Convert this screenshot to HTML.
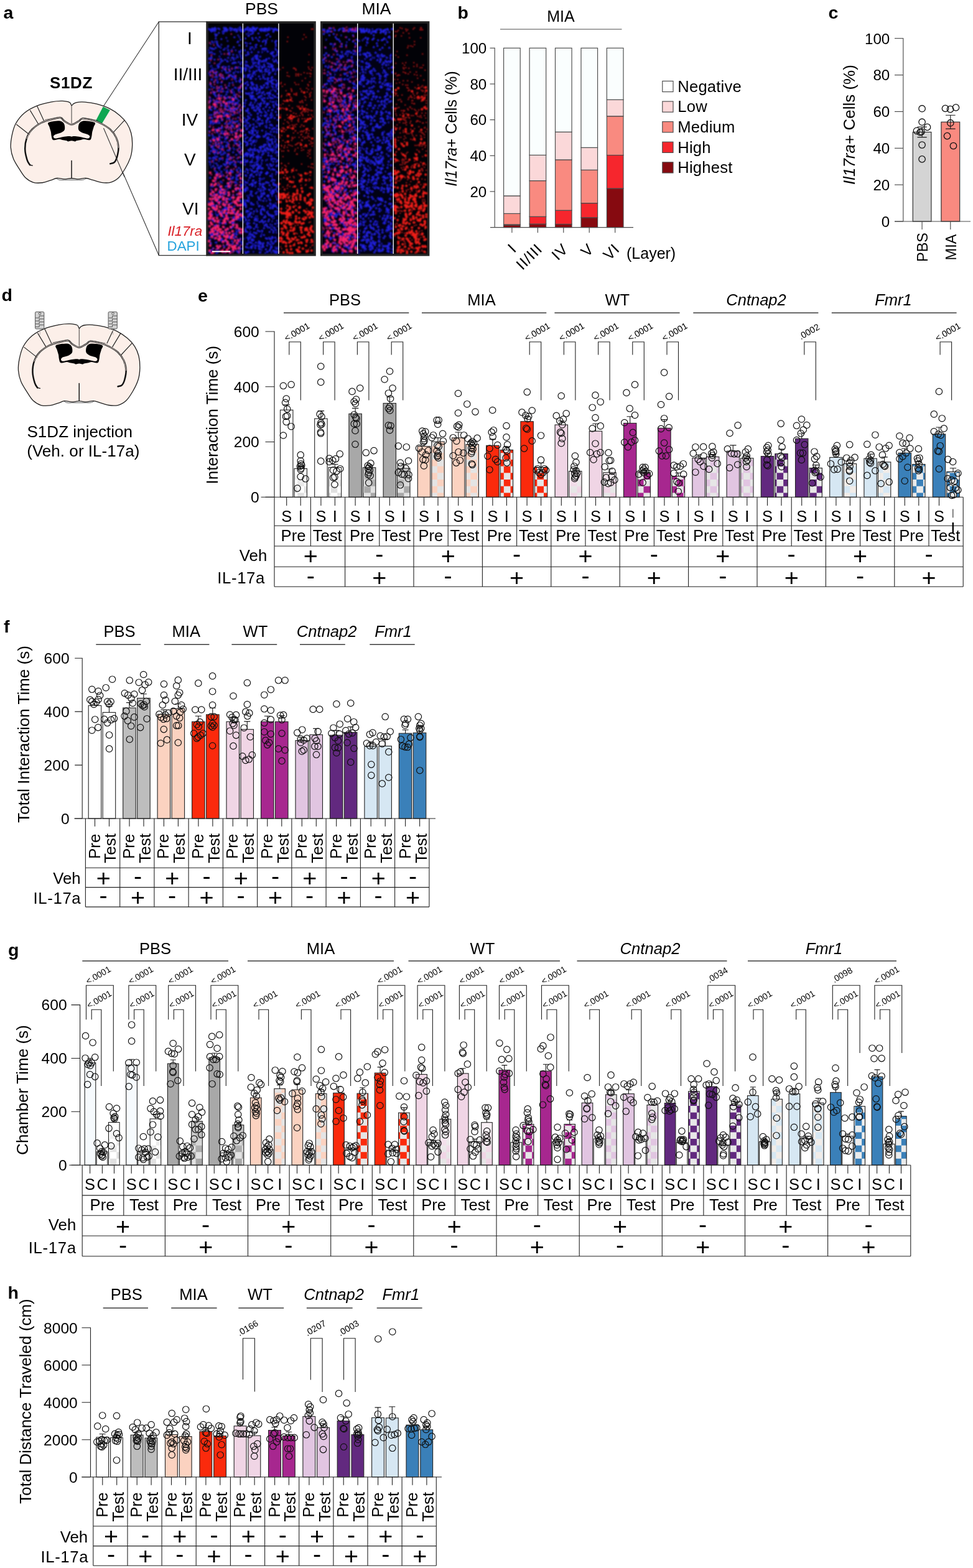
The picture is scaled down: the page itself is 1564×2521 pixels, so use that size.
<!DOCTYPE html>
<html lang="en"><head><meta charset="utf-8"><title>Figure</title>
<style>html,body{margin:0;padding:0;background:#fff}svg{display:block}text{font-family:'Liberation Sans', Arial, Helvetica, sans-serif}</style>
</head><body>
<svg width="1564" height="2521" viewBox="0 0 1564 2521" stroke-linecap="butt">
<defs><filter id="bl" x="-5%" y="-5%" width="110%" height="110%"><feGaussianBlur stdDeviation="0.8"/></filter><pattern id="ck0" width="21.4" height="21.4" patternUnits="userSpaceOnUse" patternTransform="translate(18 0.6)"><rect width="21.4" height="21.4" fill="#e0e0e0"/><path d="M0 0h10.7v10.7h-10.7zM10.7 10.7h10.7v10.7h-10.7z" fill="#ffffff"/></pattern><pattern id="ck1" width="21.4" height="21.4" patternUnits="userSpaceOnUse" patternTransform="translate(18 0.6)"><rect width="21.4" height="21.4" fill="#e2e2e2"/><path d="M0 0h10.7v10.7h-10.7zM10.7 10.7h10.7v10.7h-10.7z" fill="#a8a8a8"/></pattern><pattern id="ck2" width="21.4" height="21.4" patternUnits="userSpaceOnUse" patternTransform="translate(18 0.6)"><rect width="21.4" height="21.4" fill="#e4e4e4"/><path d="M0 0h10.7v10.7h-10.7zM10.7 10.7h10.7v10.7h-10.7z" fill="#fbd2c0"/></pattern><pattern id="ck3" width="21.4" height="21.4" patternUnits="userSpaceOnUse" patternTransform="translate(18 0.6)"><rect width="21.4" height="21.4" fill="#e6e6e6"/><path d="M0 0h10.7v10.7h-10.7zM10.7 10.7h10.7v10.7h-10.7z" fill="#fb2a0c"/></pattern><pattern id="ck4" width="21.4" height="21.4" patternUnits="userSpaceOnUse" patternTransform="translate(18 0.6)"><rect width="21.4" height="21.4" fill="#e6e6e6"/><path d="M0 0h10.7v10.7h-10.7zM10.7 10.7h10.7v10.7h-10.7z" fill="#f0d5e5"/></pattern><pattern id="ck5" width="21.4" height="21.4" patternUnits="userSpaceOnUse" patternTransform="translate(18 0.6)"><rect width="21.4" height="21.4" fill="#e6e6e6"/><path d="M0 0h10.7v10.7h-10.7zM10.7 10.7h10.7v10.7h-10.7z" fill="#a7278f"/></pattern><pattern id="ck6" width="21.4" height="21.4" patternUnits="userSpaceOnUse" patternTransform="translate(18 0.6)"><rect width="21.4" height="21.4" fill="#e6e6e6"/><path d="M0 0h10.7v10.7h-10.7zM10.7 10.7h10.7v10.7h-10.7z" fill="#e1c5e1"/></pattern><pattern id="ck7" width="21.4" height="21.4" patternUnits="userSpaceOnUse" patternTransform="translate(18 0.6)"><rect width="21.4" height="21.4" fill="#e8e8e8"/><path d="M0 0h10.7v10.7h-10.7zM10.7 10.7h10.7v10.7h-10.7z" fill="#62297f"/></pattern><pattern id="ck8" width="21.4" height="21.4" patternUnits="userSpaceOnUse" patternTransform="translate(18 0.6)"><rect width="21.4" height="21.4" fill="#f1ece8"/><path d="M0 0h10.7v10.7h-10.7zM10.7 10.7h10.7v10.7h-10.7z" fill="#d6e7f3"/></pattern><pattern id="ck9" width="21.4" height="21.4" patternUnits="userSpaceOnUse" patternTransform="translate(18 0.6)"><rect width="21.4" height="21.4" fill="#ebebeb"/><path d="M0 0h10.7v10.7h-10.7zM10.7 10.7h10.7v10.7h-10.7z" fill="#3a80b9"/></pattern><pattern id="gk0" width="21.2" height="21.2" patternUnits="userSpaceOnUse" patternTransform="translate(7.2 7.8)"><rect width="21.2" height="21.2" fill="#e0e0e0"/><path d="M0 0h10.6v10.6h-10.6zM10.6 10.6h10.6v10.6h-10.6z" fill="#ffffff"/></pattern><pattern id="gk1" width="21.2" height="21.2" patternUnits="userSpaceOnUse" patternTransform="translate(7.2 7.8)"><rect width="21.2" height="21.2" fill="#e2e2e2"/><path d="M0 0h10.6v10.6h-10.6zM10.6 10.6h10.6v10.6h-10.6z" fill="#a8a8a8"/></pattern><pattern id="gk2" width="21.2" height="21.2" patternUnits="userSpaceOnUse" patternTransform="translate(7.2 7.8)"><rect width="21.2" height="21.2" fill="#e4e4e4"/><path d="M0 0h10.6v10.6h-10.6zM10.6 10.6h10.6v10.6h-10.6z" fill="#fbd2c0"/></pattern><pattern id="gk3" width="21.2" height="21.2" patternUnits="userSpaceOnUse" patternTransform="translate(7.2 7.8)"><rect width="21.2" height="21.2" fill="#e6e6e6"/><path d="M0 0h10.6v10.6h-10.6zM10.6 10.6h10.6v10.6h-10.6z" fill="#fb2a0c"/></pattern><pattern id="gk4" width="21.2" height="21.2" patternUnits="userSpaceOnUse" patternTransform="translate(7.2 7.8)"><rect width="21.2" height="21.2" fill="#e6e6e6"/><path d="M0 0h10.6v10.6h-10.6zM10.6 10.6h10.6v10.6h-10.6z" fill="#f0d5e5"/></pattern><pattern id="gk5" width="21.2" height="21.2" patternUnits="userSpaceOnUse" patternTransform="translate(7.2 7.8)"><rect width="21.2" height="21.2" fill="#e6e6e6"/><path d="M0 0h10.6v10.6h-10.6zM10.6 10.6h10.6v10.6h-10.6z" fill="#a7278f"/></pattern><pattern id="gk6" width="21.2" height="21.2" patternUnits="userSpaceOnUse" patternTransform="translate(7.2 7.8)"><rect width="21.2" height="21.2" fill="#e6e6e6"/><path d="M0 0h10.6v10.6h-10.6zM10.6 10.6h10.6v10.6h-10.6z" fill="#e1c5e1"/></pattern><pattern id="gk7" width="21.2" height="21.2" patternUnits="userSpaceOnUse" patternTransform="translate(7.2 7.8)"><rect width="21.2" height="21.2" fill="#e8e8e8"/><path d="M0 0h10.6v10.6h-10.6zM10.6 10.6h10.6v10.6h-10.6z" fill="#62297f"/></pattern><pattern id="gk8" width="21.2" height="21.2" patternUnits="userSpaceOnUse" patternTransform="translate(7.2 7.8)"><rect width="21.2" height="21.2" fill="#f1ece8"/><path d="M0 0h10.6v10.6h-10.6zM10.6 10.6h10.6v10.6h-10.6z" fill="#d6e7f3"/></pattern><pattern id="gk9" width="21.2" height="21.2" patternUnits="userSpaceOnUse" patternTransform="translate(7.2 7.8)"><rect width="21.2" height="21.2" fill="#ebebeb"/><path d="M0 0h10.6v10.6h-10.6zM10.6 10.6h10.6v10.6h-10.6z" fill="#3a80b9"/></pattern><linearGradient id="fde0" gradientUnits="userSpaceOnUse" x1="0" y1="753.3" x2="0" y2="787.3"><stop offset="0" stop-color="#ffffff"/><stop offset="1" stop-color="#ffffff" stop-opacity="0"/></linearGradient><linearGradient id="fde1" gradientUnits="userSpaceOnUse" x1="0" y1="753.3" x2="0" y2="787.3"><stop offset="0" stop-color="#c4c4c4"/><stop offset="1" stop-color="#c4c4c4" stop-opacity="0"/></linearGradient><linearGradient id="fde4" gradientUnits="userSpaceOnUse" x1="0" y1="753.3" x2="0" y2="787.3"><stop offset="0" stop-color="#f9f0f5"/><stop offset="1" stop-color="#f9f0f5" stop-opacity="0"/></linearGradient><linearGradient id="fdg0" gradientUnits="userSpaceOnUse" x1="0" y1="1811.2" x2="0" y2="1855.2"><stop offset="0" stop-color="#ffffff"/><stop offset="1" stop-color="#ffffff" stop-opacity="0"/></linearGradient><linearGradient id="fdg1" gradientUnits="userSpaceOnUse" x1="0" y1="1811.2" x2="0" y2="1855.2"><stop offset="0" stop-color="#c4c4c4"/><stop offset="1" stop-color="#c4c4c4" stop-opacity="0"/></linearGradient><linearGradient id="fdg4" gradientUnits="userSpaceOnUse" x1="0" y1="1811.2" x2="0" y2="1855.2"><stop offset="0" stop-color="#f9f0f5"/><stop offset="1" stop-color="#f9f0f5" stop-opacity="0"/></linearGradient></defs>
<rect width="1564" height="2521" fill="#fff"/>
<g id="panel-a">
<text font-size="28.5" font-weight="bold" x="5.5" y="30">a</text>
<text font-size="26" text-anchor="middle" font-weight="bold" letter-spacing="0.6" x="114.5" y="142.3">S1DZ</text>
<g stroke="#333" stroke-width="1.1">
<line x1="165.5" y1="172" x2="255.3" y2="35"/>
<line x1="166.5" y1="206" x2="255.3" y2="410.5"/>
</g>
<g transform="translate(10 150) scale(0.14550)" stroke-linejoin="round" stroke-linecap="round">
<path d="M722 135C715 132 717 108 700 100C683 92 653 86 620 85C587 84 547 86 500 95C453 104 390 118 340 138C290 158 239 185 200 218C161 251 128 293 105 335C82 377 71 426 62 470C53 514 47 558 50 600C53 642 63 684 80 725C97 766 128 810 150 845C172 880 190 912 215 935C240 958 269 976 300 985C331 994 368 992 400 988C432 984 463 970 490 962C517 954 535 940 560 938C585 936 613 948 640 948C667 948 695 940 722 940C749 940 774 948 800 948C826 948 854 936 880 938C906 940 927 950 955 958C983 966 1018 980 1050 985C1082 990 1118 993 1150 985C1182 977 1212 961 1240 935C1268 909 1292 869 1315 830C1338 791 1362 743 1375 700C1388 657 1392 613 1393 570C1394 527 1390 479 1380 440C1370 401 1356 368 1335 335C1314 302 1288 273 1255 245C1222 217 1182 189 1140 168C1098 147 1045 130 1000 118C955 106 907 100 870 97C833 94 802 96 780 100C758 104 750 112 740 118C730 124 729 138 722 135Z" fill="#fcefe9" stroke="#222" stroke-width="9"/>
<path d="M555 940C575 960 600 962 640 958L800 958C850 960 865 955 885 940" fill="none" stroke="#222" stroke-width="5"/>
<path d="M340 140L415 300M265 190L355 340M115 345L255 455" fill="none" stroke="#222" stroke-width="8"/>
<path d="M1305 300L1185 430" fill="none" stroke="#222" stroke-width="8"/>
<path d="M1070 148L1147 186L1055 338L988 306Z" fill="#0fa651" stroke="none"/>
<path d="M722 135L722 330" fill="none" stroke="#222" stroke-width="6"/>
<path d="M262 792C257 783 241 769 232 740C223 711 209 660 208 620C207 580 212 537 225 500C238 463 259 428 285 400C311 372 348 348 380 330C412 312 444 305 480 295C516 285 571 268 598 270C625 272 619 292 640 305C661 318 694 345 722 345C750 345 784 316 805 305C826 294 818 279 845 278C872 277 929 290 965 300C1001 310 1029 323 1060 340C1091 357 1124 375 1150 400C1176 425 1200 457 1215 490C1230 523 1238 565 1240 600C1242 635 1232 673 1225 700C1218 727 1208 749 1195 762C1182 775 1158 775 1150 778" fill="none" stroke="#111" stroke-width="17"/>
<path d="M225 500C235 483 259 428 285 400C311 372 348 348 380 330C412 312 444 305 480 295C516 285 571 268 598 270C625 272 619 292 640 305C661 318 694 345 722 345C750 345 784 316 805 305C826 294 818 279 845 278C872 277 929 290 965 300C1001 310 1029 323 1060 340C1091 357 1124 375 1150 400C1176 425 1200 457 1215 490C1230 523 1236 582 1240 600" fill="none" stroke="#fcefe9" stroke-width="6"/>
<path d="M262 792L290 798M1150 778L1190 765" fill="none" stroke="#111" stroke-width="9"/>
<path d="M430 292L595 262L640 296M1010 300L845 270L805 298" fill="none" stroke="#222" stroke-width="4"/>
<path d="M722 480C713 480 709 475 695 475C681 475 658 477 640 480C622 483 603 488 586 491C569 494 551 500 540 499C529 498 524 490 522 485C520 480 521 473 525 468C529 463 533 459 548 453C563 447 597 440 613 431C629 422 642 414 646 398C650 382 647 353 640 338C633 323 620 312 602 307C584 302 554 304 531 307C508 310 472 316 463 327C454 338 472 355 477 371C482 387 489 409 493 425C497 441 496 455 499 469C502 483 504 499 509 507C514 515 518 518 531 518C544 518 570 507 586 507C602 507 616 515 630 518C644 521 659 522 668 524C677 526 675 532 684 532C693 532 709 524 722 524C735 524 751 532 760 532C769 532 767 526 776 524C785 522 800 521 814 518C828 515 842 507 858 507C874 507 900 518 913 518C926 518 930 515 935 507C940 499 942 483 945 469C948 455 947 441 951 425C955 409 962 387 967 371C972 355 990 338 981 327C972 316 936 310 913 307C890 304 860 302 842 307C824 312 811 323 804 338C797 353 794 382 798 398C802 414 815 422 831 431C847 440 881 447 896 453C911 459 915 463 919 468C923 473 924 480 922 485C920 490 915 498 904 499C893 500 875 494 858 491C841 488 822 483 804 480C786 477 763 475 749 475C735 475 731 480 722 480Z" fill="#000" stroke="none"/>
<path d="M722 745L722 935" fill="none" stroke="#111" stroke-width="10"/>
</g>
<line x1="166.5" y1="206" x2="200" y2="284.3" stroke-width="1.1" stroke="#333"/>
<rect x="255.3" y="35" width="77" height="375.6" fill="#fff" stroke="#333" stroke-width="1.3"/>
<text font-size="28" text-anchor="middle" x="305" y="71">I</text>
<text font-size="28" text-anchor="middle" x="302" y="128.5">II/III</text>
<text font-size="28" text-anchor="middle" x="305" y="202">IV</text>
<text font-size="28" text-anchor="middle" x="305.4" y="265.5">V</text>
<text font-size="28" text-anchor="middle" x="306.3" y="344.5">VI</text>
<text font-size="22.3" text-anchor="middle" font-style="italic" fill="#d92027" x="297.3" y="379">Il17ra</text>
<text font-size="22.3" text-anchor="middle" fill="#26a3dd" x="294.6" y="402.5">DAPI</text>
<text font-size="26.5" text-anchor="middle" x="420.5" y="22.6">PBS</text>
<text font-size="26.5" text-anchor="middle" x="605" y="22.6">MIA</text>
<rect x="331.4" y="34.2" width="176.4" height="377.4" fill="#242424"/>
<rect x="334.8" y="37.8" width="169.4" height="370.2" fill="#020207"/>
<g fill="none" stroke-linecap="round" filter="url(#bl)">
<g transform="translate(334.8 37.8)">
<rect x="0" y="40" width="55.6" height="330.2" fill="#08084a" opacity=".15"/>
<path d="M36 8h0M48 8h0M52 8h0M2 9h0M28 9h0M35 9h0M41 9h0M52 9h0M39 10h0M42 11h0M4 12h0M9 12h0M29 12h0M30 12h0M5 13h0M23 13h0M26 13h0M45 13h0M46 13h0M48 19h0M50 22h0M29 23h0M31 28h0M11 29h0M8 31h0M4 33h0M15 34h0M21 34h0M19 38h0M20 39h0M31 39h0M27 40h0M6 41h0M38 42h0M1 43h0M37 43h0M44 43h0M53 43h0M19 45h0M52 45h0M50 47h0M7 48h0M21 49h0M51 50h0M46 51h0M53 52h0M18 53h0M52 53h0M44 56h0M1 57h0M21 59h0M36 59h0M30 60h0M42 63h0M15 66h0M5 68h0M4 69h0M25 69h0M49 70h0M48 71h0M51 71h0M7 72h0M54 72h0M12 73h0M38 73h0M9 74h0M22 76h0M3 77h0M44 77h0M41 79h0M1 80h0M12 80h0M3 81h0M23 83h0M36 83h0M41 84h0M41 87h0M51 88h0M29 89h0M14 90h0M43 90h0M13 91h0M15 93h0M52 101h0M18 102h0M14 103h0M29 103h0M17 104h0M22 104h0M45 104h0M23 105h0M21 106h0M32 106h0M19 107h0M18 109h0M7 110h0M29 110h0M31 110h0M41 110h0M39 111h0M42 113h0M17 115h0M41 115h0M18 117h0M44 118h0M38 119h0M16 120h0M30 120h0M35 120h0M8 122h0M12 124h0M13 125h0M18 125h0M40 125h0M2 127h0M21 127h0M30 127h0M42 127h0M12 128h0M14 130h0M32 130h0M39 130h0M48 130h0M43 131h0M22 132h0M50 132h0M28 133h0M34 134h0M40 134h0M10 137h0M36 138h0M15 140h0M36 140h0M40 140h0M36 141h0M27 142h0M37 142h0M40 142h0M48 142h0M15 143h0M12 144h0M50 144h0M33 145h0M9 146h0M30 146h0M42 146h0M2 147h0M27 148h0M11 150h0M18 150h0M5 152h0M30 153h0M15 154h0M3 157h0M17 157h0M6 159h0M12 159h0M35 159h0M12 160h0M15 160h0M34 161h0M7 162h0M49 165h0M32 166h0M33 167h0M45 167h0M29 168h0M13 172h0M36 173h0M26 174h0M42 174h0M53 174h0M36 175h0M29 176h0M17 178h0M1 179h0M27 179h0M31 181h0M43 181h0M44 181h0M27 182h0M12 183h0M17 183h0M46 184h0M8 185h0M27 185h0M8 187h0M42 188h0M15 189h0M21 190h0M20 194h0M2 195h0M3 195h0M30 196h0M19 197h0M6 199h0M53 199h0M22 200h0M40 200h0M41 202h0M42 202h0M47 202h0M21 203h0M7 204h0M14 204h0M14 205h0M25 206h0M8 207h0M25 207h0M50 209h0M31 210h0M33 211h0M11 213h0M12 215h0M8 216h0M10 216h0M2 217h0M3 217h0M4 217h0M11 217h0M46 217h0M19 218h0M30 218h0M23 219h0M17 221h0M35 222h0M40 222h0M51 223h0M3 224h0M9 224h0M3 227h0M28 227h0M41 227h0M19 230h0M5 231h0M52 234h0M18 235h0M26 235h0M50 239h0M32 240h0M21 241h0M16 242h0M17 242h0M50 242h0M23 243h0M45 243h0M36 246h0M15 248h0M16 248h0M30 248h0M13 249h0M22 256h0M32 257h0M46 257h0M33 259h0M44 259h0M4 262h0M31 266h0M4 267h0M29 270h0M53 270h0M21 271h0M32 272h0M10 274h0M15 274h0M12 275h0M25 275h0M12 278h0M51 279h0M15 280h0M23 281h0M53 285h0M1 287h0M2 288h0M26 288h0M45 288h0M54 288h0M19 289h0M18 290h0M29 290h0M3 291h0M26 292h0M6 293h0M48 293h0M52 293h0M13 295h0M36 295h0M31 296h0M10 299h0M23 299h0M38 299h0M39 299h0M26 300h0M12 302h0M41 303h0M18 304h0M34 304h0M1 305h0M12 306h0M53 307h0M6 308h0M30 310h0M3 311h0M41 311h0M33 312h0M54 312h0M26 313h0M20 315h0M42 316h0M50 316h0M53 316h0M32 317h0M10 318h0M27 320h0M36 320h0M18 324h0M10 325h0M15 325h0M40 325h0M12 326h0M26 328h0M4 331h0M45 332h0M24 334h0M29 334h0M34 336h0M44 337h0M21 339h0M23 339h0M28 341h0M41 341h0M30 342h0M40 342h0M44 343h0M2 344h0M32 344h0M9 345h0M10 346h0M47 346h0M52 346h0M51 348h0M22 349h0M43 349h0M29 350h0M48 350h0M49 350h0M22 351h0M34 354h0M48 355h0M46 356h0M15 357h0M25 358h0M48 362h0M12 364h0M5 365h0M51 365h0M15 368h0M35 369h0" stroke="#111188" stroke-width="3.8"/>
<path d="M51 6h0M11 7h0M25 7h0M28 7h0M35 7h0M6 8h0M9 8h0M16 8h0M29 8h0M38 8h0M1 9h0M7 9h0M11 9h0M12 9h0M18 9h0M26 9h0M43 9h0M44 9h0M3 10h0M6 10h0M7 10h0M31 10h0M42 10h0M46 10h0M50 10h0M54 10h0M5 11h0M8 11h0M28 11h0M29 11h0M36 11h0M6 12h0M11 12h0M25 12h0M46 12h0M52 12h0M53 12h0M54 13h0M17 15h0M24 16h0M11 17h0M14 18h0M12 20h0M42 22h0M12 24h0M21 25h0M52 26h0M6 29h0M14 29h0M48 29h0M47 30h0M14 32h0M15 35h0M50 35h0M32 36h0M17 37h0M41 38h0M3 39h0M12 39h0M6 40h0M9 41h0M25 42h0M32 43h0M50 45h0M5 46h0M2 47h0M33 47h0M34 47h0M10 49h0M34 50h0M40 50h0M5 54h0M47 54h0M32 55h0M38 55h0M40 55h0M2 56h0M5 56h0M54 56h0M20 57h0M10 58h0M27 58h0M41 58h0M23 60h0M31 61h0M20 62h0M49 62h0M54 62h0M2 63h0M41 63h0M44 63h0M39 64h0M18 65h0M52 65h0M15 68h0M17 69h0M33 69h0M23 70h0M28 70h0M44 70h0M16 71h0M43 72h0M54 72h0M25 73h0M33 73h0M27 74h0M5 75h0M54 75h0M7 76h0M28 76h0M35 77h0M14 78h0M48 78h0M53 78h0M9 79h0M29 79h0M32 79h0M41 80h0M12 81h0M18 82h0M3 83h0M34 83h0M36 83h0M18 84h0M44 84h0M38 85h0M11 86h0M14 86h0M33 86h0M40 86h0M22 87h0M23 87h0M30 87h0M24 88h0M30 88h0M43 88h0M44 88h0M25 89h0M5 90h0M6 90h0M52 91h0M50 92h0M45 93h0M50 93h0M9 94h0M51 94h0M15 95h0M21 95h0M39 95h0M34 96h0M4 97h0M3 98h0M33 100h0M53 100h0M5 101h0M21 101h0M9 103h0M29 103h0M43 103h0M51 104h0M2 106h0M39 106h0M49 106h0M16 108h0M49 108h0M24 109h0M37 109h0M54 109h0M9 110h0M31 110h0M11 111h0M9 113h0M29 114h0M11 115h0M43 115h0M16 116h0M21 116h0M12 117h0M26 117h0M32 118h0M44 118h0M52 118h0M26 119h0M39 119h0M3 120h0M28 120h0M43 120h0M46 121h0M41 123h0M4 124h0M49 124h0M14 125h0M35 125h0M39 125h0M2 126h0M15 126h0M32 126h0M38 126h0M10 127h0M11 127h0M36 127h0M47 127h0M26 128h0M44 128h0M45 128h0M42 130h0M11 131h0M21 131h0M27 132h0M33 133h0M6 134h0M11 134h0M27 135h0M47 136h0M11 137h0M34 137h0M36 137h0M39 137h0M43 137h0M45 137h0M3 138h0M29 138h0M40 138h0M5 139h0M31 139h0M53 139h0M36 140h0M42 140h0M13 142h0M10 143h0M18 144h0M24 144h0M11 145h0M25 145h0M29 145h0M31 145h0M5 147h0M39 147h0M20 148h0M25 149h0M11 150h0M48 151h0M6 152h0M21 152h0M33 152h0M34 153h0M14 156h0M22 156h0M38 156h0M5 157h0M13 157h0M47 157h0M5 158h0M13 158h0M41 158h0M44 158h0M4 159h0M36 159h0M9 160h0M18 160h0M40 160h0M3 161h0M27 161h0M32 161h0M49 161h0M38 163h0M40 165h0M2 166h0M22 166h0M31 166h0M40 166h0M17 168h0M21 168h0M22 168h0M37 168h0M50 169h0M12 170h0M16 170h0M13 171h0M47 171h0M2 173h0M22 173h0M46 173h0M14 175h0M38 175h0M21 176h0M24 177h0M44 177h0M2 180h0M7 180h0M18 181h0M44 182h0M48 182h0M9 183h0M22 183h0M30 184h0M7 185h0M17 185h0M28 186h0M11 187h0M15 187h0M18 187h0M3 188h0M35 188h0M41 188h0M42 188h0M45 188h0M4 190h0M26 190h0M50 190h0M12 191h0M21 191h0M30 191h0M43 192h0M32 193h0M44 193h0M46 193h0M52 193h0M12 194h0M16 194h0M50 195h0M12 196h0M29 196h0M8 197h0M23 197h0M29 198h0M50 198h0M5 199h0M24 199h0M8 201h0M18 201h0M35 201h0M8 203h0M11 203h0M54 203h0M31 204h0M34 204h0M4 205h0M20 206h0M49 206h0M52 206h0M12 207h0M19 207h0M40 207h0M19 208h0M27 208h0M2 209h0M10 209h0M15 209h0M24 210h0M21 211h0M45 211h0M31 212h0M14 214h0M31 214h0M35 215h0M52 215h0M2 216h0M8 216h0M10 216h0M38 216h0M18 217h0M20 217h0M30 218h0M33 218h0M30 219h0M8 220h0M2 222h0M29 222h0M31 222h0M43 222h0M48 222h0M53 222h0M54 222h0M38 223h0M35 224h0M53 224h0M13 225h0M29 225h0M30 225h0M34 225h0M25 226h0M35 226h0M43 226h0M15 228h0M27 228h0M8 229h0M21 229h0M44 229h0M31 230h0M11 232h0M16 232h0M18 232h0M49 232h0M46 235h0M30 236h0M36 236h0M46 236h0M52 236h0M11 237h0M38 237h0M21 238h0M30 238h0M36 238h0M39 238h0M53 238h0M14 239h0M39 239h0M13 241h0M52 243h0M15 244h0M48 244h0M21 245h0M46 245h0M47 245h0M29 247h0M40 247h0M3 248h0M45 248h0M52 248h0M39 249h0M36 250h0M45 251h0M47 251h0M54 251h0M11 253h0M20 254h0M35 255h0M43 255h0M44 255h0M12 257h0M31 257h0M6 258h0M33 258h0M54 259h0M16 260h0M52 260h0M55 260h0M31 261h0M7 262h0M28 262h0M19 263h0M53 263h0M35 264h0M45 264h0M20 265h0M12 266h0M21 266h0M50 266h0M19 268h0M22 268h0M25 268h0M45 268h0M51 268h0M53 270h0M6 271h0M17 271h0M54 272h0M23 273h0M20 274h0M28 274h0M10 275h0M34 275h0M46 275h0M4 276h0M19 276h0M40 276h0M32 277h0M22 278h0M37 280h0M40 280h0M29 281h0M9 282h0M33 282h0M14 283h0M16 283h0M26 283h0M35 283h0M29 285h0M51 285h0M14 286h0M20 286h0M7 287h0M17 287h0M42 288h0M37 289h0M34 290h0M9 292h0M13 292h0M25 292h0M5 293h0M26 293h0M42 294h0M9 295h0M10 295h0M34 295h0M10 296h0M28 296h0M33 296h0M27 297h0M39 297h0M9 298h0M13 298h0M26 298h0M29 298h0M38 298h0M9 299h0M30 299h0M25 300h0M41 302h0M21 303h0M46 304h0M19 305h0M28 305h0M30 305h0M37 305h0M54 305h0M6 306h0M18 306h0M22 306h0M30 306h0M43 306h0M21 307h0M48 307h0M15 308h0M14 309h0M22 309h0M49 309h0M24 310h0M47 310h0M54 310h0M41 312h0M49 313h0M53 313h0M40 314h0M1 315h0M6 315h0M42 315h0M46 315h0M8 316h0M9 318h0M39 319h0M18 320h0M25 320h0M41 320h0M22 321h0M28 322h0M39 322h0M46 323h0M12 324h0M46 325h0M39 327h0M37 329h0M49 330h0M6 331h0M32 331h0M50 332h0M11 333h0M49 333h0M15 335h0M46 335h0M25 336h0M7 337h0M51 337h0M3 338h0M11 338h0M16 338h0M22 338h0M41 338h0M12 339h0M40 339h0M45 339h0M46 339h0M5 340h0M8 340h0M14 340h0M24 340h0M31 340h0M5 341h0M15 342h0M18 342h0M32 342h0M35 342h0M38 342h0M44 343h0M34 345h0M41 345h0M17 346h0M18 346h0M22 346h0M52 346h0M3 348h0M19 348h0M22 348h0M26 349h0M29 350h0M38 350h0M50 351h0M54 351h0M12 352h0M13 352h0M54 352h0M4 353h0M4 354h0M39 354h0M54 355h0M30 356h0M44 357h0M26 359h0M50 359h0M17 360h0M8 361h0M51 362h0M54 362h0M14 363h0M6 364h0M16 366h0M36 366h0M41 366h0M46 366h0M2 367h0M35 367h0M50 367h0M3 368h0M27 368h0M48 368h0M13 369h0" stroke="#2222dc" stroke-width="3.3"/>
<path d="M37 17h0M2 31h0M9 35h0M38 45h0M26 49h0M31 49h0M5 51h0M16 58h0M4 59h0M10 64h0M22 71h0M46 71h0M38 72h0M28 73h0M34 75h0M7 77h0M3 78h0M12 78h0M8 79h0M20 81h0M19 82h0M7 83h0M13 83h0M22 83h0M4 84h0M33 84h0M20 85h0M44 85h0M7 86h0M24 86h0M19 89h0M38 90h0M53 90h0M11 91h0M22 93h0M10 94h0M3 95h0M4 97h0M10 98h0M54 98h0M27 99h0M40 99h0M14 101h0M52 101h0M17 103h0M28 103h0M49 103h0M52 103h0M14 105h0M23 105h0M6 106h0M36 108h0M14 109h0M9 110h0M21 110h0M4 111h0M37 111h0M50 111h0M4 112h0M17 114h0M46 114h0M49 116h0M17 117h0M49 117h0M2 118h0M35 118h0M44 118h0M25 119h0M34 119h0M17 120h0M21 120h0M27 120h0M14 121h0M26 122h0M39 122h0M2 124h0M9 124h0M20 124h0M24 125h0M1 126h0M12 127h0M16 127h0M18 127h0M1 128h0M34 128h0M20 129h0M39 129h0M44 130h0M51 131h0M2 132h0M11 133h0M20 133h0M30 133h0M12 134h0M14 134h0M40 134h0M49 134h0M54 135h0M37 136h0M42 136h0M18 137h0M21 137h0M37 137h0M39 137h0M26 138h0M28 138h0M51 138h0M20 139h0M46 139h0M19 140h0M23 140h0M32 140h0M35 141h0M39 141h0M51 141h0M10 142h0M20 142h0M22 142h0M42 142h0M14 143h0M24 143h0M43 143h0M15 144h0M42 144h0M46 144h0M12 145h0M10 146h0M36 146h0M30 147h0M14 148h0M28 148h0M52 148h0M10 149h0M35 149h0M33 150h0M3 151h0M21 151h0M2 152h0M51 152h0M40 153h0M44 153h0M22 154h0M23 154h0M13 155h0M14 155h0M51 155h0M53 155h0M8 156h0M13 156h0M15 156h0M34 156h0M8 157h0M13 157h0M30 157h0M53 158h0M29 159h0M40 159h0M43 161h0M30 163h0M51 163h0M22 164h0M46 164h0M47 164h0M3 165h0M30 165h0M37 165h0M27 166h0M31 166h0M8 167h0M35 167h0M46 167h0M29 168h0M19 169h0M42 169h0M33 170h0M37 170h0M54 171h0M6 172h0M7 172h0M18 172h0M47 172h0M51 172h0M52 172h0M18 173h0M28 173h0M29 173h0M38 173h0M2 175h0M10 175h0M6 177h0M20 177h0M27 177h0M52 178h0M34 179h0M39 179h0M45 180h0M50 180h0M54 180h0M18 183h0M30 183h0M31 183h0M49 183h0M49 184h0M14 185h0M48 186h0M8 187h0M47 187h0M4 188h0M16 188h0M46 188h0M34 189h0M12 192h0M17 192h0M22 192h0M8 193h0M46 194h0M33 195h0M13 196h0M41 196h0M47 196h0M49 196h0M5 197h0M13 197h0M17 197h0M33 198h0M15 199h0M16 199h0M34 200h0M34 201h0M50 201h0M22 202h0M24 203h0M47 204h0M54 205h0M8 206h0M10 206h0M51 207h0M16 208h0M33 210h0M53 210h0M36 215h0M41 215h0M49 215h0M23 216h0M48 216h0M34 218h0M36 218h0M13 219h0M41 220h0M6 222h0M44 223h0M31 224h0M53 224h0M32 230h0M44 231h0M29 232h0M10 234h0M41 234h0M37 235h0M47 239h0M29 240h0M34 240h0M15 242h0M18 242h0M52 242h0M5 243h0M12 244h0M31 244h0M36 244h0M50 244h0M25 245h0M30 245h0M49 245h0M10 247h0M12 247h0M12 252h0M24 252h0M10 253h0M10 254h0M36 254h0M37 254h0M38 255h0M40 255h0M51 255h0M53 255h0M16 256h0M18 258h0M37 258h0M10 259h0M45 260h0M50 260h0M34 261h0M36 261h0M43 261h0M55 263h0M54 265h0M14 266h0M52 266h0M24 267h0M27 267h0M6 268h0M18 268h0M12 269h0M19 270h0M27 270h0M6 271h0M50 271h0M54 271h0M50 273h0M47 274h0M26 275h0M40 275h0M7 276h0M11 276h0M15 276h0M54 276h0M8 277h0M23 277h0M6 278h0M9 278h0M38 279h0M13 281h0M27 284h0M40 284h0M5 285h0M49 286h0M6 287h0M39 287h0M24 288h0M8 290h0M6 291h0M17 291h0M7 297h0M10 297h0M18 300h0M22 301h0M48 301h0M18 304h0M26 305h0M41 305h0M50 309h0M30 310h0M7 312h0M10 312h0M37 312h0M48 312h0M9 314h0M14 318h0M36 318h0M11 319h0M43 323h0M46 323h0M10 326h0M47 327h0M35 328h0M43 328h0M10 329h0M11 331h0M8 332h0M53 332h0M7 335h0M38 335h0M54 337h0M25 338h0M54 338h0M19 341h0M15 342h0M29 342h0M45 343h0M15 346h0M40 346h0M51 347h0M17 349h0M3 352h0M41 352h0M24 356h0M37 356h0M41 357h0M52 357h0M15 358h0M38 358h0M25 361h0M8 362h0M13 363h0M23 364h0M39 364h0M19 365h0M49 366h0M24 368h0M39 368h0M50 369h0" stroke="#b81c70" stroke-width="2.4"/>
<path d="M18 121h0M40 122h0M25 126h0M29 129h0M9 130h0M11 131h0M2 135h0M17 149h0M21 149h0M31 149h0M15 151h0M12 157h0M46 165h0M8 171h0M15 172h0M54 172h0M31 177h0M45 177h0M27 178h0M52 181h0M45 182h0M44 183h0M15 186h0M38 186h0M9 188h0M3 240h0M35 241h0M14 244h0M19 246h0M11 249h0M52 249h0M33 250h0M8 253h0M32 257h0M12 258h0M5 259h0M10 260h0M20 262h0M21 262h0M33 262h0M48 265h0M44 266h0M12 267h0M23 267h0M40 270h0M8 271h0M20 272h0M25 272h0M33 272h0M4 274h0M50 274h0M52 274h0M13 276h0M33 276h0M17 279h0M19 279h0M49 279h0M53 279h0M11 280h0M17 280h0M25 280h0M40 280h0M41 280h0M47 281h0M49 281h0M3 282h0M7 282h0M30 282h0M24 283h0M47 283h0M12 284h0M14 284h0M46 284h0M47 284h0M48 284h0M43 286h0M30 287h0M42 287h0M17 288h0M5 289h0M44 289h0M45 289h0M4 290h0M7 290h0M1 291h0M24 291h0M3 292h0M27 292h0M33 292h0M47 292h0M51 292h0M53 292h0M14 294h0M19 295h0M37 295h0M7 296h0M8 296h0M33 296h0M9 297h0M1 298h0M14 298h0M52 298h0M12 299h0M42 299h0M33 300h0M27 301h0M38 301h0M5 302h0M17 302h0M48 302h0M3 303h0M25 304h0M32 304h0M47 304h0M36 305h0M39 305h0M3 306h0M20 306h0M2 307h0M45 307h0M51 307h0M5 309h0M21 309h0M29 309h0M54 309h0M3 311h0M4 311h0M45 311h0M48 311h0M1 313h0M14 313h0M29 313h0M3 314h0M8 314h0M31 314h0M45 314h0M27 315h0M41 316h0M11 317h0M16 317h0M25 317h0M39 317h0M15 319h0M27 319h0M4 320h0M35 320h0M24 321h0M5 322h0M6 323h0M40 324h0M15 325h0M46 325h0M2 326h0M24 327h0M36 327h0M12 328h0M16 328h0M46 328h0M8 329h0M12 330h0M31 330h0M50 330h0M6 331h0M17 331h0M20 331h0M54 331h0M28 332h0M15 333h0M6 334h0M39 334h0M8 335h0M19 335h0M23 335h0M55 335h0M3 336h0M51 336h0M21 337h0M29 337h0M34 337h0M14 338h0M10 339h0M39 340h0M31 341h0M18 342h0M26 342h0M6 343h0M31 343h0M37 343h0M29 344h0M12 345h0M19 345h0M37 345h0M17 347h0M17 348h0M28 348h0M43 349h0M48 349h0M1 350h0M24 351h0M31 351h0M46 353h0M31 354h0M3 357h0M34 357h0M14 358h0M19 358h0M42 358h0M43 358h0M38 359h0M41 359h0M42 359h0M16 361h0M33 361h0M40 361h0M49 361h0M40 362h0M44 362h0M30 364h0M40 364h0M2 365h0M23 365h0M22 366h0M31 366h0M23 367h0M28 367h0M8 368h0M35 368h0M6 369h0" stroke="#f8206c" stroke-width="4"/>
</g>
<g transform="translate(390.4 37.8)">
<rect x="0" y="40" width="57.5" height="330.2" fill="#08084a" opacity=".2"/>
<path d="M14 8h0M20 8h0M52 8h0M13 9h0M16 9h0M34 9h0M39 9h0M7 10h0M28 10h0M42 10h0M11 11h0M12 11h0M13 11h0M31 11h0M39 11h0M30 12h0M38 12h0M49 12h0M1 13h0M49 13h0M9 15h0M6 17h0M10 19h0M39 25h0M24 26h0M34 27h0M37 28h0M47 28h0M7 32h0M36 34h0M20 35h0M12 38h0M52 40h0M18 41h0M31 41h0M38 42h0M35 43h0M56 44h0M31 46h0M47 46h0M56 46h0M8 50h0M47 50h0M22 52h0M53 52h0M20 53h0M22 53h0M50 54h0M17 55h0M19 55h0M38 58h0M48 58h0M53 58h0M17 59h0M35 59h0M15 60h0M16 60h0M5 61h0M34 61h0M37 61h0M16 62h0M24 63h0M4 66h0M17 67h0M27 67h0M15 68h0M30 69h0M23 70h0M43 71h0M26 73h0M5 74h0M10 74h0M30 75h0M4 76h0M53 76h0M17 77h0M31 78h0M16 81h0M20 82h0M35 82h0M2 83h0M32 83h0M10 85h0M16 85h0M11 86h0M12 88h0M33 88h0M21 89h0M51 90h0M13 95h0M2 97h0M8 99h0M40 99h0M14 100h0M34 100h0M46 100h0M41 102h0M53 103h0M18 105h0M25 106h0M49 106h0M17 107h0M27 108h0M45 108h0M53 109h0M28 110h0M16 111h0M10 114h0M15 117h0M12 119h0M13 119h0M29 120h0M33 120h0M17 121h0M4 124h0M44 125h0M54 125h0M47 126h0M53 126h0M19 127h0M4 128h0M24 129h0M38 129h0M56 131h0M3 133h0M14 133h0M16 134h0M8 139h0M48 139h0M28 141h0M35 141h0M11 144h0M24 145h0M39 146h0M44 148h0M48 148h0M36 149h0M47 149h0M9 150h0M9 151h0M41 152h0M44 152h0M21 157h0M6 160h0M24 160h0M6 164h0M38 164h0M4 165h0M36 165h0M18 166h0M6 168h0M8 168h0M49 168h0M50 169h0M54 170h0M24 173h0M23 174h0M37 174h0M54 174h0M14 176h0M18 179h0M46 179h0M2 180h0M37 180h0M47 180h0M16 181h0M33 181h0M51 182h0M39 184h0M41 186h0M52 186h0M41 187h0M54 187h0M22 188h0M19 190h0M21 190h0M39 190h0M41 192h0M6 193h0M46 194h0M14 195h0M35 195h0M44 195h0M19 196h0M50 197h0M55 197h0M51 198h0M39 200h0M48 201h0M52 202h0M23 203h0M50 203h0M18 204h0M36 204h0M54 205h0M31 206h0M37 206h0M11 207h0M48 207h0M52 208h0M4 210h0M6 211h0M25 212h0M55 212h0M56 212h0M45 213h0M2 214h0M29 216h0M46 217h0M26 218h0M3 219h0M15 219h0M39 219h0M25 220h0M37 220h0M46 220h0M15 223h0M19 224h0M21 224h0M30 224h0M30 226h0M49 227h0M12 228h0M45 228h0M48 228h0M41 230h0M27 231h0M30 232h0M12 234h0M45 235h0M49 235h0M19 238h0M25 240h0M29 241h0M14 242h0M28 242h0M47 242h0M53 242h0M6 245h0M13 245h0M47 245h0M47 247h0M34 249h0M28 250h0M31 250h0M9 252h0M2 253h0M37 256h0M20 257h0M2 258h0M4 260h0M16 260h0M31 260h0M27 261h0M20 262h0M55 262h0M32 263h0M5 264h0M7 264h0M46 264h0M29 266h0M53 266h0M8 267h0M4 268h0M50 268h0M27 269h0M12 270h0M13 271h0M14 271h0M23 271h0M35 274h0M11 276h0M29 276h0M7 277h0M47 277h0M53 277h0M24 278h0M54 280h0M42 282h0M43 282h0M10 283h0M29 284h0M38 285h0M23 287h0M13 288h0M44 289h0M53 289h0M13 290h0M24 290h0M14 291h0M49 291h0M47 292h0M53 293h0M44 294h0M47 295h0M54 295h0M34 296h0M11 298h0M22 299h0M6 301h0M35 301h0M40 302h0M56 302h0M52 304h0M17 306h0M8 307h0M9 308h0M36 309h0M10 310h0M21 310h0M23 310h0M48 311h0M19 313h0M48 313h0M50 313h0M24 314h0M5 316h0M7 318h0M47 318h0M2 319h0M33 321h0M7 323h0M22 323h0M44 323h0M47 324h0M47 326h0M56 326h0M5 328h0M24 328h0M40 328h0M50 328h0M11 330h0M12 335h0M31 335h0M54 336h0M30 339h0M10 340h0M11 341h0M13 342h0M17 342h0M18 342h0M8 343h0M7 344h0M42 344h0M8 345h0M2 346h0M47 346h0M54 347h0M45 350h0M40 352h0M41 353h0M50 353h0M15 354h0M17 355h0M18 355h0M28 357h0M19 358h0M52 360h0M56 360h0M10 361h0M56 362h0M30 364h0M50 365h0M3 367h0M8 367h0M17 367h0M40 367h0M56 367h0M46 368h0M36 369h0" stroke="#111188" stroke-width="3.8"/>
<path d="M8 6h0M16 6h0M7 7h0M18 7h0M23 7h0M42 7h0M11 8h0M17 8h0M30 8h0M34 8h0M37 8h0M46 8h0M3 9h0M5 9h0M6 9h0M12 9h0M18 9h0M21 9h0M27 9h0M29 9h0M36 9h0M39 9h0M42 9h0M49 9h0M52 9h0M53 9h0M3 10h0M8 10h0M12 10h0M15 10h0M28 10h0M31 10h0M36 10h0M43 10h0M51 10h0M53 10h0M55 10h0M56 10h0M10 11h0M15 11h0M20 11h0M28 11h0M32 11h0M34 11h0M40 11h0M50 11h0M56 11h0M2 12h0M13 12h0M15 12h0M35 12h0M17 13h0M49 13h0M16 16h0M25 16h0M13 17h0M41 17h0M38 19h0M9 20h0M44 21h0M27 22h0M15 23h0M21 23h0M4 24h0M16 26h0M26 28h0M37 28h0M53 28h0M54 28h0M32 29h0M52 30h0M4 31h0M37 31h0M12 32h0M53 33h0M22 34h0M6 36h0M29 36h0M53 36h0M15 38h0M21 38h0M34 40h0M37 40h0M12 41h0M32 41h0M53 42h0M3 43h0M40 45h0M8 46h0M14 46h0M25 46h0M49 46h0M56 46h0M45 48h0M47 48h0M9 49h0M55 50h0M5 51h0M23 51h0M20 52h0M49 52h0M23 53h0M28 53h0M22 55h0M42 56h0M15 57h0M22 57h0M24 57h0M38 57h0M27 59h0M37 59h0M26 60h0M33 60h0M54 60h0M30 61h0M50 61h0M51 61h0M6 62h0M20 63h0M26 63h0M56 63h0M17 64h0M40 64h0M25 65h0M43 65h0M34 66h0M46 66h0M7 67h0M5 68h0M21 68h0M48 68h0M9 69h0M35 69h0M41 69h0M45 69h0M15 70h0M26 70h0M32 70h0M47 70h0M12 71h0M31 71h0M2 72h0M5 72h0M38 73h0M48 73h0M49 73h0M50 73h0M56 73h0M26 74h0M36 74h0M56 74h0M4 75h0M26 75h0M42 75h0M49 75h0M22 76h0M29 76h0M48 76h0M11 77h0M28 77h0M36 77h0M39 77h0M19 78h0M42 79h0M44 79h0M17 80h0M52 81h0M11 82h0M42 82h0M8 83h0M9 83h0M2 84h0M15 84h0M26 85h0M2 86h0M8 86h0M33 86h0M47 86h0M13 87h0M40 88h0M41 88h0M46 88h0M13 89h0M28 89h0M36 89h0M40 91h0M48 91h0M46 92h0M54 92h0M43 93h0M7 94h0M14 95h0M15 95h0M40 95h0M46 95h0M4 96h0M37 96h0M47 96h0M56 96h0M15 97h0M40 97h0M48 97h0M49 97h0M8 98h0M16 98h0M17 98h0M53 98h0M8 99h0M22 99h0M34 99h0M55 99h0M29 101h0M54 101h0M23 102h0M48 102h0M5 103h0M12 103h0M18 103h0M32 103h0M38 103h0M14 104h0M30 104h0M5 105h0M20 105h0M22 105h0M56 105h0M14 106h0M27 106h0M22 108h0M52 108h0M33 110h0M15 111h0M26 111h0M43 111h0M5 112h0M10 112h0M14 112h0M31 112h0M39 112h0M41 112h0M7 113h0M23 113h0M44 113h0M56 113h0M35 114h0M48 115h0M12 116h0M15 116h0M30 116h0M42 116h0M17 117h0M27 117h0M51 117h0M14 118h0M15 118h0M26 118h0M52 118h0M25 119h0M44 119h0M56 119h0M35 120h0M40 120h0M45 120h0M48 120h0M14 121h0M19 121h0M21 122h0M31 122h0M5 123h0M21 124h0M32 124h0M35 125h0M49 126h0M13 127h0M1 128h0M29 128h0M34 128h0M29 129h0M39 129h0M41 129h0M53 129h0M12 130h0M27 130h0M11 131h0M16 131h0M39 131h0M49 131h0M55 131h0M28 132h0M1 133h0M2 133h0M22 133h0M28 133h0M37 134h0M50 134h0M18 135h0M25 135h0M43 135h0M15 136h0M8 137h0M23 137h0M33 137h0M56 137h0M27 138h0M18 139h0M26 139h0M47 139h0M5 140h0M8 140h0M20 140h0M21 140h0M41 140h0M7 141h0M27 142h0M53 142h0M30 143h0M37 143h0M9 144h0M46 144h0M24 145h0M13 147h0M45 147h0M55 147h0M29 148h0M35 148h0M37 148h0M8 149h0M36 149h0M24 150h0M46 151h0M2 152h0M11 152h0M40 152h0M51 152h0M25 153h0M27 153h0M8 154h0M17 154h0M25 154h0M27 154h0M40 154h0M5 155h0M24 155h0M56 155h0M31 156h0M38 156h0M6 157h0M1 158h0M2 158h0M43 158h0M38 159h0M9 160h0M32 160h0M27 161h0M30 161h0M17 162h0M12 163h0M44 163h0M46 163h0M3 164h0M27 164h0M47 164h0M55 164h0M11 165h0M55 165h0M22 166h0M38 167h0M16 168h0M43 168h0M51 168h0M17 169h0M6 170h0M47 170h0M56 170h0M14 172h0M16 172h0M20 172h0M31 172h0M1 173h0M10 174h0M16 174h0M45 174h0M50 174h0M16 175h0M55 175h0M11 176h0M23 176h0M15 177h0M40 177h0M37 178h0M43 178h0M4 179h0M19 179h0M24 180h0M25 181h0M35 181h0M22 182h0M27 182h0M34 182h0M7 183h0M14 183h0M24 183h0M41 183h0M4 185h0M12 185h0M39 185h0M47 186h0M42 187h0M45 187h0M10 188h0M13 188h0M18 188h0M2 189h0M17 189h0M4 190h0M47 190h0M52 190h0M7 191h0M16 191h0M13 193h0M48 193h0M8 194h0M42 194h0M54 194h0M34 195h0M37 195h0M6 196h0M42 196h0M56 196h0M29 198h0M32 198h0M34 198h0M44 198h0M27 199h0M54 199h0M28 200h0M38 200h0M12 201h0M19 201h0M29 201h0M40 201h0M35 202h0M44 202h0M46 202h0M9 203h0M13 203h0M16 203h0M41 203h0M10 204h0M20 204h0M24 204h0M28 204h0M37 204h0M45 204h0M48 204h0M32 205h0M33 205h0M25 206h0M16 207h0M26 207h0M54 207h0M56 207h0M6 208h0M41 208h0M6 209h0M7 209h0M33 209h0M3 210h0M9 210h0M17 210h0M6 211h0M12 211h0M15 211h0M31 211h0M16 212h0M41 212h0M2 213h0M7 213h0M13 213h0M46 213h0M12 214h0M22 214h0M17 215h0M22 215h0M25 215h0M29 215h0M49 217h0M23 218h0M46 218h0M52 218h0M2 219h0M7 220h0M31 220h0M56 220h0M7 221h0M5 222h0M7 222h0M14 222h0M23 222h0M49 222h0M54 222h0M2 223h0M12 223h0M24 226h0M44 226h0M3 227h0M22 227h0M39 227h0M18 228h0M56 228h0M15 229h0M19 229h0M25 229h0M28 229h0M46 229h0M54 229h0M25 231h0M17 232h0M23 233h0M26 233h0M30 233h0M32 233h0M42 233h0M6 234h0M23 234h0M48 234h0M51 235h0M8 236h0M14 236h0M15 237h0M23 237h0M3 238h0M20 238h0M54 238h0M18 239h0M29 239h0M30 239h0M39 239h0M55 239h0M8 240h0M40 240h0M37 241h0M38 241h0M38 242h0M14 243h0M22 243h0M4 244h0M12 244h0M27 244h0M44 245h0M17 246h0M11 248h0M27 249h0M48 251h0M17 252h0M51 252h0M16 253h0M27 253h0M46 253h0M4 255h0M21 255h0M38 255h0M7 256h0M19 256h0M41 256h0M49 256h0M15 257h0M27 257h0M14 258h0M28 258h0M32 258h0M34 258h0M11 259h0M16 259h0M49 259h0M50 259h0M52 259h0M43 260h0M51 260h0M54 260h0M15 261h0M32 262h0M33 263h0M55 263h0M7 264h0M34 264h0M4 266h0M25 266h0M36 266h0M2 267h0M42 267h0M53 267h0M5 268h0M33 268h0M43 268h0M49 268h0M29 269h0M47 269h0M3 270h0M14 270h0M48 270h0M55 270h0M50 271h0M34 272h0M45 272h0M49 272h0M21 273h0M30 273h0M13 274h0M33 274h0M47 274h0M41 276h0M15 277h0M31 277h0M39 277h0M41 278h0M29 279h0M9 280h0M25 280h0M26 281h0M35 281h0M26 283h0M55 283h0M2 284h0M7 284h0M44 284h0M6 285h0M33 285h0M9 286h0M2 287h0M4 289h0M14 289h0M2 290h0M44 290h0M17 291h0M2 292h0M5 292h0M50 292h0M27 293h0M40 293h0M26 294h0M31 294h0M49 294h0M52 294h0M5 295h0M44 297h0M48 297h0M56 297h0M14 298h0M31 298h0M33 299h0M34 299h0M29 300h0M7 301h0M9 302h0M18 302h0M23 302h0M52 302h0M55 302h0M6 303h0M29 303h0M13 304h0M29 304h0M39 304h0M11 306h0M12 306h0M29 306h0M41 306h0M55 306h0M31 307h0M53 307h0M11 308h0M42 308h0M45 308h0M46 309h0M49 309h0M46 310h0M2 311h0M8 311h0M14 311h0M36 311h0M3 312h0M34 312h0M21 314h0M5 315h0M42 315h0M10 316h0M19 316h0M20 316h0M31 316h0M23 317h0M55 317h0M30 318h0M36 318h0M41 318h0M27 319h0M33 319h0M7 321h0M10 321h0M18 321h0M56 321h0M52 322h0M7 323h0M37 323h0M38 323h0M22 324h0M35 325h0M8 326h0M11 326h0M39 326h0M21 327h0M8 328h0M13 328h0M43 328h0M34 329h0M51 329h0M18 330h0M4 331h0M46 331h0M53 332h0M24 333h0M31 333h0M49 333h0M4 334h0M5 334h0M27 334h0M7 335h0M43 335h0M18 336h0M49 336h0M21 337h0M22 337h0M11 338h0M14 339h0M16 340h0M34 340h0M29 342h0M18 343h0M19 343h0M47 343h0M12 344h0M48 344h0M52 344h0M8 345h0M11 345h0M37 345h0M39 346h0M43 346h0M45 346h0M15 347h0M9 348h0M14 348h0M17 348h0M16 349h0M26 350h0M52 350h0M53 350h0M46 351h0M10 352h0M13 352h0M21 352h0M28 352h0M25 353h0M29 353h0M33 353h0M40 353h0M7 354h0M28 354h0M48 354h0M7 355h0M32 355h0M44 355h0M21 357h0M25 357h0M32 357h0M39 357h0M15 358h0M46 358h0M5 359h0M13 359h0M26 359h0M33 359h0M7 360h0M30 360h0M45 360h0M46 360h0M14 361h0M20 361h0M26 362h0M54 362h0M27 363h0M37 363h0M44 363h0M43 365h0M49 365h0M53 366h0M9 367h0M39 367h0M54 367h0M6 368h0M27 368h0M28 368h0M51 368h0M5 369h0M54 369h0" stroke="#2020e4" stroke-width="3.3"/>
</g>
<g transform="translate(447.9 37.8)">
<path d="M53 9h0M55 9h0M41 18h0M15 22h0M44 22h0M39 25h0M14 29h0M49 50h0M48 62h0M48 70h0M7 71h0M54 71h0M24 72h0M25 72h0M27 73h0M49 73h0M2 74h0M28 75h0M52 75h0M14 79h0M41 79h0M46 80h0M50 80h0M28 81h0M32 81h0M52 81h0M31 82h0M36 82h0M14 84h0M28 84h0M32 84h0M17 85h0M51 85h0M43 88h0M38 92h0M50 94h0M4 95h0M26 95h0M3 97h0M10 98h0M28 98h0M32 98h0M47 98h0M48 100h0M6 101h0M45 104h0M20 105h0M35 105h0M54 105h0M48 106h0M21 107h0M12 108h0M37 108h0M21 109h0M37 110h0M46 110h0M52 111h0M29 112h0M14 113h0M25 113h0M28 113h0M50 113h0M16 114h0M25 114h0M50 114h0M28 115h0M29 115h0M5 116h0M13 116h0M51 116h0M42 117h0M4 118h0M19 118h0M50 118h0M44 119h0M21 120h0M13 123h0M43 123h0M53 123h0M8 124h0M38 124h0M10 125h0M11 125h0M15 125h0M22 125h0M37 125h0M34 126h0M35 127h0M39 127h0M7 129h0M3 131h0M45 131h0M17 132h0M30 133h0M33 133h0M38 133h0M38 134h0M2 135h0M32 135h0M6 136h0M12 136h0M22 136h0M39 136h0M43 136h0M9 137h0M45 138h0M47 138h0M42 139h0M49 139h0M18 140h0M52 140h0M54 140h0M20 141h0M39 141h0M44 141h0M42 142h0M47 142h0M37 143h0M24 144h0M36 144h0M28 145h0M38 146h0M3 147h0M14 147h0M48 147h0M53 147h0M34 148h0M39 148h0M30 149h0M27 150h0M55 150h0M2 152h0M15 152h0M32 153h0M38 153h0M42 153h0M18 154h0M10 155h0M32 155h0M31 156h0M21 157h0M14 158h0M32 158h0M41 158h0M16 160h0M8 161h0M29 162h0M22 163h0M26 163h0M37 163h0M18 164h0M24 165h0M40 165h0M41 165h0M27 166h0M35 166h0M23 167h0M6 168h0M8 168h0M19 168h0M9 169h0M21 169h0M47 169h0M55 169h0M2 170h0M8 170h0M12 171h0M27 172h0M41 172h0M49 172h0M27 173h0M37 173h0M9 174h0M35 174h0M39 174h0M45 174h0M24 176h0M31 176h0M44 176h0M48 177h0M37 178h0M1 179h0M36 179h0M5 180h0M47 181h0M48 181h0M1 182h0M39 182h0M22 183h0M26 183h0M33 183h0M43 183h0M50 183h0M2 184h0M46 184h0M22 185h0M23 185h0M42 185h0M37 187h0M7 188h0M21 188h0M38 188h0M49 188h0M1 190h0M52 190h0M11 191h0M32 192h0M35 192h0M55 192h0M30 193h0M53 193h0M29 194h0M50 194h0M16 195h0M27 195h0M4 196h0M10 196h0M19 196h0M5 197h0M22 197h0M54 197h0M41 198h0M45 198h0M9 199h0M14 199h0M9 200h0M31 200h0M37 200h0M2 202h0M27 202h0M40 203h0M51 203h0M15 204h0M37 204h0M48 204h0M5 205h0M8 205h0M16 205h0M26 205h0M50 206h0M47 208h0M29 210h0M30 210h0M50 210h0M47 213h0M7 214h0M51 216h0M4 225h0M5 225h0M16 225h0M37 226h0M53 226h0M55 226h0M10 228h0M12 230h0M48 230h0M52 231h0M6 232h0M55 232h0M24 233h0M4 235h0M10 236h0M22 236h0M28 236h0M29 236h0M24 237h0M15 238h0M21 239h0M47 241h0M32 242h0M45 242h0M11 244h0M34 244h0M51 244h0M24 246h0M37 246h0M18 247h0M8 248h0M9 248h0M13 248h0M14 248h0M25 248h0M3 250h0M13 250h0M49 250h0M43 251h0M51 251h0M35 252h0M49 253h0M24 254h0M37 254h0M34 255h0M24 256h0M15 259h0M44 259h0M36 260h0M43 260h0M14 261h0M18 262h0M7 263h0M23 263h0M50 264h0M52 264h0M14 265h0M55 265h0M2 266h0M10 266h0M30 266h0M9 267h0M10 268h0M39 271h0M16 272h0M38 272h0M9 273h0M4 274h0M30 275h0M34 275h0M18 277h0M29 278h0M48 278h0M41 280h0M43 280h0M53 282h0M12 283h0M24 283h0M50 283h0M43 287h0M25 289h0M33 289h0M26 293h0M28 293h0M12 297h0M45 298h0M53 300h0M47 301h0M29 302h0M22 303h0M43 305h0M54 305h0M47 309h0M15 310h0M41 311h0M12 312h0M16 312h0M20 312h0M15 313h0M14 314h0M44 314h0M9 316h0M41 316h0M13 317h0M27 319h0M51 319h0M26 320h0M49 320h0M21 321h0M23 321h0M21 322h0M24 322h0M17 323h0M31 324h0M27 325h0M12 326h0M3 330h0M26 332h0M14 333h0M42 333h0M15 334h0M47 334h0M28 337h0M2 338h0M13 338h0M30 338h0M7 340h0M41 340h0M11 341h0M33 342h0M4 343h0M21 345h0M33 348h0M43 348h0M52 348h0M6 349h0M28 349h0M2 350h0M12 352h0M51 352h0M26 353h0M55 356h0M23 357h0M54 357h0M3 359h0M51 360h0M5 362h0M48 363h0M44 364h0M53 366h0M2 367h0M35 367h0" stroke="#a81414" stroke-width="2.4"/>
<path d="M41 111h0M17 114h0M19 123h0M14 124h0M2 137h0M35 137h0M13 138h0M41 138h0M20 148h0M24 150h0M2 151h0M18 151h0M21 153h0M51 153h0M47 154h0M44 157h0M15 167h0M23 169h0M45 170h0M5 173h0M15 181h0M54 185h0M15 190h0M36 195h0M44 196h0M11 235h0M22 236h0M6 239h0M13 239h0M51 239h0M2 240h0M7 240h0M43 241h0M36 244h0M14 250h0M37 250h0M44 252h0M34 253h0M18 254h0M21 255h0M1 258h0M26 262h0M53 264h0M37 265h0M30 269h0M38 270h0M30 273h0M1 274h0M7 274h0M24 274h0M50 274h0M2 275h0M5 275h0M14 275h0M26 275h0M10 276h0M35 276h0M47 276h0M1 277h0M8 278h0M23 278h0M3 279h0M11 279h0M35 279h0M16 280h0M28 280h0M2 281h0M7 281h0M42 281h0M23 282h0M29 283h0M35 283h0M52 283h0M24 284h0M42 284h0M53 284h0M54 284h0M18 285h0M53 285h0M13 286h0M1 287h0M2 287h0M3 287h0M22 287h0M49 287h0M48 288h0M50 288h0M46 289h0M52 290h0M50 292h0M14 293h0M18 295h0M24 295h0M34 295h0M33 296h0M34 296h0M55 296h0M4 298h0M18 298h0M15 300h0M28 300h0M41 301h0M3 303h0M13 303h0M23 303h0M44 303h0M49 303h0M13 304h0M14 304h0M23 304h0M33 304h0M51 304h0M54 304h0M5 305h0M7 305h0M9 305h0M15 305h0M18 305h0M12 306h0M49 306h0M13 307h0M47 307h0M53 307h0M16 308h0M18 308h0M19 308h0M53 309h0M28 310h0M13 311h0M55 311h0M44 312h0M50 312h0M33 313h0M28 314h0M39 314h0M41 315h0M13 317h0M8 318h0M27 318h0M34 319h0M11 320h0M16 320h0M18 320h0M29 320h0M33 320h0M4 321h0M5 321h0M12 321h0M40 321h0M37 322h0M18 323h0M20 323h0M9 325h0M53 326h0M10 327h0M20 328h0M35 328h0M37 328h0M12 329h0M25 329h0M45 329h0M51 329h0M52 329h0M6 330h0M43 330h0M24 331h0M51 331h0M36 332h0M43 332h0M46 332h0M19 333h0M23 333h0M53 333h0M5 335h0M55 335h0M37 336h0M49 336h0M8 337h0M15 337h0M25 338h0M7 339h0M47 339h0M13 340h0M14 341h0M50 341h0M41 343h0M42 343h0M27 344h0M37 344h0M38 344h0M2 345h0M14 345h0M15 345h0M5 346h0M22 346h0M17 347h0M24 347h0M30 348h0M46 348h0M53 348h0M2 350h0M3 350h0M20 350h0M9 351h0M45 351h0M54 351h0M7 352h0M17 352h0M36 352h0M12 353h0M32 353h0M37 353h0M25 356h0M44 357h0M12 358h0M19 358h0M33 360h0M39 362h0M20 363h0M13 364h0M29 364h0M31 364h0M53 365h0M47 366h0M31 367h0M34 367h0M45 367h0M8 368h0M14 368h0M18 369h0M22 369h0" stroke="#f01c16" stroke-width="4"/>
</g>
</g>
<line x1="390.4" y1="37.8" x2="390.4" y2="408" stroke-width="1.3" stroke="#fff"/>
<line x1="447.9" y1="37.8" x2="447.9" y2="408" stroke-width="1.3" stroke="#fff"/>
<rect x="515" y="34.2" width="175.4" height="377.4" fill="#242424"/>
<rect x="518.4" y="37.8" width="168.4" height="370.2" fill="#020207"/>
<g fill="none" stroke-linecap="round" filter="url(#bl)">
<g transform="translate(518.4 37.8)">
<rect x="0" y="40" width="56.3" height="330.2" fill="#08084a" opacity=".15"/>
<path d="M32 8h0M55 8h0M45 9h0M53 9h0M19 10h0M50 11h0M36 12h0M41 12h0M5 13h0M47 13h0M5 14h0M30 19h0M39 22h0M6 26h0M39 30h0M15 33h0M19 34h0M54 34h0M17 37h0M52 38h0M38 46h0M53 46h0M54 48h0M41 49h0M32 50h0M54 50h0M40 52h0M29 56h0M47 57h0M26 58h0M48 59h0M41 61h0M55 62h0M19 64h0M28 65h0M27 66h0M55 66h0M10 68h0M15 70h0M28 71h0M34 71h0M24 73h0M16 75h0M28 75h0M55 76h0M19 77h0M46 78h0M36 81h0M46 81h0M20 82h0M53 85h0M46 86h0M44 87h0M26 89h0M37 89h0M13 92h0M43 93h0M45 94h0M13 97h0M51 97h0M55 101h0M6 103h0M55 104h0M32 106h0M18 111h0M47 113h0M35 119h0M19 124h0M43 124h0M51 124h0M26 126h0M36 127h0M43 127h0M35 129h0M15 130h0M44 130h0M2 136h0M9 137h0M47 140h0M18 141h0M38 142h0M25 144h0M32 150h0M12 153h0M41 153h0M22 154h0M30 154h0M43 157h0M49 157h0M10 158h0M13 158h0M45 159h0M11 161h0M53 166h0M19 169h0M54 170h0M39 174h0M8 175h0M10 176h0M11 178h0M21 178h0M32 180h0M28 181h0M7 182h0M25 182h0M32 185h0M20 186h0M18 187h0M36 187h0M46 187h0M54 187h0M31 190h0M23 194h0M8 195h0M9 196h0M18 197h0M45 202h0M24 203h0M43 203h0M3 204h0M33 205h0M43 205h0M8 206h0M43 208h0M26 211h0M20 213h0M29 213h0M33 214h0M13 216h0M16 217h0M2 218h0M39 219h0M28 221h0M10 222h0M45 222h0M15 225h0M12 226h0M18 226h0M51 226h0M6 227h0M11 227h0M44 228h0M33 234h0M10 236h0M24 239h0M1 240h0M47 240h0M8 242h0M38 242h0M17 244h0M51 247h0M21 251h0M22 252h0M27 254h0M35 255h0M25 257h0M25 259h0M11 260h0M33 260h0M49 260h0M8 262h0M2 263h0M12 263h0M7 265h0M28 265h0M38 267h0M9 268h0M51 269h0M35 270h0M12 271h0M52 272h0M30 273h0M18 275h0M42 278h0M4 279h0M50 279h0M29 280h0M28 282h0M33 282h0M54 284h0M20 286h0M42 286h0M47 286h0M22 287h0M45 287h0M40 289h0M11 290h0M36 290h0M17 291h0M10 293h0M31 293h0M43 295h0M13 296h0M7 297h0M21 298h0M40 298h0M17 301h0M4 303h0M11 304h0M24 304h0M52 304h0M26 306h0M51 316h0M11 317h0M30 318h0M4 320h0M37 320h0M33 322h0M50 325h0M43 326h0M24 332h0M34 332h0M1 335h0M28 335h0M31 335h0M39 337h0M33 339h0M6 343h0M40 343h0M52 343h0M32 346h0M44 346h0M13 347h0M34 350h0M47 354h0M39 356h0M43 356h0M25 357h0M40 357h0M50 357h0M7 358h0M16 363h0M46 363h0M54 363h0M24 364h0M34 364h0M40 368h0" stroke="#111188" stroke-width="3.8"/>
<path d="M11 8h0M14 8h0M33 8h0M28 9h0M43 9h0M44 9h0M46 9h0M48 9h0M1 10h0M3 10h0M53 10h0M8 11h0M20 11h0M26 11h0M35 11h0M45 11h0M10 12h0M33 12h0M49 12h0M55 12h0M9 13h0M13 13h0M42 13h0M51 13h0M54 13h0M8 14h0M2 17h0M18 17h0M11 19h0M49 19h0M21 22h0M23 25h0M26 26h0M43 26h0M55 26h0M28 29h0M49 29h0M53 32h0M13 33h0M20 33h0M31 33h0M38 35h0M31 37h0M5 39h0M20 43h0M50 44h0M23 45h0M40 45h0M43 45h0M31 46h0M46 47h0M6 48h0M37 49h0M50 49h0M24 50h0M3 51h0M10 51h0M28 52h0M30 53h0M33 53h0M15 54h0M47 54h0M5 55h0M30 55h0M2 58h0M1 59h0M41 59h0M43 59h0M24 62h0M2 63h0M49 63h0M22 66h0M30 67h0M5 69h0M43 69h0M47 69h0M9 71h0M36 71h0M40 71h0M15 74h0M23 74h0M38 74h0M50 75h0M22 76h0M55 77h0M9 78h0M44 78h0M35 81h0M37 81h0M13 82h0M8 83h0M40 84h0M13 87h0M15 87h0M18 87h0M13 89h0M30 89h0M35 90h0M41 90h0M27 91h0M9 92h0M16 92h0M24 92h0M11 93h0M49 96h0M7 97h0M4 98h0M31 98h0M51 98h0M27 100h0M30 100h0M55 100h0M1 102h0M50 103h0M42 104h0M52 104h0M18 105h0M10 106h0M12 106h0M11 108h0M13 108h0M19 109h0M30 109h0M17 113h0M40 114h0M21 115h0M22 115h0M18 117h0M51 117h0M22 118h0M35 118h0M36 118h0M42 118h0M47 118h0M11 120h0M13 121h0M44 121h0M36 123h0M3 124h0M12 124h0M33 125h0M35 125h0M16 126h0M35 126h0M45 126h0M32 129h0M14 130h0M44 130h0M38 131h0M50 131h0M21 132h0M21 133h0M51 133h0M24 134h0M35 134h0M51 134h0M6 135h0M54 135h0M13 136h0M39 136h0M49 136h0M3 138h0M15 139h0M38 139h0M26 140h0M23 141h0M31 141h0M42 141h0M12 142h0M19 142h0M25 143h0M37 143h0M26 145h0M8 146h0M12 146h0M39 146h0M41 147h0M46 147h0M49 147h0M30 148h0M21 149h0M29 149h0M36 149h0M27 151h0M54 151h0M18 152h0M38 152h0M3 153h0M28 153h0M39 153h0M40 153h0M46 153h0M49 153h0M33 154h0M22 155h0M27 155h0M35 155h0M6 156h0M13 156h0M21 157h0M42 158h0M51 158h0M4 160h0M2 161h0M7 161h0M20 161h0M38 162h0M50 162h0M11 163h0M1 164h0M18 165h0M41 165h0M5 166h0M6 166h0M9 166h0M22 166h0M51 166h0M18 167h0M35 167h0M36 168h0M38 168h0M53 170h0M6 171h0M55 171h0M18 172h0M19 172h0M44 174h0M48 174h0M1 175h0M10 175h0M21 175h0M8 177h0M10 177h0M21 177h0M44 177h0M7 178h0M16 179h0M52 179h0M54 180h0M4 182h0M31 182h0M32 182h0M45 182h0M49 182h0M20 185h0M53 185h0M24 186h0M55 186h0M16 187h0M43 187h0M17 188h0M27 188h0M47 189h0M29 190h0M54 190h0M10 191h0M10 192h0M34 192h0M45 192h0M40 193h0M5 194h0M11 194h0M32 195h0M10 196h0M28 197h0M39 197h0M40 197h0M42 200h0M44 201h0M14 202h0M39 202h0M4 203h0M29 203h0M36 205h0M53 205h0M17 206h0M36 207h0M42 207h0M38 208h0M30 210h0M28 211h0M41 211h0M46 211h0M52 212h0M52 213h0M35 214h0M6 216h0M39 216h0M3 217h0M47 217h0M15 218h0M22 218h0M6 219h0M12 220h0M40 220h0M48 220h0M3 221h0M2 222h0M3 222h0M20 222h0M25 222h0M54 222h0M7 225h0M34 225h0M5 226h0M12 226h0M26 226h0M39 226h0M50 226h0M53 226h0M48 227h0M41 229h0M51 229h0M41 230h0M54 230h0M10 231h0M35 231h0M40 231h0M7 232h0M20 232h0M20 233h0M52 233h0M2 234h0M11 234h0M1 235h0M9 236h0M10 236h0M20 237h0M28 237h0M29 238h0M32 238h0M55 238h0M30 240h0M41 242h0M34 244h0M2 246h0M6 246h0M24 246h0M37 246h0M11 247h0M33 247h0M31 248h0M10 250h0M40 250h0M12 251h0M14 251h0M34 251h0M48 252h0M45 253h0M3 254h0M20 256h0M22 256h0M25 257h0M17 259h0M22 260h0M36 260h0M52 260h0M4 262h0M30 262h0M36 262h0M42 262h0M2 264h0M19 264h0M24 264h0M23 265h0M19 266h0M27 266h0M22 267h0M27 267h0M38 267h0M23 268h0M36 268h0M37 268h0M54 268h0M46 269h0M7 270h0M24 270h0M29 270h0M2 271h0M14 271h0M15 273h0M20 273h0M40 273h0M9 275h0M24 276h0M39 276h0M13 277h0M51 277h0M23 278h0M24 278h0M26 279h0M33 279h0M15 280h0M30 280h0M12 281h0M18 281h0M14 282h0M52 282h0M18 283h0M11 284h0M6 285h0M28 285h0M28 286h0M45 288h0M22 289h0M41 290h0M43 293h0M34 294h0M47 294h0M25 296h0M30 296h0M43 296h0M48 296h0M34 297h0M44 297h0M35 298h0M42 298h0M23 299h0M45 299h0M4 300h0M26 300h0M13 302h0M27 302h0M38 302h0M49 302h0M53 303h0M49 304h0M15 305h0M16 305h0M39 305h0M54 305h0M20 306h0M27 306h0M13 307h0M21 307h0M23 308h0M29 308h0M43 308h0M4 309h0M15 309h0M19 309h0M31 309h0M10 310h0M22 311h0M33 311h0M49 311h0M8 312h0M3 313h0M41 314h0M4 315h0M5 315h0M12 316h0M32 316h0M35 316h0M3 317h0M44 317h0M50 317h0M5 318h0M21 318h0M30 320h0M33 320h0M39 321h0M45 323h0M11 324h0M15 324h0M35 324h0M39 324h0M47 324h0M10 325h0M35 325h0M52 326h0M37 328h0M18 329h0M15 330h0M21 330h0M25 332h0M44 332h0M8 334h0M51 335h0M19 337h0M47 337h0M26 338h0M33 338h0M5 340h0M28 341h0M43 341h0M27 342h0M30 342h0M37 342h0M45 342h0M5 343h0M40 343h0M49 343h0M11 344h0M18 344h0M14 345h0M53 345h0M13 346h0M43 347h0M35 348h0M52 351h0M17 353h0M20 353h0M36 354h0M4 355h0M6 356h0M7 356h0M24 356h0M38 356h0M11 358h0M23 358h0M25 358h0M35 358h0M54 358h0M38 359h0M46 359h0M8 360h0M41 360h0M44 361h0M22 362h0M42 362h0M34 364h0M16 366h0M18 367h0M37 367h0M32 369h0" stroke="#2222dc" stroke-width="3.5"/>
<path d="M39 6h0M11 7h0M18 7h0M53 7h0M36 8h0M49 8h0M53 8h0M39 10h0M47 10h0M49 10h0M53 10h0M52 11h0M38 12h0M2 13h0M15 13h0M34 13h0M23 18h0M50 21h0M37 22h0M51 27h0M20 33h0M30 33h0M28 37h0M53 37h0M4 38h0M38 38h0M21 40h0M17 41h0M23 44h0M53 44h0M18 50h0M9 52h0M3 56h0M23 57h0M6 60h0M43 60h0M45 60h0M11 61h0M27 61h0M47 61h0M34 62h0M39 62h0M15 63h0M16 64h0M20 65h0M30 66h0M37 66h0M48 67h0M27 68h0M36 68h0M15 69h0M47 69h0M13 70h0M25 71h0M19 74h0M31 74h0M35 74h0M36 74h0M3 75h0M51 78h0M40 79h0M2 80h0M4 80h0M12 80h0M47 80h0M29 83h0M49 86h0M10 88h0M20 89h0M27 89h0M22 90h0M55 90h0M30 92h0M23 93h0M44 93h0M51 93h0M20 95h0M34 98h0M3 99h0M35 99h0M15 101h0M17 103h0M32 103h0M35 103h0M44 104h0M13 105h0M42 105h0M18 106h0M23 106h0M27 106h0M41 106h0M10 107h0M29 107h0M10 108h0M16 110h0M22 110h0M28 110h0M2 111h0M8 111h0M6 112h0M24 112h0M43 112h0M14 113h0M30 113h0M43 113h0M18 114h0M46 114h0M21 115h0M55 115h0M2 116h0M6 116h0M20 116h0M33 116h0M46 116h0M4 117h0M21 117h0M27 117h0M46 117h0M14 118h0M24 118h0M43 118h0M18 119h0M29 119h0M2 121h0M24 121h0M12 122h0M16 122h0M19 122h0M29 122h0M30 122h0M26 123h0M54 123h0M24 124h0M31 124h0M44 124h0M4 125h0M5 125h0M27 125h0M13 126h0M16 126h0M29 126h0M37 127h0M54 127h0M50 128h0M54 129h0M12 130h0M29 130h0M43 130h0M28 131h0M18 132h0M32 132h0M33 132h0M43 132h0M52 132h0M8 133h0M16 133h0M22 133h0M30 133h0M43 133h0M17 134h0M29 134h0M37 134h0M22 135h0M20 136h0M19 137h0M23 138h0M54 138h0M38 139h0M50 139h0M21 140h0M8 141h0M2 143h0M34 143h0M45 143h0M36 145h0M25 147h0M35 147h0M13 149h0M13 150h0M24 150h0M31 150h0M32 151h0M41 151h0M6 152h0M42 152h0M53 152h0M19 153h0M26 154h0M42 154h0M47 154h0M18 155h0M39 155h0M19 156h0M22 156h0M8 157h0M34 158h0M50 158h0M22 159h0M50 159h0M15 162h0M33 162h0M44 162h0M9 163h0M17 163h0M23 165h0M27 165h0M5 166h0M11 167h0M49 167h0M4 168h0M20 168h0M47 168h0M6 170h0M44 170h0M31 171h0M38 171h0M47 171h0M12 172h0M42 172h0M51 172h0M7 173h0M27 173h0M35 174h0M45 174h0M49 177h0M9 178h0M14 178h0M20 178h0M33 178h0M6 179h0M13 181h0M51 182h0M33 183h0M17 184h0M32 184h0M48 184h0M17 186h0M24 186h0M5 187h0M26 188h0M35 188h0M44 188h0M50 188h0M19 189h0M27 189h0M16 190h0M22 190h0M21 191h0M27 192h0M2 193h0M11 193h0M18 193h0M51 193h0M17 194h0M45 194h0M30 195h0M33 195h0M4 196h0M28 196h0M31 196h0M50 197h0M25 198h0M20 199h0M53 199h0M28 200h0M38 200h0M54 200h0M1 201h0M31 201h0M42 201h0M50 202h0M52 202h0M14 203h0M24 203h0M39 203h0M50 203h0M5 204h0M23 204h0M29 204h0M35 204h0M42 204h0M28 205h0M15 206h0M16 207h0M24 207h0M30 207h0M24 208h0M36 209h0M8 210h0M38 210h0M53 211h0M11 212h0M14 212h0M18 212h0M20 212h0M25 212h0M27 212h0M50 212h0M52 212h0M25 213h0M38 213h0M3 214h0M21 214h0M39 214h0M54 214h0M31 215h0M55 215h0M5 216h0M18 216h0M24 217h0M32 218h0M21 219h0M11 220h0M18 220h0M18 221h0M29 221h0M41 221h0M47 221h0M15 222h0M22 222h0M23 222h0M28 222h0M30 223h0M44 225h0M2 226h0M9 227h0M23 228h0M39 228h0M30 229h0M53 229h0M4 230h0M28 231h0M38 231h0M10 232h0M2 233h0M3 233h0M15 234h0M19 235h0M19 236h0M29 236h0M41 236h0M21 237h0M30 238h0M4 239h0M17 240h0M28 240h0M45 240h0M55 240h0M17 241h0M17 242h0M44 243h0M49 244h0M51 244h0M44 246h0M50 247h0M18 248h0M54 249h0M39 250h0M46 253h0M21 255h0M33 255h0M52 255h0M20 257h0M30 258h0M45 258h0M16 259h0M28 259h0M35 259h0M36 259h0M4 260h0M36 260h0M40 260h0M44 260h0M48 260h0M50 261h0M47 263h0M19 265h0M33 265h0M4 266h0M28 267h0M31 268h0M51 269h0M29 270h0M37 270h0M44 270h0M27 272h0M35 272h0M49 272h0M55 273h0M6 274h0M22 274h0M55 274h0M22 276h0M25 277h0M16 278h0M42 278h0M24 280h0M2 282h0M27 282h0M34 282h0M10 283h0M5 284h0M48 285h0M25 286h0M21 287h0M33 287h0M41 288h0M8 289h0M45 289h0M13 290h0M11 291h0M14 292h0M26 292h0M16 294h0M12 295h0M19 296h0M46 296h0M53 297h0M14 298h0M22 298h0M39 298h0M25 299h0M2 300h0M38 300h0M49 300h0M25 302h0M49 302h0M28 303h0M38 303h0M54 304h0M10 305h0M35 307h0M48 307h0M8 308h0M29 308h0M50 308h0M1 309h0M32 309h0M35 309h0M45 309h0M50 309h0M45 310h0M3 312h0M5 312h0M7 313h0M10 314h0M34 315h0M27 316h0M3 321h0M3 322h0M12 322h0M28 322h0M5 323h0M6 323h0M21 323h0M35 323h0M19 324h0M40 324h0M17 325h0M21 326h0M43 327h0M1 328h0M6 329h0M8 329h0M2 330h0M45 330h0M2 331h0M38 331h0M26 332h0M8 333h0M25 333h0M46 333h0M52 333h0M14 334h0M15 335h0M24 335h0M47 336h0M28 337h0M49 337h0M9 338h0M51 338h0M50 339h0M53 339h0M4 340h0M6 340h0M40 340h0M44 340h0M2 341h0M37 341h0M33 342h0M10 343h0M48 345h0M27 346h0M18 347h0M31 347h0M35 348h0M37 349h0M48 349h0M8 350h0M47 351h0M17 352h0M28 352h0M8 354h0M21 354h0M31 354h0M37 355h0M29 356h0M35 357h0M6 358h0M11 358h0M21 358h0M24 358h0M46 358h0M28 360h0M47 360h0M44 361h0M16 364h0M32 366h0M18 367h0M23 367h0M47 368h0M55 368h0" stroke="#b81c70" stroke-width="2.4"/>
<path d="M20 105h0M2 108h0M18 108h0M49 108h0M7 109h0M15 110h0M30 112h0M36 116h0M45 118h0M46 121h0M3 125h0M17 127h0M11 129h0M19 133h0M42 133h0M54 133h0M33 138h0M40 138h0M11 140h0M33 140h0M13 141h0M43 149h0M44 153h0M37 156h0M32 159h0M44 164h0M27 165h0M29 166h0M32 174h0M51 185h0M40 190h0M11 194h0M53 194h0M13 195h0M30 198h0M26 200h0M36 202h0M46 202h0M42 207h0M54 209h0M17 210h0M4 211h0M15 211h0M38 211h0M27 212h0M50 212h0M32 217h0M14 218h0M19 218h0M43 218h0M7 222h0M2 230h0M31 231h0M39 231h0M20 235h0M45 235h0M31 236h0M33 237h0M45 237h0M52 238h0M10 239h0M30 239h0M38 239h0M17 243h0M24 243h0M26 244h0M28 244h0M51 246h0M6 247h0M47 248h0M48 248h0M15 249h0M34 249h0M18 251h0M16 252h0M20 252h0M10 254h0M32 254h0M39 255h0M48 256h0M31 257h0M38 257h0M27 258h0M2 260h0M54 260h0M51 261h0M12 262h0M22 262h0M43 262h0M9 263h0M26 263h0M6 264h0M21 265h0M32 265h0M3 266h0M24 266h0M9 267h0M15 267h0M6 268h0M9 268h0M17 269h0M10 271h0M17 271h0M54 272h0M52 274h0M53 274h0M11 275h0M14 275h0M36 275h0M51 275h0M22 276h0M25 276h0M47 276h0M13 277h0M23 277h0M24 277h0M34 277h0M5 278h0M17 278h0M41 278h0M8 279h0M12 279h0M39 280h0M43 280h0M4 281h0M16 281h0M30 281h0M37 281h0M44 281h0M9 283h0M37 283h0M51 283h0M19 284h0M50 284h0M54 284h0M16 285h0M29 285h0M25 286h0M46 286h0M11 287h0M30 287h0M20 288h0M30 288h0M46 288h0M48 288h0M25 290h0M34 290h0M13 291h0M24 291h0M49 291h0M39 292h0M45 292h0M29 293h0M51 293h0M16 294h0M36 295h0M44 295h0M5 297h0M21 297h0M24 297h0M33 297h0M2 298h0M41 298h0M43 298h0M27 299h0M48 300h0M14 301h0M3 302h0M8 302h0M12 302h0M3 303h0M34 303h0M47 303h0M1 304h0M6 305h0M18 305h0M34 305h0M35 305h0M54 305h0M7 306h0M34 306h0M48 306h0M41 308h0M42 308h0M49 308h0M5 309h0M16 311h0M8 312h0M33 312h0M17 313h0M29 314h0M35 314h0M46 314h0M54 314h0M10 315h0M28 315h0M9 316h0M44 316h0M19 317h0M32 317h0M46 317h0M49 317h0M20 318h0M31 318h0M46 318h0M15 319h0M42 319h0M46 319h0M18 320h0M36 320h0M37 320h0M41 320h0M6 321h0M52 321h0M53 321h0M9 322h0M44 322h0M21 323h0M49 323h0M6 324h0M18 324h0M23 324h0M39 324h0M54 324h0M44 328h0M46 328h0M12 329h0M21 329h0M27 329h0M43 329h0M23 330h0M41 330h0M50 330h0M54 330h0M33 331h0M36 331h0M40 331h0M45 331h0M47 331h0M41 332h0M43 333h0M48 333h0M51 333h0M9 334h0M27 334h0M45 334h0M29 335h0M7 337h0M11 337h0M43 337h0M44 337h0M37 338h0M41 338h0M51 338h0M23 339h0M36 340h0M53 340h0M10 341h0M18 341h0M29 343h0M53 343h0M34 344h0M41 344h0M33 345h0M29 346h0M35 346h0M38 346h0M35 347h0M20 348h0M33 348h0M51 348h0M7 349h0M28 349h0M32 349h0M33 349h0M38 349h0M54 349h0M40 350h0M45 351h0M50 351h0M9 352h0M27 352h0M35 352h0M43 353h0M6 354h0M30 354h0M50 354h0M6 355h0M13 355h0M48 355h0M39 356h0M1 358h0M2 358h0M13 358h0M48 358h0M19 359h0M1 360h0M6 360h0M28 360h0M47 360h0M18 361h0M53 361h0M54 362h0M3 363h0M32 363h0M3 364h0M21 364h0M18 365h0M35 366h0M37 366h0M44 366h0M47 366h0" stroke="#f8206c" stroke-width="4"/>
</g>
<g transform="translate(574.7 37.8)">
<rect x="0" y="40" width="57.5" height="330.2" fill="#08084a" opacity=".2"/>
<path d="M3 9h0M7 9h0M8 9h0M24 9h0M34 9h0M38 10h0M8 11h0M29 12h0M8 13h0M23 13h0M6 14h0M8 14h0M18 14h0M52 23h0M10 25h0M46 26h0M8 27h0M15 30h0M44 34h0M14 35h0M3 38h0M9 49h0M33 50h0M54 50h0M36 52h0M34 54h0M24 55h0M27 55h0M12 57h0M2 59h0M9 62h0M15 63h0M43 64h0M15 65h0M50 66h0M2 68h0M40 71h0M50 72h0M7 74h0M42 75h0M13 79h0M20 79h0M41 79h0M4 80h0M22 80h0M31 81h0M24 83h0M38 85h0M36 86h0M46 86h0M12 87h0M7 88h0M15 91h0M16 91h0M43 94h0M29 95h0M35 95h0M22 96h0M6 97h0M54 97h0M6 98h0M49 99h0M38 102h0M47 106h0M50 107h0M13 109h0M25 109h0M4 110h0M23 112h0M53 117h0M17 120h0M29 121h0M44 123h0M44 127h0M10 128h0M22 128h0M44 129h0M47 129h0M7 135h0M56 135h0M33 136h0M16 137h0M23 141h0M38 141h0M31 142h0M1 143h0M41 144h0M8 146h0M3 148h0M50 150h0M53 151h0M15 152h0M52 152h0M17 153h0M3 154h0M56 154h0M28 156h0M50 159h0M5 160h0M44 160h0M21 162h0M16 165h0M7 166h0M25 167h0M2 169h0M15 172h0M23 172h0M43 174h0M41 175h0M50 178h0M24 179h0M17 181h0M9 184h0M18 186h0M28 187h0M47 187h0M4 189h0M11 189h0M31 190h0M50 191h0M7 200h0M10 202h0M47 202h0M53 202h0M32 204h0M50 205h0M38 208h0M19 209h0M18 210h0M47 210h0M41 214h0M8 215h0M30 215h0M11 217h0M39 218h0M19 223h0M24 224h0M40 224h0M21 225h0M27 226h0M2 227h0M49 227h0M17 229h0M32 230h0M20 232h0M2 235h0M16 235h0M21 235h0M38 235h0M45 238h0M37 239h0M37 240h0M36 241h0M18 244h0M43 245h0M26 246h0M53 247h0M26 249h0M55 250h0M26 251h0M53 251h0M31 254h0M44 254h0M22 255h0M7 256h0M29 257h0M40 258h0M15 259h0M29 262h0M25 263h0M9 264h0M19 264h0M40 265h0M49 266h0M17 267h0M12 268h0M23 271h0M18 285h0M29 285h0M5 291h0M35 291h0M11 294h0M54 296h0M50 299h0M38 300h0M3 301h0M19 301h0M46 303h0M17 305h0M12 306h0M4 309h0M51 309h0M36 310h0M5 312h0M18 313h0M48 313h0M25 314h0M40 315h0M5 318h0M11 318h0M13 318h0M21 318h0M9 319h0M32 319h0M43 319h0M27 320h0M5 322h0M1 323h0M6 323h0M5 324h0M29 324h0M15 326h0M33 327h0M55 327h0M54 330h0M4 333h0M46 334h0M48 334h0M54 337h0M55 340h0M12 341h0M36 343h0M55 345h0M35 347h0M50 353h0M39 354h0M8 356h0M20 356h0M13 358h0M56 358h0M22 360h0M31 361h0M40 362h0M51 362h0M14 363h0M49 363h0M1 364h0M50 364h0M6 365h0M11 365h0M2 366h0M2 369h0" stroke="#111188" stroke-width="3.8"/>
<path d="M5 9h0M10 9h0M15 9h0M48 9h0M55 9h0M56 9h0M19 10h0M31 10h0M37 10h0M45 10h0M49 10h0M6 11h0M42 11h0M43 11h0M9 12h0M12 12h0M14 12h0M15 12h0M28 12h0M6 13h0M19 13h0M25 13h0M27 13h0M38 13h0M41 13h0M11 14h0M18 14h0M29 14h0M30 14h0M42 14h0M46 14h0M51 14h0M37 15h0M22 16h0M45 17h0M26 19h0M51 21h0M50 22h0M13 23h0M17 24h0M26 24h0M43 24h0M16 26h0M24 26h0M41 26h0M33 27h0M39 27h0M2 28h0M48 30h0M16 31h0M31 32h0M32 36h0M5 38h0M26 38h0M40 39h0M51 39h0M4 40h0M4 42h0M36 42h0M4 43h0M3 45h0M16 47h0M29 47h0M19 48h0M11 49h0M13 49h0M4 50h0M12 50h0M39 50h0M21 51h0M14 52h0M19 52h0M32 52h0M43 52h0M53 52h0M40 53h0M15 54h0M47 55h0M53 56h0M37 57h0M21 58h0M32 59h0M37 59h0M45 60h0M54 60h0M7 61h0M50 61h0M36 62h0M47 62h0M53 62h0M42 63h0M14 64h0M18 65h0M40 66h0M46 67h0M20 68h0M18 69h0M7 70h0M14 70h0M56 70h0M17 71h0M55 71h0M26 73h0M8 74h0M13 74h0M23 76h0M28 76h0M43 76h0M20 77h0M9 78h0M56 78h0M45 79h0M56 79h0M22 80h0M34 81h0M48 82h0M9 83h0M45 83h0M9 84h0M36 84h0M7 85h0M44 85h0M10 87h0M10 88h0M27 88h0M6 89h0M23 89h0M36 89h0M8 91h0M10 91h0M45 91h0M5 93h0M18 93h0M22 93h0M26 93h0M3 94h0M36 94h0M3 95h0M17 95h0M3 97h0M15 97h0M40 97h0M47 97h0M50 97h0M44 99h0M48 100h0M10 101h0M26 101h0M37 101h0M52 101h0M55 101h0M37 102h0M39 102h0M23 103h0M38 103h0M19 104h0M49 105h0M52 106h0M15 108h0M9 109h0M12 109h0M20 109h0M22 109h0M33 109h0M56 110h0M15 112h0M26 112h0M47 112h0M19 113h0M26 113h0M6 114h0M7 115h0M17 115h0M48 115h0M26 117h0M45 117h0M12 118h0M25 118h0M30 118h0M31 118h0M44 118h0M53 118h0M14 119h0M36 119h0M7 121h0M10 121h0M8 122h0M23 122h0M46 122h0M49 122h0M3 124h0M33 125h0M39 125h0M43 125h0M54 125h0M12 126h0M38 126h0M51 126h0M3 128h0M20 128h0M39 130h0M2 131h0M18 132h0M21 132h0M28 132h0M35 132h0M43 132h0M8 133h0M44 134h0M25 136h0M26 136h0M41 137h0M7 140h0M2 141h0M8 141h0M11 142h0M31 142h0M46 142h0M38 143h0M51 143h0M15 144h0M39 144h0M50 144h0M7 145h0M30 145h0M52 145h0M38 147h0M14 149h0M17 149h0M21 149h0M27 149h0M48 149h0M10 151h0M17 151h0M22 151h0M24 152h0M39 152h0M1 153h0M2 153h0M37 153h0M48 153h0M56 153h0M2 154h0M41 154h0M5 156h0M22 156h0M27 156h0M41 156h0M6 158h0M10 158h0M37 158h0M41 158h0M8 160h0M44 160h0M22 161h0M5 162h0M9 162h0M31 162h0M12 163h0M41 163h0M32 164h0M31 165h0M29 166h0M37 166h0M5 167h0M12 167h0M33 167h0M34 167h0M36 167h0M11 168h0M4 169h0M25 169h0M56 171h0M26 172h0M2 173h0M9 173h0M54 174h0M13 175h0M16 176h0M40 176h0M51 177h0M55 177h0M23 178h0M48 178h0M56 178h0M15 179h0M19 179h0M40 179h0M8 180h0M18 180h0M51 181h0M55 181h0M18 182h0M17 183h0M25 183h0M42 183h0M32 184h0M33 184h0M47 184h0M2 185h0M20 185h0M54 185h0M17 186h0M4 187h0M42 187h0M36 188h0M47 189h0M50 189h0M33 190h0M10 191h0M11 191h0M22 191h0M45 191h0M8 192h0M40 192h0M51 193h0M50 194h0M7 195h0M25 196h0M52 196h0M33 197h0M55 198h0M36 199h0M37 199h0M50 199h0M3 200h0M33 200h0M48 200h0M15 201h0M24 202h0M33 202h0M36 202h0M34 203h0M53 203h0M4 204h0M29 204h0M14 205h0M22 205h0M53 205h0M2 206h0M24 206h0M39 207h0M15 208h0M23 208h0M39 208h0M4 209h0M21 210h0M32 210h0M8 211h0M37 213h0M50 213h0M4 214h0M6 215h0M15 215h0M26 215h0M10 216h0M34 216h0M14 217h0M40 217h0M41 217h0M4 218h0M29 218h0M54 218h0M2 219h0M4 219h0M18 219h0M38 219h0M4 220h0M7 220h0M14 220h0M39 220h0M22 221h0M30 221h0M35 221h0M4 222h0M16 222h0M33 222h0M38 222h0M50 222h0M25 223h0M32 223h0M33 223h0M34 224h0M35 224h0M28 225h0M33 225h0M36 225h0M6 226h0M28 227h0M10 228h0M41 228h0M54 228h0M4 229h0M11 232h0M33 232h0M48 232h0M37 233h0M39 233h0M40 233h0M13 234h0M38 234h0M30 236h0M11 237h0M17 237h0M9 239h0M33 239h0M35 239h0M32 240h0M38 240h0M53 241h0M12 242h0M50 242h0M52 242h0M29 243h0M30 243h0M11 244h0M32 244h0M9 245h0M18 245h0M53 246h0M24 247h0M41 247h0M42 247h0M33 248h0M44 248h0M48 248h0M55 248h0M7 249h0M33 249h0M45 249h0M25 250h0M18 251h0M30 251h0M10 252h0M23 252h0M42 252h0M54 252h0M1 253h0M6 253h0M11 253h0M12 253h0M53 253h0M9 255h0M10 255h0M17 255h0M28 256h0M30 257h0M44 257h0M55 257h0M5 258h0M26 258h0M1 259h0M7 259h0M48 260h0M53 260h0M56 261h0M9 262h0M10 262h0M6 263h0M32 264h0M39 264h0M48 264h0M15 265h0M28 265h0M34 265h0M52 265h0M43 266h0M48 266h0M8 267h0M56 267h0M38 268h0M50 268h0M20 269h0M50 269h0M56 269h0M15 270h0M24 270h0M49 270h0M1 271h0M42 271h0M49 271h0M15 272h0M2 273h0M17 273h0M54 275h0M11 277h0M17 279h0M23 279h0M33 281h0M37 281h0M25 282h0M34 282h0M39 282h0M52 282h0M35 283h0M37 284h0M3 285h0M4 285h0M40 285h0M2 287h0M16 287h0M45 287h0M8 288h0M14 288h0M37 290h0M51 290h0M54 290h0M4 291h0M15 291h0M17 291h0M4 292h0M13 292h0M27 292h0M33 292h0M15 293h0M18 293h0M44 293h0M6 294h0M14 294h0M25 294h0M56 294h0M5 295h0M20 295h0M6 297h0M21 297h0M22 297h0M30 297h0M47 297h0M1 298h0M35 298h0M47 299h0M20 300h0M50 300h0M48 301h0M35 302h0M25 303h0M26 303h0M50 304h0M9 307h0M24 307h0M27 307h0M15 308h0M21 308h0M43 309h0M48 309h0M5 310h0M13 310h0M55 311h0M48 312h0M41 313h0M53 313h0M9 314h0M45 314h0M56 316h0M45 317h0M21 318h0M29 318h0M50 319h0M10 320h0M42 321h0M44 321h0M54 321h0M4 322h0M26 323h0M31 323h0M54 323h0M10 324h0M20 324h0M50 325h0M1 326h0M21 327h0M33 327h0M51 327h0M48 328h0M14 329h0M22 329h0M25 329h0M50 329h0M12 330h0M55 330h0M26 331h0M51 331h0M34 332h0M40 332h0M47 332h0M50 332h0M11 334h0M30 334h0M17 335h0M10 336h0M18 336h0M20 336h0M33 336h0M40 336h0M15 337h0M53 337h0M2 338h0M28 338h0M15 339h0M23 339h0M27 339h0M35 339h0M15 341h0M52 341h0M16 342h0M44 342h0M2 343h0M10 343h0M22 343h0M34 343h0M1 344h0M12 344h0M53 344h0M23 345h0M42 345h0M17 347h0M22 347h0M9 348h0M10 348h0M14 348h0M7 349h0M18 349h0M25 350h0M34 350h0M15 351h0M35 351h0M15 352h0M21 352h0M25 352h0M29 352h0M22 354h0M26 354h0M27 354h0M52 354h0M5 356h0M28 356h0M35 356h0M50 356h0M10 357h0M20 357h0M22 357h0M8 358h0M35 358h0M41 358h0M44 358h0M47 358h0M10 359h0M19 359h0M24 359h0M49 359h0M8 360h0M11 361h0M50 361h0M12 362h0M24 362h0M48 362h0M20 363h0M35 363h0M41 363h0M56 363h0M21 364h0M34 364h0M29 365h0M40 365h0M34 366h0M37 366h0M48 366h0M50 367h0M27 368h0M55 368h0" stroke="#2020e4" stroke-width="3.5"/>
</g>
<g transform="translate(632.2 37.8)">
<path d="M11 7h0M34 7h0M44 7h0M45 7h0M14 8h0M20 9h0M32 9h0M23 10h0M43 10h0M45 10h0M47 10h0M8 11h0M21 12h0M3 13h0M6 13h0M16 15h0M25 16h0M4 19h0M13 20h0M3 21h0M26 23h0M44 23h0M34 29h0M34 34h0M24 36h0M28 36h0M31 37h0M23 39h0M6 45h0M47 49h0M4 51h0M22 51h0M8 54h0M20 63h0M33 63h0M4 64h0M15 64h0M38 66h0M18 67h0M48 67h0M33 69h0M38 69h0M1 71h0M16 71h0M20 71h0M43 71h0M46 71h0M25 72h0M17 73h0M51 75h0M16 78h0M27 78h0M37 78h0M19 79h0M4 80h0M20 80h0M3 81h0M24 81h0M34 82h0M8 83h0M10 83h0M38 83h0M6 84h0M44 84h0M39 88h0M2 90h0M7 90h0M49 91h0M16 92h0M23 92h0M30 94h0M10 95h0M5 96h0M15 98h0M20 99h0M23 99h0M40 99h0M47 100h0M45 102h0M52 102h0M53 102h0M22 103h0M35 103h0M49 103h0M24 104h0M38 105h0M3 107h0M26 107h0M45 107h0M24 108h0M48 108h0M31 109h0M47 109h0M31 110h0M1 111h0M39 111h0M51 111h0M3 112h0M5 112h0M32 113h0M38 113h0M4 114h0M14 115h0M50 115h0M53 115h0M2 116h0M7 116h0M28 116h0M34 116h0M28 118h0M51 118h0M25 119h0M30 119h0M38 119h0M42 119h0M34 120h0M43 120h0M39 121h0M41 121h0M47 121h0M11 122h0M24 122h0M8 123h0M49 123h0M30 124h0M31 124h0M53 124h0M13 125h0M45 125h0M13 126h0M30 128h0M53 128h0M33 129h0M34 129h0M5 130h0M19 131h0M52 133h0M27 134h0M9 135h0M27 135h0M51 135h0M6 136h0M23 137h0M30 137h0M46 137h0M34 138h0M24 139h0M41 139h0M13 140h0M16 140h0M18 140h0M36 140h0M3 141h0M17 141h0M39 142h0M15 144h0M46 144h0M52 144h0M4 145h0M21 145h0M17 146h0M11 147h0M5 148h0M29 148h0M32 148h0M44 148h0M50 148h0M39 149h0M42 150h0M21 151h0M25 151h0M45 151h0M19 152h0M26 152h0M52 152h0M16 153h0M16 154h0M10 155h0M18 155h0M3 156h0M20 156h0M39 156h0M28 157h0M38 157h0M40 157h0M37 158h0M43 158h0M10 159h0M21 159h0M53 159h0M16 160h0M19 160h0M27 160h0M47 160h0M48 160h0M6 163h0M21 163h0M2 166h0M41 166h0M11 167h0M51 167h0M3 168h0M6 168h0M11 168h0M50 168h0M20 169h0M34 169h0M10 170h0M20 170h0M28 170h0M54 170h0M16 172h0M32 173h0M1 174h0M42 174h0M52 174h0M16 175h0M29 175h0M45 175h0M2 176h0M11 176h0M29 176h0M47 176h0M22 177h0M25 177h0M30 177h0M48 177h0M50 179h0M31 180h0M37 180h0M44 180h0M18 181h0M45 182h0M8 183h0M12 183h0M33 183h0M50 183h0M3 184h0M20 184h0M17 186h0M28 186h0M2 187h0M31 187h0M8 188h0M35 188h0M18 190h0M12 192h0M49 192h0M44 193h0M47 194h0M41 195h0M43 195h0M49 195h0M35 196h0M38 196h0M52 196h0M15 197h0M42 197h0M46 197h0M3 199h0M51 199h0M3 200h0M47 202h0M38 203h0M41 205h0M53 205h0M5 206h0M4 207h0M23 207h0M42 207h0M13 208h0M21 209h0M35 209h0M14 210h0M4 212h0M53 213h0M47 214h0M20 216h0M33 216h0M15 218h0M20 218h0M3 219h0M17 219h0M14 220h0M17 220h0M9 221h0M34 221h0M3 222h0M4 222h0M24 222h0M2 223h0M15 223h0M19 223h0M21 223h0M22 223h0M44 223h0M15 224h0M19 225h0M38 225h0M47 225h0M48 225h0M18 226h0M41 226h0M11 227h0M14 227h0M52 227h0M31 228h0M47 228h0M21 230h0M29 230h0M33 230h0M17 231h0M50 231h0M2 232h0M13 232h0M20 232h0M24 232h0M29 232h0M33 232h0M35 232h0M21 233h0M46 233h0M45 234h0M15 235h0M47 235h0M4 236h0M42 236h0M53 236h0M7 237h0M47 237h0M7 238h0M10 239h0M23 239h0M26 239h0M23 241h0M41 241h0M12 244h0M14 244h0M7 245h0M23 245h0M7 246h0M10 246h0M18 246h0M24 246h0M5 247h0M19 248h0M1 249h0M26 249h0M31 250h0M46 250h0M4 251h0M12 251h0M23 251h0M51 251h0M3 252h0M7 253h0M10 253h0M28 254h0M21 256h0M38 258h0M49 258h0M52 258h0M26 259h0M44 259h0M37 260h0M49 261h0M29 263h0M41 264h0M33 265h0M46 265h0M15 267h0M24 267h0M21 268h0M42 268h0M43 268h0M30 269h0M37 269h0M48 269h0M21 270h0M10 271h0M27 271h0M38 272h0M50 272h0M48 274h0M12 277h0M35 277h0M20 278h0M9 280h0M20 280h0M19 281h0M10 282h0M47 283h0M50 283h0M19 284h0M7 285h0M47 286h0M51 286h0M7 287h0M3 288h0M26 288h0M20 291h0M51 291h0M44 295h0M9 296h0M9 297h0M28 299h0M35 299h0M44 300h0M9 301h0M12 301h0M17 301h0M30 301h0M7 302h0M14 302h0M25 302h0M49 302h0M11 305h0M26 305h0M21 307h0M22 308h0M45 309h0M9 310h0M20 310h0M23 311h0M48 312h0M16 313h0M27 313h0M21 314h0M28 315h0M40 315h0M42 315h0M7 317h0M15 318h0M40 318h0M18 320h0M32 320h0M35 320h0M6 321h0M6 322h0M3 323h0M46 323h0M37 324h0M43 324h0M34 325h0M18 326h0M22 327h0M11 328h0M42 329h0M51 330h0M1 331h0M25 331h0M11 333h0M46 333h0M25 334h0M42 334h0M7 336h0M9 336h0M14 336h0M4 337h0M18 337h0M41 337h0M46 337h0M3 338h0M22 338h0M23 338h0M46 338h0M6 339h0M29 340h0M42 340h0M19 341h0M2 342h0M8 342h0M39 342h0M7 343h0M49 343h0M8 344h0M44 344h0M10 345h0M12 345h0M21 345h0M27 345h0M20 346h0M30 348h0M12 349h0M36 349h0M17 350h0M18 350h0M7 351h0M40 352h0M19 353h0M19 355h0M46 359h0M40 360h0M16 362h0M33 362h0M9 363h0M11 364h0M20 364h0M46 364h0M10 365h0M23 366h0M46 366h0M42 367h0M23 368h0M35 368h0M52 368h0M22 369h0M35 369h0M36 369h0" stroke="#a81414" stroke-width="2.4"/>
<path d="M52 103h0M8 104h0M41 104h0M4 107h0M53 108h0M30 109h0M40 118h0M46 118h0M50 120h0M47 123h0M50 135h0M3 137h0M53 137h0M46 138h0M37 145h0M24 147h0M16 149h0M1 154h0M8 154h0M12 154h0M30 164h0M4 170h0M20 170h0M45 171h0M31 173h0M20 174h0M34 186h0M45 186h0M3 187h0M3 191h0M22 192h0M44 192h0M50 192h0M14 194h0M3 195h0M22 195h0M17 197h0M4 198h0M9 202h0M2 211h0M16 211h0M37 211h0M52 212h0M19 213h0M38 216h0M35 217h0M3 218h0M26 219h0M38 219h0M6 220h0M49 225h0M35 227h0M41 229h0M22 230h0M34 231h0M19 235h0M2 237h0M27 237h0M42 237h0M8 238h0M28 239h0M32 239h0M4 240h0M6 240h0M27 240h0M40 241h0M1 242h0M4 242h0M26 242h0M44 242h0M52 243h0M37 244h0M12 245h0M41 245h0M15 246h0M6 247h0M24 247h0M32 247h0M13 248h0M5 249h0M33 250h0M39 250h0M41 255h0M4 256h0M52 259h0M15 261h0M21 261h0M34 262h0M39 262h0M2 263h0M49 263h0M7 264h0M37 264h0M14 265h0M29 265h0M29 266h0M15 270h0M41 270h0M49 272h0M50 272h0M53 273h0M6 274h0M19 274h0M48 274h0M4 275h0M12 275h0M36 275h0M2 276h0M8 276h0M27 276h0M14 277h0M28 277h0M35 277h0M37 277h0M4 278h0M5 278h0M31 278h0M48 278h0M43 279h0M15 280h0M27 280h0M25 281h0M34 281h0M33 282h0M35 282h0M6 283h0M9 283h0M19 283h0M32 283h0M35 283h0M25 284h0M34 284h0M12 286h0M11 287h0M19 287h0M35 287h0M36 287h0M22 288h0M24 288h0M13 289h0M24 289h0M30 289h0M49 289h0M37 291h0M19 292h0M30 292h0M3 293h0M19 293h0M22 293h0M28 293h0M35 293h0M45 293h0M50 293h0M53 293h0M2 294h0M37 294h0M50 294h0M4 295h0M6 295h0M13 295h0M25 295h0M30 295h0M42 295h0M3 296h0M4 296h0M21 296h0M3 297h0M45 297h0M2 298h0M33 298h0M41 298h0M50 298h0M2 300h0M4 300h0M26 300h0M49 300h0M4 301h0M19 301h0M48 301h0M41 303h0M40 304h0M4 305h0M28 305h0M20 306h0M20 307h0M26 307h0M38 307h0M53 307h0M20 308h0M42 308h0M48 309h0M32 310h0M21 311h0M53 311h0M32 312h0M37 312h0M48 312h0M2 313h0M32 314h0M33 314h0M44 314h0M17 315h0M20 315h0M7 316h0M28 316h0M39 316h0M17 317h0M42 317h0M43 317h0M50 318h0M51 318h0M22 320h0M33 320h0M16 321h0M51 321h0M20 322h0M26 322h0M44 323h0M50 323h0M11 324h0M9 325h0M47 325h0M15 326h0M4 327h0M52 327h0M30 328h0M52 328h0M21 329h0M41 329h0M13 330h0M20 330h0M14 331h0M8 332h0M30 333h0M37 334h0M29 335h0M10 336h0M26 336h0M6 337h0M9 337h0M22 337h0M27 337h0M32 337h0M38 338h0M47 338h0M2 339h0M34 339h0M46 339h0M31 340h0M36 340h0M20 341h0M33 341h0M36 343h0M49 343h0M34 344h0M35 344h0M9 345h0M16 346h0M22 346h0M37 346h0M15 347h0M23 347h0M41 347h0M52 347h0M36 348h0M50 348h0M24 349h0M8 351h0M26 351h0M36 351h0M40 351h0M27 353h0M37 353h0M8 354h0M30 354h0M42 354h0M15 355h0M27 357h0M47 358h0M51 358h0M10 359h0M19 359h0M48 359h0M52 359h0M8 360h0M30 360h0M42 360h0M37 361h0M25 362h0M39 362h0M7 364h0M13 364h0M40 364h0M16 366h0M7 367h0M22 367h0M29 367h0M38 367h0M50 367h0M12 368h0M22 369h0" stroke="#f01c16" stroke-width="4"/>
</g>
</g>
<line x1="574.7" y1="37.8" x2="574.7" y2="408" stroke-width="1.3" stroke="#fff"/>
<line x1="632.2" y1="37.8" x2="632.2" y2="408" stroke-width="1.3" stroke="#fff"/>
<line x1="341" y1="404.4" x2="370" y2="404.4" stroke-width="2" stroke="#fff"/>
</g>
<g id="panel-b">
<text font-size="28.5" font-weight="bold" x="735.5" y="29.5">b</text>
<text font-size="25" text-anchor="middle" x="901.5" y="35.2">MIA</text>
<g stroke="#4a4a4a" stroke-width="1.15" fill="none">
<line x1="804" y1="47" x2="999.5" y2="47"/>
<rect x="809.6" y="361.9" width="26.6" height="3.7" fill="#860a10"/>
<rect x="809.6" y="361" width="26.6" height="0.9" fill="#f6262d"/>
<rect x="809.6" y="343.4" width="26.6" height="17.6" fill="#f98a80"/>
<rect x="809.6" y="314.9" width="26.6" height="28.5" fill="#fbd8d9"/>
<rect x="809.6" y="77.3" width="26.6" height="237.6" fill="#fafefe"/>
<rect x="851.1" y="360.1" width="26.6" height="5.5" fill="#860a10"/>
<rect x="851.1" y="348.3" width="26.6" height="11.8" fill="#f6262d"/>
<rect x="851.1" y="290.6" width="26.6" height="57.7" fill="#f98a80"/>
<rect x="851.1" y="249.4" width="26.6" height="41.2" fill="#fbd8d9"/>
<rect x="851.1" y="77.3" width="26.6" height="172.1" fill="#fafefe"/>
<rect x="892.5" y="360.4" width="26.6" height="5.2" fill="#860a10"/>
<rect x="892.5" y="338.2" width="26.6" height="22.2" fill="#f6262d"/>
<rect x="892.5" y="256.9" width="26.6" height="81.3" fill="#f98a80"/>
<rect x="892.5" y="212.2" width="26.6" height="44.7" fill="#fbd8d9"/>
<rect x="892.5" y="77.3" width="26.6" height="134.9" fill="#fafefe"/>
<rect x="934" y="349.7" width="26.6" height="15.9" fill="#860a10"/>
<rect x="934" y="326.7" width="26.6" height="23.1" fill="#f6262d"/>
<rect x="934" y="273.3" width="26.6" height="53.3" fill="#f98a80"/>
<rect x="934" y="237.3" width="26.6" height="36" fill="#fbd8d9"/>
<rect x="934" y="77.3" width="26.6" height="160" fill="#fafefe"/>
<rect x="975.4" y="303" width="26.6" height="62.6" fill="#860a10"/>
<rect x="975.4" y="249.4" width="26.6" height="53.6" fill="#f6262d"/>
<rect x="975.4" y="186.9" width="26.6" height="62.6" fill="#f98a80"/>
<rect x="975.4" y="160.3" width="26.6" height="26.5" fill="#fbd8d9"/>
<rect x="975.4" y="77.3" width="26.6" height="83" fill="#fafefe"/>
<path d="M795.2 76.8V365.6" fill="none"/>
<line x1="788" y1="365.6" x2="1018" y2="365.6"/>
<line x1="787.5" y1="307.9" x2="795.2" y2="307.9"/>
<line x1="787.5" y1="250.3" x2="795.2" y2="250.3"/>
<line x1="787.5" y1="192.6" x2="795.2" y2="192.6"/>
<line x1="787.5" y1="135" x2="795.2" y2="135"/>
<line x1="787.5" y1="77.3" x2="795.2" y2="77.3"/>
<line x1="822.9" y1="365.6" x2="822.9" y2="374.3"/>
<line x1="864.4" y1="365.6" x2="864.4" y2="374.3"/>
<line x1="905.8" y1="365.6" x2="905.8" y2="374.3"/>
<line x1="947.2" y1="365.6" x2="947.2" y2="374.3"/>
<line x1="988.7" y1="365.6" x2="988.7" y2="374.3"/>
</g>
<text font-size="24.2" text-anchor="end" x="782.3" y="316.7">20</text>
<text font-size="24.2" text-anchor="end" x="782.3" y="259.1">40</text>
<text font-size="24.2" text-anchor="end" x="782.3" y="201.4">60</text>
<text font-size="24.2" text-anchor="end" x="782.3" y="143.8">80</text>
<text font-size="24.2" text-anchor="end" x="782.3" y="86.1">100</text>
<text font-size="24.5" text-anchor="end" letter-spacing="1.1" transform="translate(831.9 401.8) rotate(-45)">I</text>
<text font-size="24.5" text-anchor="end" letter-spacing="1.1" transform="translate(873.4 401.8) rotate(-45)">II/III</text>
<text font-size="24.5" text-anchor="end" letter-spacing="1.1" transform="translate(914.8 401.8) rotate(-45)">IV</text>
<text font-size="24.5" text-anchor="end" letter-spacing="1.1" transform="translate(956.2 401.8) rotate(-45)">V</text>
<text font-size="24.5" text-anchor="end" letter-spacing="1.1" transform="translate(997.7 401.8) rotate(-45)">VI</text>
<text font-size="25" x="1007" y="416">(Layer)</text>
<text font-size="25" text-anchor="middle" transform="translate(734.3 207) rotate(-90)"><tspan font-style="italic">Il17ra</tspan>+ Cells (%)</text>
<g stroke="#4a4a4a" stroke-width="1.15">
<rect x="1064.8" y="130.4" width="17.2" height="17.2" fill="#ffffff"/>
<rect x="1064.8" y="163" width="17.2" height="17.2" fill="#fbd8d9"/>
<rect x="1064.8" y="195.6" width="17.2" height="17.2" fill="#f98a80"/>
<rect x="1064.8" y="228.2" width="17.2" height="17.2" fill="#f6262d"/>
<rect x="1064.8" y="260.8" width="17.2" height="17.2" fill="#860a10"/>
</g>
<text font-size="25.6" letter-spacing="0.2" x="1089.3" y="147.7">Negative</text>
<text font-size="25.6" letter-spacing="0.2" x="1089.3" y="180.3">Low</text>
<text font-size="25.6" letter-spacing="0.2" x="1089.3" y="212.9">Medium</text>
<text font-size="25.6" letter-spacing="0.2" x="1089.3" y="245.5">High</text>
<text font-size="25.6" letter-spacing="0.2" x="1089.3" y="278.1">Highest</text>
</g>
<g id="panel-c">
<text font-size="28.5" font-weight="bold" x="1331.5" y="29.5">c</text>
<g stroke="#4a4a4a" stroke-width="1.15" fill="none">
<rect x="1467.3" y="212.4" width="29.6" height="143.6" fill="#d4d4d4" stroke="#2a2a2a"/>
<rect x="1512.9" y="196.2" width="29.8" height="159.8" fill="#f98a80" stroke="#2a2a2a"/>
<path d="M1451.8 61.2V356" fill="none"/>
<line x1="1438" y1="356" x2="1560" y2="356"/>
<line x1="1438" y1="356" x2="1451.8" y2="356"/>
<line x1="1438" y1="297.1" x2="1451.8" y2="297.1"/>
<line x1="1438" y1="238.3" x2="1451.8" y2="238.3"/>
<line x1="1438" y1="179.4" x2="1451.8" y2="179.4"/>
<line x1="1438" y1="120.6" x2="1451.8" y2="120.6"/>
<line x1="1438" y1="61.7" x2="1451.8" y2="61.7"/>
<line x1="1482.1" y1="356" x2="1482.1" y2="369"/>
<line x1="1527.8" y1="356" x2="1527.8" y2="369"/>
</g>
<text font-size="24.2" text-anchor="end" x="1430.3" y="364.8">0</text>
<text font-size="24.2" text-anchor="end" x="1430.3" y="305.9">20</text>
<text font-size="24.2" text-anchor="end" x="1430.3" y="247.1">40</text>
<text font-size="24.2" text-anchor="end" x="1430.3" y="188.2">60</text>
<text font-size="24.2" text-anchor="end" x="1430.3" y="129.4">80</text>
<text font-size="24.2" text-anchor="end" x="1430.3" y="70.5">100</text>
<text font-size="23.5" text-anchor="middle" transform="translate(1491 397.5) rotate(-90)">PBS</text>
<text font-size="23.5" text-anchor="middle" transform="translate(1536.8 397.5) rotate(-90)">MIA</text>
<text font-size="26" text-anchor="middle" transform="translate(1373.5 200.6) rotate(-90)"><tspan font-style="italic">Il17ra</tspan>+ Cells (%)</text>
<path d="M1482.1 204.1V220.6M1474.5 204.1H1489.7M1474.5 220.6H1489.7" fill="none" stroke="#1a1a1a" stroke-width="1.1"/>
<path d="M1527.8 185.3V207.1M1520 185.3H1535.6M1520 207.1H1535.6" fill="none" stroke="#1a1a1a" stroke-width="1.1"/>
<g fill="none" stroke="#111" stroke-width="1.3"><circle cx="1482.1" cy="174.7" r="5.2"/><circle cx="1482.1" cy="196.2" r="5.2"/><circle cx="1490.5" cy="204.4" r="5.2"/><circle cx="1473.5" cy="210.3" r="5.2"/><circle cx="1481" cy="211.8" r="5.2"/><circle cx="1479" cy="212.7" r="5.2"/><circle cx="1482.1" cy="233" r="5.2"/><circle cx="1482.1" cy="255.9" r="5.2"/><circle cx="1519.5" cy="174.4" r="5.2"/><circle cx="1527.5" cy="175.6" r="5.2"/><circle cx="1536.5" cy="172.9" r="5.2"/><circle cx="1527.8" cy="197.7" r="5.2"/><circle cx="1522.5" cy="218.6" r="5.2"/><circle cx="1532.5" cy="234.5" r="5.2"/></g>
</g>
<g id="panel-d">
<text font-size="28.5" font-weight="bold" x="2.5" y="484">d</text>
<g transform="translate(22.2 508.2) scale(0.14550)" stroke-linejoin="round" stroke-linecap="round">
<path d="M722 135C715 132 717 108 700 100C683 92 653 86 620 85C587 84 547 86 500 95C453 104 390 118 340 138C290 158 239 185 200 218C161 251 128 293 105 335C82 377 71 426 62 470C53 514 47 558 50 600C53 642 63 684 80 725C97 766 128 810 150 845C172 880 190 912 215 935C240 958 269 976 300 985C331 994 368 992 400 988C432 984 463 970 490 962C517 954 535 940 560 938C585 936 613 948 640 948C667 948 695 940 722 940C749 940 774 948 800 948C826 948 854 936 880 938C906 940 927 950 955 958C983 966 1018 980 1050 985C1082 990 1118 993 1150 985C1182 977 1212 961 1240 935C1268 909 1292 869 1315 830C1338 791 1362 743 1375 700C1388 657 1392 613 1393 570C1394 527 1390 479 1380 440C1370 401 1356 368 1335 335C1314 302 1288 273 1255 245C1222 217 1182 189 1140 168C1098 147 1045 130 1000 118C955 106 907 100 870 97C833 94 802 96 780 100C758 104 750 112 740 118C730 124 729 138 722 135Z" fill="#fcefe9" stroke="#222" stroke-width="9"/>
<path d="M555 940C575 960 600 962 640 958L800 958C850 960 865 955 885 940" fill="none" stroke="#222" stroke-width="5"/>
<path d="M340 140L415 300M265 190L355 340M115 345L255 455" fill="none" stroke="#222" stroke-width="8"/>
<path d="M1305 300L1185 430M1105 140L1030 300M1180 190L1090 340" fill="none" stroke="#222" stroke-width="8"/>
<path d="M722 135L722 330" fill="none" stroke="#222" stroke-width="6"/>
<path d="M262 792C257 783 241 769 232 740C223 711 209 660 208 620C207 580 212 537 225 500C238 463 259 428 285 400C311 372 348 348 380 330C412 312 444 305 480 295C516 285 571 268 598 270C625 272 619 292 640 305C661 318 694 345 722 345C750 345 784 316 805 305C826 294 818 279 845 278C872 277 929 290 965 300C1001 310 1029 323 1060 340C1091 357 1124 375 1150 400C1176 425 1200 457 1215 490C1230 523 1238 565 1240 600C1242 635 1232 673 1225 700C1218 727 1208 749 1195 762C1182 775 1158 775 1150 778" fill="none" stroke="#111" stroke-width="17"/>
<path d="M225 500C235 483 259 428 285 400C311 372 348 348 380 330C412 312 444 305 480 295C516 285 571 268 598 270C625 272 619 292 640 305C661 318 694 345 722 345C750 345 784 316 805 305C826 294 818 279 845 278C872 277 929 290 965 300C1001 310 1029 323 1060 340C1091 357 1124 375 1150 400C1176 425 1200 457 1215 490C1230 523 1236 582 1240 600" fill="none" stroke="#fcefe9" stroke-width="6"/>
<path d="M262 792L290 798M1150 778L1190 765" fill="none" stroke="#111" stroke-width="9"/>
<path d="M430 292L595 262L640 296M1010 300L845 270L805 298" fill="none" stroke="#222" stroke-width="4"/>
<path d="M722 480C713 480 709 475 695 475C681 475 658 477 640 480C622 483 603 488 586 491C569 494 551 500 540 499C529 498 524 490 522 485C520 480 521 473 525 468C529 463 533 459 548 453C563 447 597 440 613 431C629 422 642 414 646 398C650 382 647 353 640 338C633 323 620 312 602 307C584 302 554 304 531 307C508 310 472 316 463 327C454 338 472 355 477 371C482 387 489 409 493 425C497 441 496 455 499 469C502 483 504 499 509 507C514 515 518 518 531 518C544 518 570 507 586 507C602 507 616 515 630 518C644 521 659 522 668 524C677 526 675 532 684 532C693 532 709 524 722 524C735 524 751 532 760 532C769 532 767 526 776 524C785 522 800 521 814 518C828 515 842 507 858 507C874 507 900 518 913 518C926 518 930 515 935 507C940 499 942 483 945 469C948 455 947 441 951 425C955 409 962 387 967 371C972 355 990 338 981 327C972 316 936 310 913 307C890 304 860 302 842 307C824 312 811 323 804 338C797 353 794 382 798 398C802 414 815 422 831 431C847 440 881 447 896 453C911 459 915 463 919 468C923 473 924 480 922 485C920 490 915 498 904 499C893 500 875 494 858 491C841 488 822 483 804 480C786 477 763 475 749 475C735 475 731 480 722 480Z" fill="#000" stroke="none"/>
<path d="M722 745L722 935" fill="none" stroke="#111" stroke-width="10"/>
</g>
<g stroke="#444" stroke-width="0.9">
<rect x="56.6" y="501.4" width="14.2" height="27.4" fill="#d2d2d2" rx="1.6"/>
<path d="M57.1 511.1h6v-3.2h7.8M57.1 516h6v-3.2h7.8M57.1 520.8h6v-3.2h7.8M57.1 525.6h6v-3.2h7.8" fill="none" stroke="#555" stroke-width="1"/>
<circle cx="64" cy="504.2" r="1.7" fill="#eee"/>
</g>
<line x1="64.2" y1="528.8" x2="64.2" y2="538.3" stroke-width="0.9" stroke="#aaa"/>
<g stroke="#444" stroke-width="0.9">
<rect x="174.1" y="501.4" width="14.2" height="27.4" fill="#d2d2d2" rx="1.6"/>
<path d="M174.6 511.1h6v-3.2h7.8M174.6 516h6v-3.2h7.8M174.6 520.8h6v-3.2h7.8M174.6 525.6h6v-3.2h7.8" fill="none" stroke="#555" stroke-width="1"/>
<circle cx="181.5" cy="504.2" r="1.7" fill="#eee"/>
</g>
<line x1="181.7" y1="528.8" x2="181.7" y2="538.3" stroke-width="0.9" stroke="#aaa"/>
<text font-size="26.1" x="43.4" y="702.6">S1DZ injection</text>
<text font-size="26.1" x="43.2" y="734.3">(Veh. or IL-17a)</text>
</g>
<g id="panel-e">
<text font-size="28.5" font-weight="bold" x="318" y="484.8">e</text>
<text font-size="25.5" text-anchor="middle" x="554.6" y="491.4">PBS</text>
<text font-size="25.5" text-anchor="middle" x="774" y="491.4">MIA</text>
<text font-size="25.5" text-anchor="middle" x="992.3" y="491.4">WT</text>
<text font-size="25.5" text-anchor="middle" font-style="italic" x="1215.5" y="491.4">Cntnap2</text>
<text font-size="25.5" text-anchor="middle" font-style="italic" x="1436" y="491.4">Fmr1</text>
<path d="M456 503H657.3M678 503H878.3M891.4 503H1092.6M1114.3 503H1315.4M1336.8 503H1537.6" fill="none" stroke="#3a3a3a" stroke-width="1.5"/>
<rect x="450.5" y="659.2" width="20.4" height="140.1" fill="#ffffff" stroke="#222" stroke-width="1.1"/>
<rect x="473" y="753.4" width="20.4" height="45.9" fill="url(#ck0)"/>
<rect x="473" y="753.4" width="20.4" height="45.9" fill="url(#fde0)" stroke="#222" stroke-width="1.1"/>
<path d="M460.7 650.8V659.2M455.5 650.8H465.9" fill="none" stroke="#1a1a1a" stroke-width="1.1"/>
<path d="M483.2 749.4V753.4M478 749.4H488.4" fill="none" stroke="#1a1a1a" stroke-width="1.1"/>
<rect x="505.7" y="673.1" width="20.4" height="126.2" fill="#ffffff" stroke="#222" stroke-width="1.1"/>
<rect x="528.2" y="751.4" width="20.4" height="47.9" fill="url(#ck0)"/>
<rect x="528.2" y="751.4" width="20.4" height="47.9" fill="url(#fde0)" stroke="#222" stroke-width="1.1"/>
<path d="M515.9 660.6V673.1M510.7 660.6H521.1" fill="none" stroke="#1a1a1a" stroke-width="1.1"/>
<path d="M538.4 746.5V751.4M533.2 746.5H543.6" fill="none" stroke="#1a1a1a" stroke-width="1.1"/>
<rect x="560.9" y="665.3" width="20.4" height="134" fill="#a8a8a8" stroke="#222" stroke-width="1.1"/>
<rect x="583.4" y="751.8" width="20.4" height="47.5" fill="url(#ck1)"/>
<rect x="583.4" y="751.8" width="20.4" height="47.5" fill="url(#fde1)" stroke="#222" stroke-width="1.1"/>
<path d="M571.1 656.4V665.3M565.9 656.4H576.3" fill="none" stroke="#1a1a1a" stroke-width="1.1"/>
<path d="M593.6 747.8V751.8M588.4 747.8H598.8" fill="none" stroke="#1a1a1a" stroke-width="1.1"/>
<rect x="616.1" y="648.4" width="20.4" height="150.9" fill="#a8a8a8" stroke="#222" stroke-width="1.1"/>
<rect x="638.6" y="752.9" width="20.4" height="46.4" fill="url(#ck1)"/>
<rect x="638.6" y="752.9" width="20.4" height="46.4" fill="url(#fde1)" stroke="#222" stroke-width="1.1"/>
<path d="M626.3 638.2V648.4M621.1 638.2H631.5" fill="none" stroke="#1a1a1a" stroke-width="1.1"/>
<path d="M648.8 746.3V752.9M643.6 746.3H654" fill="none" stroke="#1a1a1a" stroke-width="1.1"/>
<rect x="671.3" y="717.6" width="20.4" height="81.7" fill="#fbd2c0" stroke="#222" stroke-width="1.1"/>
<rect x="693.8" y="710.1" width="20.4" height="89.2" fill="url(#ck2)" stroke="#222" stroke-width="1.1"/>
<path d="M681.5 713.2V717.6M676.3 713.2H686.7" fill="none" stroke="#1a1a1a" stroke-width="1.1"/>
<path d="M704 703.9V710.1M698.8 703.9H709.2" fill="none" stroke="#1a1a1a" stroke-width="1.1"/>
<rect x="726.5" y="703.9" width="20.4" height="95.4" fill="#fbd2c0" stroke="#222" stroke-width="1.1"/>
<rect x="749" y="714.5" width="20.4" height="84.8" fill="url(#ck2)" stroke="#222" stroke-width="1.1"/>
<path d="M736.7 695V703.9M731.5 695H741.9" fill="none" stroke="#1a1a1a" stroke-width="1.1"/>
<path d="M759.2 710.1V714.5M754 710.1H764.4" fill="none" stroke="#1a1a1a" stroke-width="1.1"/>
<rect x="781.7" y="716.3" width="20.4" height="83" fill="#fb2a0c" stroke="#222" stroke-width="1.1"/>
<rect x="804.2" y="723.4" width="20.4" height="75.9" fill="url(#ck3)" stroke="#222" stroke-width="1.1"/>
<path d="M791.9 706.1V716.3M786.7 706.1H797.1" fill="none" stroke="#1a1a1a" stroke-width="1.1"/>
<path d="M814.4 718.1V723.4M809.2 718.1H819.6" fill="none" stroke="#1a1a1a" stroke-width="1.1"/>
<rect x="836.9" y="677.7" width="20.4" height="121.6" fill="#fb2a0c" stroke="#222" stroke-width="1.1"/>
<rect x="859.4" y="751.4" width="20.4" height="47.9" fill="url(#ck3)" stroke="#222" stroke-width="1.1"/>
<path d="M847.1 669.7V677.7M841.9 669.7H852.3" fill="none" stroke="#1a1a1a" stroke-width="1.1"/>
<path d="M869.6 744.3V751.4M864.4 744.3H874.8" fill="none" stroke="#1a1a1a" stroke-width="1.1"/>
<rect x="892.1" y="683" width="20.4" height="116.3" fill="#f0d5e5" stroke="#222" stroke-width="1.1"/>
<rect x="914.6" y="757.6" width="20.4" height="41.7" fill="url(#ck4)"/>
<rect x="914.6" y="757.6" width="20.4" height="41.7" fill="url(#fde4)" stroke="#222" stroke-width="1.1"/>
<path d="M902.3 676.8V683M897.1 676.8H907.5" fill="none" stroke="#1a1a1a" stroke-width="1.1"/>
<path d="M924.8 753.1V757.6M919.6 753.1H930" fill="none" stroke="#1a1a1a" stroke-width="1.1"/>
<rect x="947.3" y="693.2" width="20.4" height="106.1" fill="#f0d5e5" stroke="#222" stroke-width="1.1"/>
<rect x="969.8" y="759.8" width="20.4" height="39.5" fill="url(#ck4)"/>
<rect x="969.8" y="759.8" width="20.4" height="39.5" fill="url(#fde4)" stroke="#222" stroke-width="1.1"/>
<path d="M957.5 681.2V693.2M952.3 681.2H962.7" fill="none" stroke="#1a1a1a" stroke-width="1.1"/>
<path d="M980 754V759.8M974.8 754H985.2" fill="none" stroke="#1a1a1a" stroke-width="1.1"/>
<rect x="1002.5" y="680.4" width="20.4" height="118.9" fill="#a7278f" stroke="#222" stroke-width="1.1"/>
<rect x="1025" y="759.4" width="20.4" height="39.9" fill="url(#ck5)" stroke="#222" stroke-width="1.1"/>
<path d="M1012.7 669.7V680.4M1007.5 669.7H1017.9" fill="none" stroke="#1a1a1a" stroke-width="1.1"/>
<path d="M1035.2 756.2V759.4M1030 756.2H1040.4" fill="none" stroke="#1a1a1a" stroke-width="1.1"/>
<rect x="1057.7" y="688.3" width="20.4" height="111" fill="#a7278f" stroke="#222" stroke-width="1.1"/>
<rect x="1080.2" y="765.6" width="20.4" height="33.7" fill="url(#ck5)" stroke="#222" stroke-width="1.1"/>
<path d="M1067.9 674.6V688.3M1062.7 674.6H1073.1" fill="none" stroke="#1a1a1a" stroke-width="1.1"/>
<path d="M1090.4 760.2V765.6M1085.2 760.2H1095.6" fill="none" stroke="#1a1a1a" stroke-width="1.1"/>
<rect x="1112.9" y="736.3" width="20.4" height="63" fill="#e1c5e1" stroke="#222" stroke-width="1.1"/>
<rect x="1135.4" y="734.5" width="20.4" height="64.8" fill="url(#ck6)" stroke="#222" stroke-width="1.1"/>
<path d="M1123.1 731.4V736.3M1117.9 731.4H1128.3" fill="none" stroke="#1a1a1a" stroke-width="1.1"/>
<path d="M1145.6 730.5V734.5M1140.4 730.5H1150.8" fill="none" stroke="#1a1a1a" stroke-width="1.1"/>
<rect x="1168.1" y="725.2" width="20.4" height="74.1" fill="#e1c5e1" stroke="#222" stroke-width="1.1"/>
<rect x="1190.6" y="736.7" width="20.4" height="62.6" fill="url(#ck6)" stroke="#222" stroke-width="1.1"/>
<path d="M1178.3 715.9V725.2M1173.1 715.9H1183.5" fill="none" stroke="#1a1a1a" stroke-width="1.1"/>
<path d="M1200.8 733.2V736.7M1195.6 733.2H1206" fill="none" stroke="#1a1a1a" stroke-width="1.1"/>
<rect x="1223.3" y="733.6" width="20.4" height="65.7" fill="#62297f" stroke="#222" stroke-width="1.1"/>
<rect x="1245.8" y="729.6" width="20.4" height="69.7" fill="url(#ck7)" stroke="#222" stroke-width="1.1"/>
<path d="M1233.5 729.2V733.6M1228.3 729.2H1238.7" fill="none" stroke="#1a1a1a" stroke-width="1.1"/>
<path d="M1256 722.1V729.6M1250.8 722.1H1261.2" fill="none" stroke="#1a1a1a" stroke-width="1.1"/>
<rect x="1278.5" y="705.2" width="20.4" height="94.1" fill="#62297f" stroke="#222" stroke-width="1.1"/>
<rect x="1301" y="752.5" width="20.4" height="46.8" fill="url(#ck7)" stroke="#222" stroke-width="1.1"/>
<path d="M1288.7 697.2V705.2M1283.5 697.2H1293.9" fill="none" stroke="#1a1a1a" stroke-width="1.1"/>
<path d="M1311.2 747.6V752.5M1306 747.6H1316.4" fill="none" stroke="#1a1a1a" stroke-width="1.1"/>
<rect x="1333.7" y="735.4" width="20.4" height="63.9" fill="#d6e7f3" stroke="#222" stroke-width="1.1"/>
<rect x="1356.2" y="745.6" width="20.4" height="53.7" fill="url(#ck8)" stroke="#222" stroke-width="1.1"/>
<path d="M1343.9 730.5V735.4M1338.7 730.5H1349.1" fill="none" stroke="#1a1a1a" stroke-width="1.1"/>
<path d="M1366.4 739.8V745.6M1361.2 739.8H1371.6" fill="none" stroke="#1a1a1a" stroke-width="1.1"/>
<rect x="1388.9" y="737.2" width="20.4" height="62.1" fill="#d6e7f3" stroke="#222" stroke-width="1.1"/>
<rect x="1411.4" y="742.9" width="20.4" height="56.4" fill="url(#ck8)" stroke="#222" stroke-width="1.1"/>
<path d="M1399.1 730.1V737.2M1393.9 730.1H1404.3" fill="none" stroke="#1a1a1a" stroke-width="1.1"/>
<path d="M1421.6 734.9V742.9M1416.4 734.9H1426.8" fill="none" stroke="#1a1a1a" stroke-width="1.1"/>
<rect x="1444.1" y="728.3" width="20.4" height="71" fill="#3a80b9" stroke="#222" stroke-width="1.1"/>
<rect x="1466.6" y="746.5" width="20.4" height="52.8" fill="url(#ck9)" stroke="#222" stroke-width="1.1"/>
<path d="M1454.3 721.2V728.3M1449.1 721.2H1459.5" fill="none" stroke="#1a1a1a" stroke-width="1.1"/>
<path d="M1476.8 742.5V746.5M1471.6 742.5H1482" fill="none" stroke="#1a1a1a" stroke-width="1.1"/>
<rect x="1499.3" y="698.1" width="20.4" height="101.2" fill="#3a80b9" stroke="#222" stroke-width="1.1"/>
<rect x="1521.8" y="758.5" width="20.4" height="40.8" fill="url(#ck9)" stroke="#222" stroke-width="1.1"/>
<path d="M1509.5 687V698.1M1504.3 687H1514.7" fill="none" stroke="#1a1a1a" stroke-width="1.1"/>
<path d="M1532 752.7V758.5M1526.8 752.7H1537.2" fill="none" stroke="#1a1a1a" stroke-width="1.1"/>
<path d="M441 532.5V799.3M426.5 799.3H441M426.5 710.5H441M426.5 621.8H441M426.5 533H441" fill="none" stroke="#222" stroke-width="1.1"/>
<text font-size="24.6" text-anchor="end" x="416.8" y="808.1">0</text>
<text font-size="24.6" text-anchor="end" x="416.8" y="719.3">200</text>
<text font-size="24.6" text-anchor="end" x="416.8" y="630.6">400</text>
<text font-size="24.6" text-anchor="end" x="416.8" y="541.8">600</text>
<path d="M419.6 799.3H1548.2" fill="none" stroke="#222" stroke-width="1.1"/>
<path d="M460.7 799.3V813M483.2 799.3V813M515.9 799.3V813M538.4 799.3V813M571.1 799.3V813M593.6 799.3V813M626.3 799.3V813M648.8 799.3V813M681.5 799.3V813M704 799.3V813M736.7 799.3V813M759.2 799.3V813M791.9 799.3V813M814.4 799.3V813M847.1 799.3V813M869.6 799.3V813M902.3 799.3V813M924.8 799.3V813M957.5 799.3V813M980 799.3V813M1012.7 799.3V813M1035.2 799.3V813M1067.9 799.3V813M1090.4 799.3V813M1123.1 799.3V813M1145.6 799.3V813M1178.3 799.3V813M1200.8 799.3V813M1233.5 799.3V813M1256 799.3V813M1288.7 799.3V813M1311.2 799.3V813M1343.9 799.3V813M1366.4 799.3V813M1399.1 799.3V813M1421.6 799.3V813M1454.3 799.3V813M1476.8 799.3V813M1509.5 799.3V813M1531.8 818.5V832.2" fill="none" stroke="#222" stroke-width="1.1"/>
<path d="M441 845.2H1548.2M441 878H1548.2M441 911.3H1548.2M441 943.3H1548.2M441 799.3V943.3M499.4 799.3V878M554.6 799.3V943.3M609.8 799.3V878M665 799.3V943.3M720.2 799.3V878M775.4 799.3V943.3M830.6 799.3V878M885.8 799.3V943.3M941 799.3V878M996.2 799.3V943.3M1051.4 799.3V878M1106.6 799.3V943.3M1161.8 799.3V878M1217 799.3V943.3M1272.2 799.3V878M1327.4 799.3V943.3M1382.6 799.3V878M1437.8 799.3V943.3M1493 799.3V878M1548.2 799.3V943.3" fill="none" stroke="#222" stroke-width="1.1"/>
<text font-size="25.5" text-anchor="middle" x="460.7" y="838.6">S</text>
<text font-size="25.5" text-anchor="middle" x="483.2" y="838.6">I</text>
<text font-size="25.6" text-anchor="middle" x="471.5" y="870.2">Pre</text>
<text font-size="25.5" text-anchor="middle" x="515.9" y="838.6">S</text>
<text font-size="25.5" text-anchor="middle" x="538.4" y="838.6">I</text>
<text font-size="25.6" text-anchor="middle" x="526.2" y="870.2">Test</text>
<text font-size="25.5" text-anchor="middle" x="571.1" y="838.6">S</text>
<text font-size="25.5" text-anchor="middle" x="593.6" y="838.6">I</text>
<text font-size="25.6" text-anchor="middle" x="581.9" y="870.2">Pre</text>
<text font-size="25.5" text-anchor="middle" x="626.3" y="838.6">S</text>
<text font-size="25.5" text-anchor="middle" x="648.8" y="838.6">I</text>
<text font-size="25.6" text-anchor="middle" x="636.6" y="870.2">Test</text>
<text font-size="25.5" text-anchor="middle" x="681.5" y="838.6">S</text>
<text font-size="25.5" text-anchor="middle" x="704" y="838.6">I</text>
<text font-size="25.6" text-anchor="middle" x="692.3" y="870.2">Pre</text>
<text font-size="25.5" text-anchor="middle" x="736.7" y="838.6">S</text>
<text font-size="25.5" text-anchor="middle" x="759.2" y="838.6">I</text>
<text font-size="25.6" text-anchor="middle" x="747" y="870.2">Test</text>
<text font-size="25.5" text-anchor="middle" x="791.9" y="838.6">S</text>
<text font-size="25.5" text-anchor="middle" x="814.4" y="838.6">I</text>
<text font-size="25.6" text-anchor="middle" x="802.7" y="870.2">Pre</text>
<text font-size="25.5" text-anchor="middle" x="847.1" y="838.6">S</text>
<text font-size="25.5" text-anchor="middle" x="869.6" y="838.6">I</text>
<text font-size="25.6" text-anchor="middle" x="857.4" y="870.2">Test</text>
<text font-size="25.5" text-anchor="middle" x="902.3" y="838.6">S</text>
<text font-size="25.5" text-anchor="middle" x="924.8" y="838.6">I</text>
<text font-size="25.6" text-anchor="middle" x="913.1" y="870.2">Pre</text>
<text font-size="25.5" text-anchor="middle" x="957.5" y="838.6">S</text>
<text font-size="25.5" text-anchor="middle" x="980" y="838.6">I</text>
<text font-size="25.6" text-anchor="middle" x="967.8" y="870.2">Test</text>
<text font-size="25.5" text-anchor="middle" x="1012.7" y="838.6">S</text>
<text font-size="25.5" text-anchor="middle" x="1035.2" y="838.6">I</text>
<text font-size="25.6" text-anchor="middle" x="1023.5" y="870.2">Pre</text>
<text font-size="25.5" text-anchor="middle" x="1067.9" y="838.6">S</text>
<text font-size="25.5" text-anchor="middle" x="1090.4" y="838.6">I</text>
<text font-size="25.6" text-anchor="middle" x="1078.2" y="870.2">Test</text>
<text font-size="25.5" text-anchor="middle" x="1123.1" y="838.6">S</text>
<text font-size="25.5" text-anchor="middle" x="1145.6" y="838.6">I</text>
<text font-size="25.6" text-anchor="middle" x="1133.9" y="870.2">Pre</text>
<text font-size="25.5" text-anchor="middle" x="1178.3" y="838.6">S</text>
<text font-size="25.5" text-anchor="middle" x="1200.8" y="838.6">I</text>
<text font-size="25.6" text-anchor="middle" x="1188.6" y="870.2">Test</text>
<text font-size="25.5" text-anchor="middle" x="1233.5" y="838.6">S</text>
<text font-size="25.5" text-anchor="middle" x="1256" y="838.6">I</text>
<text font-size="25.6" text-anchor="middle" x="1244.3" y="870.2">Pre</text>
<text font-size="25.5" text-anchor="middle" x="1288.7" y="838.6">S</text>
<text font-size="25.5" text-anchor="middle" x="1311.2" y="838.6">I</text>
<text font-size="25.6" text-anchor="middle" x="1299" y="870.2">Test</text>
<text font-size="25.5" text-anchor="middle" x="1343.9" y="838.6">S</text>
<text font-size="25.5" text-anchor="middle" x="1366.4" y="838.6">I</text>
<text font-size="25.6" text-anchor="middle" x="1354.7" y="870.2">Pre</text>
<text font-size="25.5" text-anchor="middle" x="1399.1" y="838.6">S</text>
<text font-size="25.5" text-anchor="middle" x="1421.6" y="838.6">I</text>
<text font-size="25.6" text-anchor="middle" x="1409.4" y="870.2">Test</text>
<text font-size="25.5" text-anchor="middle" x="1454.3" y="838.6">S</text>
<text font-size="25.5" text-anchor="middle" x="1476.8" y="838.6">I</text>
<text font-size="25.6" text-anchor="middle" x="1465.1" y="870.2">Pre</text>
<text font-size="25.5" text-anchor="middle" x="1509.5" y="838.6">S</text>
<text font-size="25.5" text-anchor="middle" x="1531.8" y="857.7">I</text>
<text font-size="25.6" text-anchor="middle" x="1519.8" y="870.2">Test</text>
<text font-size="39.5" text-anchor="middle" x="499.4" y="906.5">+</text>
<text font-size="39.5" text-anchor="middle" x="499.4" y="938.8">-</text>
<text font-size="39.5" text-anchor="middle" x="609.8" y="903.8">-</text>
<text font-size="39.5" text-anchor="middle" x="609.8" y="941.5">+</text>
<text font-size="39.5" text-anchor="middle" x="720.2" y="906.5">+</text>
<text font-size="39.5" text-anchor="middle" x="720.2" y="938.8">-</text>
<text font-size="39.5" text-anchor="middle" x="830.6" y="903.8">-</text>
<text font-size="39.5" text-anchor="middle" x="830.6" y="941.5">+</text>
<text font-size="39.5" text-anchor="middle" x="941" y="906.5">+</text>
<text font-size="39.5" text-anchor="middle" x="941" y="938.8">-</text>
<text font-size="39.5" text-anchor="middle" x="1051.4" y="903.8">-</text>
<text font-size="39.5" text-anchor="middle" x="1051.4" y="941.5">+</text>
<text font-size="39.5" text-anchor="middle" x="1161.8" y="906.5">+</text>
<text font-size="39.5" text-anchor="middle" x="1161.8" y="938.8">-</text>
<text font-size="39.5" text-anchor="middle" x="1272.2" y="903.8">-</text>
<text font-size="39.5" text-anchor="middle" x="1272.2" y="941.5">+</text>
<text font-size="39.5" text-anchor="middle" x="1382.6" y="906.5">+</text>
<text font-size="39.5" text-anchor="middle" x="1382.6" y="938.8">-</text>
<text font-size="39.5" text-anchor="middle" x="1493" y="903.8">-</text>
<text font-size="39.5" text-anchor="middle" x="1493" y="941.5">+</text>
<text font-size="25.8" text-anchor="end" x="429.3" y="902">Veh</text>
<text font-size="25.8" text-anchor="end" letter-spacing="0.6" x="426" y="938.2">IL-17a</text>
<text font-size="26" text-anchor="middle" transform="translate(350 667.2) rotate(-90)">Interaction Time (s)</text>
<path d="M464.8 570.4V549.8H483.3V643.5" fill="none" stroke="#222" stroke-width="1.1"/>
<text font-size="14.4" transform="translate(460.4 549) rotate(-30)">&lt;.0001</text>
<path d="M519.6 570.4V549.8H538.1V643.5" fill="none" stroke="#222" stroke-width="1.1"/>
<text font-size="14.4" transform="translate(515.2 549) rotate(-30)">&lt;.0001</text>
<path d="M574.4 570.4V549.8H592.9V643.5" fill="none" stroke="#222" stroke-width="1.1"/>
<text font-size="14.4" transform="translate(570 549) rotate(-30)">&lt;.0001</text>
<path d="M629.2 570.4V549.8H647.7V643.5" fill="none" stroke="#222" stroke-width="1.1"/>
<text font-size="14.4" transform="translate(624.8 549) rotate(-30)">&lt;.0001</text>
<path d="M851.2 570.4V549.8H869.7V643.5" fill="none" stroke="#222" stroke-width="1.1"/>
<text font-size="14.4" transform="translate(846.8 549) rotate(-30)">&lt;.0001</text>
<path d="M906.4 570.4V549.8H924.9V643.5" fill="none" stroke="#222" stroke-width="1.1"/>
<text font-size="14.4" transform="translate(902 549) rotate(-30)">&lt;.0001</text>
<path d="M961.6 570.4V549.8H980.1V643.5" fill="none" stroke="#222" stroke-width="1.1"/>
<text font-size="14.4" transform="translate(957.2 549) rotate(-30)">&lt;.0001</text>
<path d="M1016.8 570.4V549.8H1035.3V643.5" fill="none" stroke="#222" stroke-width="1.1"/>
<text font-size="14.4" transform="translate(1012.4 549) rotate(-30)">&lt;.0001</text>
<path d="M1072 570.4V549.8H1090.5V643.5" fill="none" stroke="#222" stroke-width="1.1"/>
<text font-size="14.4" transform="translate(1067.6 549) rotate(-30)">&lt;.0001</text>
<path d="M1292.8 570.4V549.8H1311.3V643.5" fill="none" stroke="#222" stroke-width="1.1"/>
<text font-size="14.4" transform="translate(1287.4 546.5) rotate(-30)">.0002</text>
<path d="M1511.1 570.4V549.8H1529.6V643.5" fill="none" stroke="#222" stroke-width="1.1"/>
<text font-size="14.4" transform="translate(1506.7 549) rotate(-30)">&lt;.0001</text>
<g fill="none" stroke="#111" stroke-width="1.2"><circle cx="455.4" cy="620.3" r="5.2"/><circle cx="468.1" cy="618.3" r="5.2"/><circle cx="460.2" cy="641" r="5.2"/><circle cx="458.6" cy="647.3" r="5.2"/><circle cx="461.7" cy="657.6" r="5.2"/><circle cx="459.4" cy="669.5" r="5.2"/><circle cx="461.7" cy="668.7" r="5.2"/><circle cx="460.2" cy="678.3" r="5.2"/><circle cx="468.1" cy="685.7" r="5.2"/><circle cx="455.4" cy="700" r="5.2"/><circle cx="483.2" cy="731.4" r="5.2"/><circle cx="483.2" cy="741" r="5.2"/><circle cx="484" cy="745.7" r="5.2"/><circle cx="482.4" cy="749.7" r="5.2"/><circle cx="484.8" cy="748.1" r="5.2"/><circle cx="484" cy="752.9" r="5.2"/><circle cx="483.2" cy="755.2" r="5.2"/><circle cx="483.2" cy="766.3" r="5.2"/><circle cx="491.1" cy="769.8" r="5.2"/><circle cx="477.9" cy="785.1" r="5.2"/><circle cx="515.7" cy="589" r="5.2"/><circle cx="515.7" cy="614.4" r="5.2"/><circle cx="514.1" cy="665.9" r="5.2"/><circle cx="517" cy="669.8" r="5.2"/><circle cx="515.7" cy="679.8" r="5.2"/><circle cx="514.9" cy="683" r="5.2"/><circle cx="517" cy="682.2" r="5.2"/><circle cx="515.4" cy="694.9" r="5.2"/><circle cx="515.7" cy="696.8" r="5.2"/><circle cx="515.7" cy="741.4" r="5.2"/><circle cx="546.2" cy="729.8" r="5.2"/><circle cx="529.2" cy="737" r="5.2"/><circle cx="539.5" cy="737.8" r="5.2"/><circle cx="534.8" cy="740.2" r="5.2"/><circle cx="529.2" cy="742.5" r="5.2"/><circle cx="546.7" cy="753.7" r="5.2"/><circle cx="535.6" cy="756" r="5.2"/><circle cx="541.1" cy="757.6" r="5.2"/><circle cx="537.9" cy="767.1" r="5.2"/><circle cx="535.6" cy="767.9" r="5.2"/><circle cx="537.9" cy="779" r="5.2"/><circle cx="578.7" cy="624" r="5.2"/><circle cx="566" cy="629.4" r="5.2"/><circle cx="572.5" cy="642.1" r="5.2"/><circle cx="569.2" cy="645.7" r="5.2"/><circle cx="571.3" cy="648.9" r="5.2"/><circle cx="569.2" cy="666.7" r="5.2"/><circle cx="571.7" cy="671.1" r="5.2"/><circle cx="572.9" cy="673" r="5.2"/><circle cx="569.2" cy="681.4" r="5.2"/><circle cx="573.3" cy="681.4" r="5.2"/><circle cx="571" cy="692.5" r="5.2"/><circle cx="571" cy="714.3" r="5.2"/><circle cx="601" cy="724.6" r="5.2"/><circle cx="588.3" cy="727.8" r="5.2"/><circle cx="595.9" cy="744.9" r="5.2"/><circle cx="591.1" cy="748.9" r="5.2"/><circle cx="593.5" cy="750.5" r="5.2"/><circle cx="591.9" cy="753.7" r="5.2"/><circle cx="594.3" cy="756" r="5.2"/><circle cx="592.7" cy="760" r="5.2"/><circle cx="591.9" cy="763.2" r="5.2"/><circle cx="595.1" cy="764.8" r="5.2"/><circle cx="592.7" cy="776.2" r="5.2"/><circle cx="626.5" cy="597" r="5.2"/><circle cx="618.1" cy="610" r="5.2"/><circle cx="631.1" cy="624" r="5.2"/><circle cx="624.4" cy="632.2" r="5.2"/><circle cx="627.6" cy="641" r="5.2"/><circle cx="626.5" cy="653.7" r="5.2"/><circle cx="624.4" cy="656.8" r="5.2"/><circle cx="626.8" cy="660" r="5.2"/><circle cx="624.4" cy="683.8" r="5.2"/><circle cx="628.1" cy="684.6" r="5.2"/><circle cx="626.5" cy="691.7" r="5.2"/><circle cx="640.3" cy="717.1" r="5.2"/><circle cx="653.3" cy="718.7" r="5.2"/><circle cx="656.5" cy="741" r="5.2"/><circle cx="643.5" cy="744.1" r="5.2"/><circle cx="644.3" cy="749.7" r="5.2"/><circle cx="652.2" cy="752.9" r="5.2"/><circle cx="640.3" cy="759.7" r="5.2"/><circle cx="645.9" cy="762.4" r="5.2"/><circle cx="649.8" cy="763.2" r="5.2"/><circle cx="657" cy="763.2" r="5.2"/><circle cx="656.5" cy="769.5" r="5.2"/><circle cx="643.5" cy="779.8" r="5.2"/><circle cx="678.7" cy="693" r="5.2"/><circle cx="683.8" cy="694.1" r="5.2"/><circle cx="680.3" cy="697.3" r="5.2"/><circle cx="682.2" cy="701.3" r="5.2"/><circle cx="681.4" cy="705.2" r="5.2"/><circle cx="682.2" cy="708.4" r="5.2"/><circle cx="680.6" cy="710.8" r="5.2"/><circle cx="673.5" cy="720.6" r="5.2"/><circle cx="688.6" cy="724.3" r="5.2"/><circle cx="678.3" cy="726.7" r="5.2"/><circle cx="684.6" cy="731.1" r="5.2"/><circle cx="679.8" cy="738.6" r="5.2"/><circle cx="683.8" cy="739.4" r="5.2"/><circle cx="681.4" cy="748.9" r="5.2"/><circle cx="702.1" cy="675.6" r="5.2"/><circle cx="705.2" cy="675.6" r="5.2"/><circle cx="703.7" cy="682.2" r="5.2"/><circle cx="711.6" cy="697.3" r="5.2"/><circle cx="696.5" cy="699.7" r="5.2"/><circle cx="694.1" cy="703.7" r="5.2"/><circle cx="712.4" cy="709.2" r="5.2"/><circle cx="702.9" cy="716.3" r="5.2"/><circle cx="705.2" cy="717.9" r="5.2"/><circle cx="702.1" cy="725.1" r="5.2"/><circle cx="704.4" cy="729" r="5.2"/><circle cx="703.7" cy="732.2" r="5.2"/><circle cx="702.9" cy="733.8" r="5.2"/><circle cx="704.4" cy="736.2" r="5.2"/><circle cx="736.5" cy="632.5" r="5.2"/><circle cx="750.8" cy="649.7" r="5.2"/><circle cx="764" cy="662.1" r="5.2"/><circle cx="736.5" cy="664" r="5.2"/><circle cx="737.8" cy="683" r="5.2"/><circle cx="734.6" cy="685.4" r="5.2"/><circle cx="737" cy="687" r="5.2"/><circle cx="745.7" cy="699.7" r="5.2"/><circle cx="728.3" cy="703.7" r="5.2"/><circle cx="733.8" cy="709.2" r="5.2"/><circle cx="737" cy="726.7" r="5.2"/><circle cx="744.9" cy="728.3" r="5.2"/><circle cx="728.3" cy="732.7" r="5.2"/><circle cx="739.4" cy="740.2" r="5.2"/><circle cx="733.3" cy="744.1" r="5.2"/><circle cx="767.1" cy="704.4" r="5.2"/><circle cx="752.1" cy="705.2" r="5.2"/><circle cx="759.2" cy="710" r="5.2"/><circle cx="756.8" cy="712.4" r="5.2"/><circle cx="761.6" cy="712.4" r="5.2"/><circle cx="759.2" cy="716.3" r="5.2"/><circle cx="757.6" cy="720.3" r="5.2"/><circle cx="760" cy="721.9" r="5.2"/><circle cx="758.4" cy="725.9" r="5.2"/><circle cx="757.6" cy="729" r="5.2"/><circle cx="758.4" cy="745.7" r="5.2"/><circle cx="759.2" cy="747.3" r="5.2"/><circle cx="791.7" cy="659.5" r="5.2"/><circle cx="793.3" cy="691.7" r="5.2"/><circle cx="790.2" cy="694.9" r="5.2"/><circle cx="792.2" cy="702.1" r="5.2"/><circle cx="799.7" cy="715.6" r="5.2"/><circle cx="787" cy="721.1" r="5.2"/><circle cx="783.8" cy="733.3" r="5.2"/><circle cx="796.5" cy="738.6" r="5.2"/><circle cx="799.7" cy="742.5" r="5.2"/><circle cx="787" cy="755.2" r="5.2"/><circle cx="814" cy="684.6" r="5.2"/><circle cx="814" cy="702.9" r="5.2"/><circle cx="815.6" cy="714.8" r="5.2"/><circle cx="813.2" cy="722.7" r="5.2"/><circle cx="814.8" cy="725.1" r="5.2"/><circle cx="813.2" cy="736.2" r="5.2"/><circle cx="814.8" cy="744.1" r="5.2"/><circle cx="847.3" cy="630.3" r="5.2"/><circle cx="839" cy="662.9" r="5.2"/><circle cx="855.2" cy="660" r="5.2"/><circle cx="844.9" cy="667.9" r="5.2"/><circle cx="849.7" cy="669.5" r="5.2"/><circle cx="848.1" cy="673.5" r="5.2"/><circle cx="845.7" cy="688.6" r="5.2"/><circle cx="847.3" cy="690.2" r="5.2"/><circle cx="855.2" cy="708.9" r="5.2"/><circle cx="842.5" cy="721.1" r="5.2"/><circle cx="869.5" cy="700.2" r="5.2"/><circle cx="869.5" cy="739.4" r="5.2"/><circle cx="864" cy="753.7" r="5.2"/><circle cx="875.1" cy="753.7" r="5.2"/><circle cx="862.4" cy="756" r="5.2"/><circle cx="877.5" cy="756" r="5.2"/><circle cx="866.3" cy="760" r="5.2"/><circle cx="872.7" cy="760" r="5.2"/><circle cx="869.5" cy="763.2" r="5.2"/><circle cx="902.2" cy="636.5" r="5.2"/><circle cx="910.2" cy="664.8" r="5.2"/><circle cx="894.3" cy="668.4" r="5.2"/><circle cx="905.4" cy="674" r="5.2"/><circle cx="899.8" cy="676.7" r="5.2"/><circle cx="903.8" cy="683" r="5.2"/><circle cx="900.6" cy="694.9" r="5.2"/><circle cx="902.2" cy="696.5" r="5.2"/><circle cx="903.8" cy="705.2" r="5.2"/><circle cx="902.2" cy="712.7" r="5.2"/><circle cx="924.4" cy="733" r="5.2"/><circle cx="926" cy="743.3" r="5.2"/><circle cx="922.9" cy="749.7" r="5.2"/><circle cx="922.1" cy="755.2" r="5.2"/><circle cx="926" cy="756.8" r="5.2"/><circle cx="927.6" cy="760.8" r="5.2"/><circle cx="923.7" cy="761.6" r="5.2"/><circle cx="926" cy="764.8" r="5.2"/><circle cx="924.4" cy="767.1" r="5.2"/><circle cx="923.7" cy="769.5" r="5.2"/><circle cx="957" cy="635.4" r="5.2"/><circle cx="965.2" cy="646.2" r="5.2"/><circle cx="952.2" cy="655.2" r="5.2"/><circle cx="957" cy="671.6" r="5.2"/><circle cx="965.2" cy="684.9" r="5.2"/><circle cx="952.2" cy="688.9" r="5.2"/><circle cx="957" cy="713.2" r="5.2"/><circle cx="948.6" cy="727.5" r="5.2"/><circle cx="965.2" cy="727.5" r="5.2"/><circle cx="959.4" cy="729.8" r="5.2"/><circle cx="954.1" cy="739" r="5.2"/><circle cx="978.1" cy="727.9" r="5.2"/><circle cx="981.6" cy="740.2" r="5.2"/><circle cx="979.2" cy="740.6" r="5.2"/><circle cx="972.1" cy="750.5" r="5.2"/><circle cx="984" cy="757.6" r="5.2"/><circle cx="983.2" cy="766.3" r="5.2"/><circle cx="974.4" cy="767.9" r="5.2"/><circle cx="987.9" cy="771.6" r="5.2"/><circle cx="971.3" cy="775.1" r="5.2"/><circle cx="977.6" cy="777.5" r="5.2"/><circle cx="981.6" cy="775.9" r="5.2"/><circle cx="1020.5" cy="618.4" r="5.2"/><circle cx="1007" cy="631.4" r="5.2"/><circle cx="1012.2" cy="656.8" r="5.2"/><circle cx="1020.5" cy="667.5" r="5.2"/><circle cx="1003.8" cy="679.5" r="5.2"/><circle cx="1017.3" cy="695.4" r="5.2"/><circle cx="1020.5" cy="707.9" r="5.2"/><circle cx="1003.8" cy="711.1" r="5.2"/><circle cx="1014.9" cy="710.8" r="5.2"/><circle cx="1009.4" cy="718.7" r="5.2"/><circle cx="1033.2" cy="751.3" r="5.2"/><circle cx="1037.1" cy="751.3" r="5.2"/><circle cx="1034.8" cy="754.4" r="5.2"/><circle cx="1032.4" cy="756.8" r="5.2"/><circle cx="1037.9" cy="757.6" r="5.2"/><circle cx="1026.8" cy="762.4" r="5.2"/><circle cx="1043.5" cy="761.6" r="5.2"/><circle cx="1034.8" cy="760" r="5.2"/><circle cx="1040.3" cy="764.8" r="5.2"/><circle cx="1033.2" cy="775.9" r="5.2"/><circle cx="1067.6" cy="598.9" r="5.2"/><circle cx="1075.6" cy="637.3" r="5.2"/><circle cx="1062.5" cy="650.5" r="5.2"/><circle cx="1067.6" cy="672.7" r="5.2"/><circle cx="1062.5" cy="689.4" r="5.2"/><circle cx="1075.2" cy="687.5" r="5.2"/><circle cx="1067.6" cy="712.1" r="5.2"/><circle cx="1075.6" cy="722.7" r="5.2"/><circle cx="1059.4" cy="725.1" r="5.2"/><circle cx="1064.1" cy="733" r="5.2"/><circle cx="1070.5" cy="733" r="5.2"/><circle cx="1098.3" cy="745.7" r="5.2"/><circle cx="1083.2" cy="748.1" r="5.2"/><circle cx="1087.9" cy="750.5" r="5.2"/><circle cx="1093.5" cy="749.7" r="5.2"/><circle cx="1083.2" cy="760.8" r="5.2"/><circle cx="1098.7" cy="762.4" r="5.2"/><circle cx="1087.9" cy="774.3" r="5.2"/><circle cx="1091.1" cy="776.7" r="5.2"/><circle cx="1090.3" cy="790.2" r="5.2"/><circle cx="1117.9" cy="718.7" r="5.2"/><circle cx="1130.6" cy="718.4" r="5.2"/><circle cx="1114.3" cy="729" r="5.2"/><circle cx="1131" cy="733" r="5.2"/><circle cx="1122.2" cy="738.6" r="5.2"/><circle cx="1125.4" cy="742.5" r="5.2"/><circle cx="1131" cy="749.7" r="5.2"/><circle cx="1117.9" cy="759.2" r="5.2"/><circle cx="1144.9" cy="717.9" r="5.2"/><circle cx="1146.8" cy="726.7" r="5.2"/><circle cx="1143.7" cy="729" r="5.2"/><circle cx="1145.2" cy="732.2" r="5.2"/><circle cx="1144.4" cy="736.2" r="5.2"/><circle cx="1153.2" cy="745.4" r="5.2"/><circle cx="1139.7" cy="754.4" r="5.2"/><circle cx="1186" cy="683.8" r="5.2"/><circle cx="1173" cy="696.5" r="5.2"/><circle cx="1169.4" cy="721.9" r="5.2"/><circle cx="1175.4" cy="729" r="5.2"/><circle cx="1180.2" cy="729.8" r="5.2"/><circle cx="1185.7" cy="729.8" r="5.2"/><circle cx="1185.7" cy="747" r="5.2"/><circle cx="1172.7" cy="752.1" r="5.2"/><circle cx="1202.4" cy="721.9" r="5.2"/><circle cx="1198.4" cy="726.7" r="5.2"/><circle cx="1200.3" cy="733" r="5.2"/><circle cx="1198.7" cy="736.2" r="5.2"/><circle cx="1201.6" cy="739.4" r="5.2"/><circle cx="1199.7" cy="742.5" r="5.2"/><circle cx="1200" cy="750.5" r="5.2"/><circle cx="1234.9" cy="716.3" r="5.2"/><circle cx="1232.5" cy="719.5" r="5.2"/><circle cx="1234.1" cy="723.5" r="5.2"/><circle cx="1232.5" cy="726.7" r="5.2"/><circle cx="1234.9" cy="729.8" r="5.2"/><circle cx="1233" cy="739.4" r="5.2"/><circle cx="1232.5" cy="747.3" r="5.2"/><circle cx="1234.1" cy="748.9" r="5.2"/><circle cx="1255.2" cy="681.1" r="5.2"/><circle cx="1255.2" cy="707.6" r="5.2"/><circle cx="1257.1" cy="718.7" r="5.2"/><circle cx="1254.8" cy="733" r="5.2"/><circle cx="1257.1" cy="736.2" r="5.2"/><circle cx="1255.6" cy="744.1" r="5.2"/><circle cx="1256.3" cy="750.5" r="5.2"/><circle cx="1288.4" cy="674" r="5.2"/><circle cx="1280.5" cy="684.3" r="5.2"/><circle cx="1296.8" cy="683.5" r="5.2"/><circle cx="1291.3" cy="691" r="5.2"/><circle cx="1287.3" cy="696.8" r="5.2"/><circle cx="1280.5" cy="707.6" r="5.2"/><circle cx="1293.3" cy="714.8" r="5.2"/><circle cx="1286.5" cy="728.3" r="5.2"/><circle cx="1290.5" cy="728.3" r="5.2"/><circle cx="1288.4" cy="739.4" r="5.2"/><circle cx="1309" cy="726.2" r="5.2"/><circle cx="1312.7" cy="733.8" r="5.2"/><circle cx="1309.5" cy="737.8" r="5.2"/><circle cx="1311.9" cy="748.1" r="5.2"/><circle cx="1309.5" cy="756" r="5.2"/><circle cx="1311.9" cy="758.4" r="5.2"/><circle cx="1310.3" cy="760" r="5.2"/><circle cx="1319" cy="767.1" r="5.2"/><circle cx="1305.6" cy="776.7" r="5.2"/><circle cx="1345.4" cy="716.3" r="5.2"/><circle cx="1342.3" cy="721.9" r="5.2"/><circle cx="1343.8" cy="724.3" r="5.2"/><circle cx="1343" cy="726.7" r="5.2"/><circle cx="1343.8" cy="729.8" r="5.2"/><circle cx="1352.3" cy="743" r="5.2"/><circle cx="1335.4" cy="745.7" r="5.2"/><circle cx="1340.7" cy="754.9" r="5.2"/><circle cx="1346.2" cy="754.4" r="5.2"/><circle cx="1365.7" cy="714.8" r="5.2"/><circle cx="1374" cy="735.4" r="5.2"/><circle cx="1360.8" cy="736.2" r="5.2"/><circle cx="1367.7" cy="740.2" r="5.2"/><circle cx="1365.3" cy="744.1" r="5.2"/><circle cx="1366.1" cy="749.7" r="5.2"/><circle cx="1365.3" cy="756" r="5.2"/><circle cx="1365.6" cy="757.6" r="5.2"/><circle cx="1365.7" cy="773.2" r="5.2"/><circle cx="1406.9" cy="699.2" r="5.2"/><circle cx="1393.8" cy="714.3" r="5.2"/><circle cx="1400.2" cy="731.4" r="5.2"/><circle cx="1397" cy="737.8" r="5.2"/><circle cx="1399.4" cy="740.2" r="5.2"/><circle cx="1397.8" cy="743.3" r="5.2"/><circle cx="1399.4" cy="744.9" r="5.2"/><circle cx="1406.9" cy="756.8" r="5.2"/><circle cx="1393.8" cy="764.4" r="5.2"/><circle cx="1413.2" cy="718.7" r="5.2"/><circle cx="1429.1" cy="716.3" r="5.2"/><circle cx="1423.7" cy="720.8" r="5.2"/><circle cx="1418.4" cy="731.4" r="5.2"/><circle cx="1419.2" cy="746.5" r="5.2"/><circle cx="1421.1" cy="748.9" r="5.2"/><circle cx="1422.4" cy="749.7" r="5.2"/><circle cx="1416.1" cy="777.5" r="5.2"/><circle cx="1429.2" cy="774.8" r="5.2"/><circle cx="1445.9" cy="701" r="5.2"/><circle cx="1462.1" cy="704.1" r="5.2"/><circle cx="1451" cy="712.4" r="5.2"/><circle cx="1456.5" cy="713.2" r="5.2"/><circle cx="1462.9" cy="721.1" r="5.2"/><circle cx="1445.9" cy="727.5" r="5.2"/><circle cx="1456.5" cy="728.3" r="5.2"/><circle cx="1451" cy="733.8" r="5.2"/><circle cx="1445.9" cy="737.8" r="5.2"/><circle cx="1458.9" cy="751.3" r="5.2"/><circle cx="1454.2" cy="773.2" r="5.2"/><circle cx="1476.4" cy="721.6" r="5.2"/><circle cx="1474.5" cy="737" r="5.2"/><circle cx="1478" cy="736.2" r="5.2"/><circle cx="1475.6" cy="741" r="5.2"/><circle cx="1477.2" cy="746.5" r="5.2"/><circle cx="1475.6" cy="752.9" r="5.2"/><circle cx="1477.2" cy="754.4" r="5.2"/><circle cx="1476.4" cy="756.8" r="5.2"/><circle cx="1509.4" cy="629.5" r="5.2"/><circle cx="1501.3" cy="665.9" r="5.2"/><circle cx="1514.2" cy="672.7" r="5.2"/><circle cx="1517.3" cy="688.9" r="5.2"/><circle cx="1501.3" cy="693.8" r="5.2"/><circle cx="1508.1" cy="698.1" r="5.2"/><circle cx="1512.1" cy="699.7" r="5.2"/><circle cx="1511.3" cy="716.7" r="5.2"/><circle cx="1507.3" cy="725.1" r="5.2"/><circle cx="1509.4" cy="725.9" r="5.2"/><circle cx="1509.4" cy="754" r="5.2"/><circle cx="1523.7" cy="738.6" r="5.2"/><circle cx="1531.6" cy="742.5" r="5.2"/><circle cx="1539.9" cy="760.8" r="5.2"/><circle cx="1523.2" cy="769.5" r="5.2"/><circle cx="1529.6" cy="771.9" r="5.2"/><circle cx="1534.3" cy="773.5" r="5.2"/><circle cx="1527.2" cy="783.8" r="5.2"/><circle cx="1535.9" cy="784.6" r="5.2"/><circle cx="1539.9" cy="787.8" r="5.2"/><circle cx="1529.6" cy="796.5" r="5.2"/><circle cx="1532.7" cy="795.7" r="5.2"/></g>
</g>
<g id="panel-f">
<text font-size="28.5" font-weight="bold" x="6" y="1017.2">f</text>
<text font-size="25.6" text-anchor="middle" x="192" y="1024.3">PBS</text>
<text font-size="25.6" text-anchor="middle" x="299.3" y="1024.3">MIA</text>
<text font-size="25.6" text-anchor="middle" x="410.5" y="1024.3">WT</text>
<text font-size="25.6" text-anchor="middle" font-style="italic" x="525.2" y="1024.3">Cntnap2</text>
<text font-size="25.6" text-anchor="middle" font-style="italic" x="632" y="1024.3">Fmr1</text>
<path d="M154.3 1036.3H226.3M263.8 1036.3H336.4M372.4 1036.3H445.2M482 1036.3H554.8M594.3 1036.3H666.7" fill="none" stroke="#3a3a3a" stroke-width="1.5"/>
<rect x="142.2" y="1134.4" width="20.5" height="181.6" fill="#ffffff" stroke="#222" stroke-width="1.1"/>
<rect x="165.2" y="1145.4" width="20.5" height="170.6" fill="#ffffff" stroke="#222" stroke-width="1.1"/>
<path d="M152.5 1128V1134.4M147.5 1128H157.5" fill="none" stroke="#1a1a1a" stroke-width="1.1"/>
<path d="M175.5 1135.6V1145.4M170.5 1135.6H180.5" fill="none" stroke="#1a1a1a" stroke-width="1.1"/>
<rect x="197.7" y="1138.1" width="20.5" height="177.9" fill="#bdbdbd" stroke="#222" stroke-width="1.1"/>
<rect x="220.7" y="1122.5" width="20.5" height="193.5" fill="#bdbdbd" stroke="#222" stroke-width="1.1"/>
<path d="M207.9 1129.6V1138.1M202.9 1129.6H212.9" fill="none" stroke="#1a1a1a" stroke-width="1.1"/>
<path d="M230.9 1115.7V1122.5M225.9 1115.7H235.9" fill="none" stroke="#1a1a1a" stroke-width="1.1"/>
<rect x="253.1" y="1148.4" width="20.5" height="167.6" fill="#fbd2c0" stroke="#222" stroke-width="1.1"/>
<rect x="276.1" y="1139.4" width="20.5" height="176.6" fill="#fbd2c0" stroke="#222" stroke-width="1.1"/>
<path d="M263.4 1141.1V1148.4M258.4 1141.1H268.4" fill="none" stroke="#1a1a1a" stroke-width="1.1"/>
<path d="M286.4 1131.7V1139.4M281.4 1131.7H291.4" fill="none" stroke="#1a1a1a" stroke-width="1.1"/>
<rect x="308.6" y="1160.3" width="20.5" height="155.7" fill="#fb2a0c" stroke="#222" stroke-width="1.1"/>
<rect x="331.6" y="1148.9" width="20.5" height="167.1" fill="#fb2a0c" stroke="#222" stroke-width="1.1"/>
<path d="M318.8 1151.3V1160.3M313.8 1151.3H323.8" fill="none" stroke="#1a1a1a" stroke-width="1.1"/>
<path d="M341.8 1138.3V1148.9M336.8 1138.3H346.8" fill="none" stroke="#1a1a1a" stroke-width="1.1"/>
<rect x="364" y="1160.3" width="20.5" height="155.7" fill="#f0d5e5" stroke="#222" stroke-width="1.1"/>
<rect x="387" y="1172.7" width="20.5" height="143.3" fill="#f0d5e5" stroke="#222" stroke-width="1.1"/>
<path d="M374.3 1153V1160.3M369.3 1153H379.3" fill="none" stroke="#1a1a1a" stroke-width="1.1"/>
<path d="M397.3 1159.9V1172.7M392.3 1159.9H402.3" fill="none" stroke="#1a1a1a" stroke-width="1.1"/>
<rect x="419.5" y="1160.3" width="20.5" height="155.7" fill="#a7278f" stroke="#222" stroke-width="1.1"/>
<rect x="442.5" y="1160.3" width="20.5" height="155.7" fill="#a7278f" stroke="#222" stroke-width="1.1"/>
<path d="M429.8 1151.3V1160.3M424.8 1151.3H434.8" fill="none" stroke="#1a1a1a" stroke-width="1.1"/>
<path d="M452.8 1150.5V1160.3M447.8 1150.5H457.8" fill="none" stroke="#1a1a1a" stroke-width="1.1"/>
<rect x="475" y="1190.6" width="20.5" height="125.4" fill="#e1c5e1" stroke="#222" stroke-width="1.1"/>
<rect x="498" y="1181.2" width="20.5" height="134.8" fill="#e1c5e1" stroke="#222" stroke-width="1.1"/>
<path d="M485.2 1185.9V1190.6M480.2 1185.9H490.2" fill="none" stroke="#1a1a1a" stroke-width="1.1"/>
<path d="M508.2 1171.4V1181.2M503.2 1171.4H513.2" fill="none" stroke="#1a1a1a" stroke-width="1.1"/>
<rect x="530.4" y="1182.1" width="20.5" height="133.9" fill="#62297f" stroke="#222" stroke-width="1.1"/>
<rect x="553.4" y="1177.5" width="20.5" height="138.5" fill="#62297f" stroke="#222" stroke-width="1.1"/>
<path d="M540.7 1174.4V1182.1M535.7 1174.4H545.7" fill="none" stroke="#1a1a1a" stroke-width="1.1"/>
<path d="M563.7 1168.6V1177.5M558.7 1168.6H568.7" fill="none" stroke="#1a1a1a" stroke-width="1.1"/>
<rect x="585.9" y="1200" width="20.5" height="116" fill="#d6e7f3" stroke="#222" stroke-width="1.1"/>
<rect x="608.9" y="1199.5" width="20.5" height="116.5" fill="#d6e7f3" stroke="#222" stroke-width="1.1"/>
<path d="M596.1 1192.7V1200M591.1 1192.7H601.1" fill="none" stroke="#1a1a1a" stroke-width="1.1"/>
<path d="M619.1 1188.4V1199.5M614.1 1188.4H624.1" fill="none" stroke="#1a1a1a" stroke-width="1.1"/>
<rect x="641.3" y="1179.1" width="20.5" height="136.9" fill="#3a80b9" stroke="#222" stroke-width="1.1"/>
<rect x="664.3" y="1178.2" width="20.5" height="137.8" fill="#3a80b9" stroke="#222" stroke-width="1.1"/>
<path d="M651.6 1173.5V1179.1M646.6 1173.5H656.6" fill="none" stroke="#1a1a1a" stroke-width="1.1"/>
<path d="M674.6 1167.1V1178.2M669.6 1167.1H679.6" fill="none" stroke="#1a1a1a" stroke-width="1.1"/>
<path d="M132.2 1057.7V1316M120.2 1316H132.2M120.2 1230.1H132.2M120.2 1144.1H132.2M120.2 1058.2H132.2" fill="none" stroke="#222" stroke-width="1.1"/>
<text font-size="24.6" text-anchor="end" x="111.6" y="1324.8">0</text>
<text font-size="24.6" text-anchor="end" x="111.6" y="1238.9">200</text>
<text font-size="24.6" text-anchor="end" x="111.6" y="1152.9">400</text>
<text font-size="24.6" text-anchor="end" x="111.6" y="1067">600</text>
<path d="M119.4 1316H700" fill="none" stroke="#222" stroke-width="1.1"/>
<path d="M152.5 1316V1328.8M175.5 1316V1328.8M208 1316V1328.8M231 1316V1328.8M263.4 1316V1328.8M286.4 1316V1328.8M318.9 1316V1328.8M341.9 1316V1328.8M374.3 1316V1328.8M397.3 1316V1328.8M429.8 1316V1328.8M452.8 1316V1328.8M485.3 1316V1328.8M508.3 1316V1328.8M540.7 1316V1328.8M563.7 1316V1328.8M596.2 1316V1328.8M619.2 1316V1328.8M651.6 1316V1328.8M674.6 1316V1328.8" fill="none" stroke="#222" stroke-width="1.1"/>
<path d="M137.4 1395.2H689.9M137.4 1426.6H689.9M137.4 1458.1H689.9M137.4 1316V1458.1M192.7 1316V1458.1M247.9 1316V1458.1M303.1 1316V1458.1M358.4 1316V1458.1M413.6 1316V1458.1M468.9 1316V1458.1M524.1 1316V1458.1M579.4 1316V1458.1M634.6 1316V1458.1M689.9 1316V1458.1" fill="none" stroke="#222" stroke-width="1.1"/>
<text font-size="26" text-anchor="end" transform="translate(160.5 1340.6) rotate(-90)">Pre</text>
<text font-size="26" text-anchor="end" transform="translate(186.4 1340.1) rotate(-90)">Test</text>
<text font-size="26" text-anchor="end" transform="translate(216 1340.6) rotate(-90)">Pre</text>
<text font-size="26" text-anchor="end" transform="translate(241.9 1340.1) rotate(-90)">Test</text>
<text font-size="26" text-anchor="end" transform="translate(271.4 1340.6) rotate(-90)">Pre</text>
<text font-size="26" text-anchor="end" transform="translate(297.3 1340.1) rotate(-90)">Test</text>
<text font-size="26" text-anchor="end" transform="translate(326.9 1340.6) rotate(-90)">Pre</text>
<text font-size="26" text-anchor="end" transform="translate(352.8 1340.1) rotate(-90)">Test</text>
<text font-size="26" text-anchor="end" transform="translate(382.3 1340.6) rotate(-90)">Pre</text>
<text font-size="26" text-anchor="end" transform="translate(408.2 1340.1) rotate(-90)">Test</text>
<text font-size="26" text-anchor="end" transform="translate(437.8 1340.6) rotate(-90)">Pre</text>
<text font-size="26" text-anchor="end" transform="translate(463.7 1340.1) rotate(-90)">Test</text>
<text font-size="26" text-anchor="end" transform="translate(493.3 1340.6) rotate(-90)">Pre</text>
<text font-size="26" text-anchor="end" transform="translate(519.2 1340.1) rotate(-90)">Test</text>
<text font-size="26" text-anchor="end" transform="translate(548.7 1340.6) rotate(-90)">Pre</text>
<text font-size="26" text-anchor="end" transform="translate(574.6 1340.1) rotate(-90)">Test</text>
<text font-size="26" text-anchor="end" transform="translate(604.2 1340.6) rotate(-90)">Pre</text>
<text font-size="26" text-anchor="end" transform="translate(630.1 1340.1) rotate(-90)">Test</text>
<text font-size="26" text-anchor="end" transform="translate(659.6 1340.6) rotate(-90)">Pre</text>
<text font-size="26" text-anchor="end" transform="translate(685.5 1340.1) rotate(-90)">Test</text>
<text font-size="39.5" text-anchor="middle" x="166.2" y="1424.8">+</text>
<text font-size="39.5" text-anchor="middle" x="166.2" y="1453.3">-</text>
<text font-size="39.5" text-anchor="middle" x="221.5" y="1422.1">-</text>
<text font-size="39.5" text-anchor="middle" x="221.5" y="1456">+</text>
<text font-size="39.5" text-anchor="middle" x="276.7" y="1424.8">+</text>
<text font-size="39.5" text-anchor="middle" x="276.7" y="1453.3">-</text>
<text font-size="39.5" text-anchor="middle" x="332" y="1422.1">-</text>
<text font-size="39.5" text-anchor="middle" x="332" y="1456">+</text>
<text font-size="39.5" text-anchor="middle" x="387.2" y="1424.8">+</text>
<text font-size="39.5" text-anchor="middle" x="387.2" y="1453.3">-</text>
<text font-size="39.5" text-anchor="middle" x="442.5" y="1422.1">-</text>
<text font-size="39.5" text-anchor="middle" x="442.5" y="1456">+</text>
<text font-size="39.5" text-anchor="middle" x="497.7" y="1424.8">+</text>
<text font-size="39.5" text-anchor="middle" x="497.7" y="1453.3">-</text>
<text font-size="39.5" text-anchor="middle" x="553" y="1422.1">-</text>
<text font-size="39.5" text-anchor="middle" x="553" y="1456">+</text>
<text font-size="39.5" text-anchor="middle" x="608.2" y="1424.8">+</text>
<text font-size="39.5" text-anchor="middle" x="608.2" y="1453.3">-</text>
<text font-size="39.5" text-anchor="middle" x="663.5" y="1422.1">-</text>
<text font-size="39.5" text-anchor="middle" x="663.5" y="1456">+</text>
<text font-size="25.8" text-anchor="end" x="129.7" y="1421">Veh</text>
<text font-size="25.8" text-anchor="end" letter-spacing="0.6" x="130.3" y="1453.2">IL-17a</text>
<text font-size="26" text-anchor="middle" transform="translate(47.3 1180.5) rotate(-90)">Total Interaction Time (s)</text>
<g fill="none" stroke="#111" stroke-width="1.2"><circle cx="147.8" cy="1108.3" r="5.2"/><circle cx="158.1" cy="1111.3" r="5.2"/><circle cx="160.7" cy="1118.2" r="5.2"/><circle cx="144.8" cy="1125" r="5.2"/><circle cx="158.1" cy="1124.6" r="5.2"/><circle cx="147.8" cy="1127.9" r="5.2"/><circle cx="154.7" cy="1128.9" r="5.2"/><circle cx="150.8" cy="1132.5" r="5.2"/><circle cx="152.7" cy="1156.7" r="5.2"/><circle cx="157.7" cy="1169.6" r="5.2"/><circle cx="147.8" cy="1174.2" r="5.2"/><circle cx="180.5" cy="1092.2" r="5.2"/><circle cx="170.2" cy="1105.7" r="5.2"/><circle cx="172.6" cy="1128.1" r="5.2"/><circle cx="178.1" cy="1128.1" r="5.2"/><circle cx="175.2" cy="1131.9" r="5.2"/><circle cx="167.6" cy="1156.3" r="5.2"/><circle cx="183.5" cy="1155.3" r="5.2"/><circle cx="178.5" cy="1157.3" r="5.2"/><circle cx="172.6" cy="1162.3" r="5.2"/><circle cx="175.6" cy="1181.7" r="5.2"/><circle cx="175.6" cy="1203.9" r="5.2"/><circle cx="208.3" cy="1093.8" r="5.2"/><circle cx="200.4" cy="1114.6" r="5.2"/><circle cx="215.8" cy="1116" r="5.2"/><circle cx="205.7" cy="1117.6" r="5.2"/><circle cx="210.9" cy="1122.6" r="5.2"/><circle cx="213.3" cy="1130.5" r="5.2"/><circle cx="202.9" cy="1143.4" r="5.2"/><circle cx="200" cy="1151.3" r="5.2"/><circle cx="215.8" cy="1152.9" r="5.2"/><circle cx="205.3" cy="1158.7" r="5.2"/><circle cx="210.7" cy="1167.2" r="5.2"/><circle cx="208.3" cy="1188.7" r="5.2"/><circle cx="230.7" cy="1084.5" r="5.2"/><circle cx="223.2" cy="1097.2" r="5.2"/><circle cx="238.7" cy="1096.8" r="5.2"/><circle cx="233.1" cy="1100.8" r="5.2"/><circle cx="228.5" cy="1109.7" r="5.2"/><circle cx="235.1" cy="1127.5" r="5.2"/><circle cx="226.2" cy="1131.5" r="5.2"/><circle cx="231.5" cy="1133.1" r="5.2"/><circle cx="229.1" cy="1134.5" r="5.2"/><circle cx="232.1" cy="1136.5" r="5.2"/><circle cx="236.1" cy="1155.7" r="5.2"/><circle cx="225.6" cy="1169.6" r="5.2"/><circle cx="263.5" cy="1099.8" r="5.2"/><circle cx="263.5" cy="1117.6" r="5.2"/><circle cx="266.2" cy="1125.6" r="5.2"/><circle cx="261.3" cy="1133.5" r="5.2"/><circle cx="255.9" cy="1148.4" r="5.2"/><circle cx="270.8" cy="1146.4" r="5.2"/><circle cx="265.8" cy="1149.4" r="5.2"/><circle cx="258.9" cy="1153.3" r="5.2"/><circle cx="262.9" cy="1156.3" r="5.2"/><circle cx="267.8" cy="1155.3" r="5.2"/><circle cx="263.3" cy="1172.6" r="5.2"/><circle cx="268.4" cy="1189.4" r="5.2"/><circle cx="258.3" cy="1195" r="5.2"/><circle cx="286.3" cy="1093.4" r="5.2"/><circle cx="283.7" cy="1102.7" r="5.2"/><circle cx="288.7" cy="1113.7" r="5.2"/><circle cx="286.3" cy="1117.6" r="5.2"/><circle cx="281.3" cy="1127.5" r="5.2"/><circle cx="291.6" cy="1133.5" r="5.2"/><circle cx="294.2" cy="1140" r="5.2"/><circle cx="278.7" cy="1143.4" r="5.2"/><circle cx="289.6" cy="1145" r="5.2"/><circle cx="283.7" cy="1151.3" r="5.2"/><circle cx="288.7" cy="1154.3" r="5.2"/><circle cx="283.7" cy="1166.6" r="5.2"/><circle cx="286.7" cy="1166.6" r="5.2"/><circle cx="286.3" cy="1194" r="5.2"/><circle cx="318.8" cy="1098.4" r="5.2"/><circle cx="313.8" cy="1141" r="5.2"/><circle cx="323.8" cy="1141" r="5.2"/><circle cx="321.4" cy="1160.9" r="5.2"/><circle cx="316.4" cy="1164.8" r="5.2"/><circle cx="319.4" cy="1168.2" r="5.2"/><circle cx="311.5" cy="1179.1" r="5.2"/><circle cx="326.3" cy="1179.1" r="5.2"/><circle cx="322.4" cy="1182.1" r="5.2"/><circle cx="316.4" cy="1187.1" r="5.2"/><circle cx="318.4" cy="1185.1" r="5.2"/><circle cx="341.6" cy="1086.9" r="5.2"/><circle cx="341.6" cy="1111.7" r="5.2"/><circle cx="341.6" cy="1133.5" r="5.2"/><circle cx="339.2" cy="1152.3" r="5.2"/><circle cx="344.2" cy="1152.3" r="5.2"/><circle cx="341.6" cy="1163.3" r="5.2"/><circle cx="339.2" cy="1167.2" r="5.2"/><circle cx="344.2" cy="1166.2" r="5.2"/><circle cx="341.6" cy="1169.2" r="5.2"/><circle cx="341.6" cy="1199" r="5.2"/><circle cx="375" cy="1119" r="5.2"/><circle cx="369.6" cy="1149" r="5.2"/><circle cx="379.5" cy="1149.4" r="5.2"/><circle cx="373" cy="1153.3" r="5.2"/><circle cx="376" cy="1157.3" r="5.2"/><circle cx="377.9" cy="1157.3" r="5.2"/><circle cx="374" cy="1163.3" r="5.2"/><circle cx="376" cy="1166.2" r="5.2"/><circle cx="369.6" cy="1175.2" r="5.2"/><circle cx="379.5" cy="1182.1" r="5.2"/><circle cx="375" cy="1199.4" r="5.2"/><circle cx="397.4" cy="1097.8" r="5.2"/><circle cx="397.4" cy="1132.5" r="5.2"/><circle cx="394.8" cy="1144.4" r="5.2"/><circle cx="400.8" cy="1146.4" r="5.2"/><circle cx="397.8" cy="1151.3" r="5.2"/><circle cx="392.2" cy="1170.2" r="5.2"/><circle cx="402.3" cy="1184.7" r="5.2"/><circle cx="405.3" cy="1213.8" r="5.2"/><circle cx="389.8" cy="1215.8" r="5.2"/><circle cx="400.2" cy="1220.8" r="5.2"/><circle cx="394.8" cy="1222.4" r="5.2"/><circle cx="435.3" cy="1108.7" r="5.2"/><circle cx="424.8" cy="1117.2" r="5.2"/><circle cx="424.8" cy="1139.8" r="5.2"/><circle cx="435.3" cy="1142" r="5.2"/><circle cx="435.3" cy="1156.9" r="5.2"/><circle cx="424.8" cy="1162.3" r="5.2"/><circle cx="424.8" cy="1176.7" r="5.2"/><circle cx="435.3" cy="1180.1" r="5.2"/><circle cx="426.8" cy="1190.4" r="5.2"/><circle cx="432.7" cy="1194" r="5.2"/><circle cx="429.8" cy="1197.6" r="5.2"/><circle cx="447.6" cy="1093.8" r="5.2"/><circle cx="458.1" cy="1093.8" r="5.2"/><circle cx="450.6" cy="1150" r="5.2"/><circle cx="455.6" cy="1149.4" r="5.2"/><circle cx="453" cy="1157.3" r="5.2"/><circle cx="453" cy="1179.1" r="5.2"/><circle cx="447.6" cy="1203.9" r="5.2"/><circle cx="458.1" cy="1205.9" r="5.2"/><circle cx="453" cy="1223.4" r="5.2"/><circle cx="485.7" cy="1173.2" r="5.2"/><circle cx="477.8" cy="1178.1" r="5.2"/><circle cx="493.3" cy="1187.1" r="5.2"/><circle cx="483.3" cy="1188.1" r="5.2"/><circle cx="488.3" cy="1190" r="5.2"/><circle cx="483.3" cy="1194" r="5.2"/><circle cx="488.3" cy="1205.9" r="5.2"/><circle cx="485.3" cy="1207.9" r="5.2"/><circle cx="503.2" cy="1140.4" r="5.2"/><circle cx="513.7" cy="1140.4" r="5.2"/><circle cx="511.1" cy="1176.2" r="5.2"/><circle cx="506.2" cy="1187.1" r="5.2"/><circle cx="508.7" cy="1191" r="5.2"/><circle cx="505.8" cy="1200" r="5.2"/><circle cx="511.1" cy="1200" r="5.2"/><circle cx="508.5" cy="1213.3" r="5.2"/><circle cx="540.9" cy="1131.9" r="5.2"/><circle cx="546.2" cy="1164.2" r="5.2"/><circle cx="535.9" cy="1170.2" r="5.2"/><circle cx="532.9" cy="1179.1" r="5.2"/><circle cx="545.8" cy="1180.1" r="5.2"/><circle cx="538.3" cy="1186.1" r="5.2"/><circle cx="543.5" cy="1191" r="5.2"/><circle cx="538.3" cy="1201.9" r="5.2"/><circle cx="543.5" cy="1202.5" r="5.2"/><circle cx="540.9" cy="1210.5" r="5.2"/><circle cx="563.7" cy="1130.5" r="5.2"/><circle cx="558.7" cy="1155.7" r="5.2"/><circle cx="568.7" cy="1160.7" r="5.2"/><circle cx="571.6" cy="1169.6" r="5.2"/><circle cx="555.8" cy="1174.6" r="5.2"/><circle cx="566.3" cy="1178.5" r="5.2"/><circle cx="560.7" cy="1180.1" r="5.2"/><circle cx="558.1" cy="1194" r="5.2"/><circle cx="569" cy="1203.3" r="5.2"/><circle cx="563.7" cy="1225.4" r="5.2"/><circle cx="599" cy="1178.1" r="5.2"/><circle cx="594.4" cy="1180.7" r="5.2"/><circle cx="589.5" cy="1195" r="5.2"/><circle cx="604.4" cy="1193" r="5.2"/><circle cx="594.4" cy="1199" r="5.2"/><circle cx="599.4" cy="1199" r="5.2"/><circle cx="596.8" cy="1229.1" r="5.2"/><circle cx="596.8" cy="1246.6" r="5.2"/><circle cx="619.2" cy="1152.3" r="5.2"/><circle cx="627.2" cy="1176.2" r="5.2"/><circle cx="611.3" cy="1183.1" r="5.2"/><circle cx="617.3" cy="1184.7" r="5.2"/><circle cx="622.2" cy="1184.1" r="5.2"/><circle cx="614.3" cy="1196" r="5.2"/><circle cx="624.8" cy="1208.9" r="5.2"/><circle cx="624.8" cy="1250" r="5.2"/><circle cx="614.3" cy="1259.9" r="5.2"/><circle cx="649.4" cy="1156.3" r="5.2"/><circle cx="655.4" cy="1156.3" r="5.2"/><circle cx="652" cy="1163.3" r="5.2"/><circle cx="651" cy="1166.2" r="5.2"/><circle cx="644.4" cy="1188.7" r="5.2"/><circle cx="659.9" cy="1186.1" r="5.2"/><circle cx="657.3" cy="1196.4" r="5.2"/><circle cx="647" cy="1199.4" r="5.2"/><circle cx="651" cy="1201" r="5.2"/><circle cx="655" cy="1201.3" r="5.2"/><circle cx="672.4" cy="1152.3" r="5.2"/><circle cx="676.8" cy="1163.3" r="5.2"/><circle cx="674.8" cy="1166.2" r="5.2"/><circle cx="673.8" cy="1171.2" r="5.2"/><circle cx="676.8" cy="1171.2" r="5.2"/><circle cx="674.8" cy="1174.2" r="5.2"/><circle cx="674.8" cy="1184.1" r="5.2"/><circle cx="674.8" cy="1185.1" r="5.2"/><circle cx="674.8" cy="1238.7" r="5.2"/></g>
</g>
<g id="panel-g">
<text font-size="28.5" font-weight="bold" x="13" y="1536.5">g</text>
<text font-size="25.6" text-anchor="middle" x="249.5" y="1533.5">PBS</text>
<text font-size="25.6" text-anchor="middle" x="515.5" y="1533.5">MIA</text>
<text font-size="25.6" text-anchor="middle" x="775.5" y="1533.5">WT</text>
<text font-size="25.6" text-anchor="middle" font-style="italic" x="1045" y="1533.5">Cntnap2</text>
<text font-size="25.6" text-anchor="middle" font-style="italic" x="1324.5" y="1533.5">Fmr1</text>
<path d="M132.3 1545H367M398 1545H633M656.5 1545H900M927.5 1545H1168.5M1202 1545H1441" fill="none" stroke="#3a3a3a" stroke-width="1.5"/>
<rect x="136.2" y="1708.8" width="17.6" height="164.4" fill="#f6fafd" stroke="#222" stroke-width="1.1"/>
<rect x="155.2" y="1851.7" width="17.6" height="21.5" fill="#fff" stroke="#222" stroke-width="1.1"/>
<rect x="174.5" y="1804.5" width="17.6" height="68.7" fill="url(#gk0)"/>
<rect x="174.5" y="1804.5" width="17.6" height="68.7" fill="url(#fdg0)" stroke="#222" stroke-width="1.1"/>
<path d="M145 1701.5V1708.8M140.5 1701.5H149.5" fill="none" stroke="#1a1a1a" stroke-width="1.1"/>
<path d="M164 1849.6V1851.7M159.5 1849.6H168.5" fill="none" stroke="#1a1a1a" stroke-width="1.1"/>
<path d="M183.3 1797.2V1804.5M178.8 1797.2H187.8" fill="none" stroke="#1a1a1a" stroke-width="1.1"/>
<rect x="202.8" y="1712.2" width="17.6" height="161" fill="#f6fafd" stroke="#222" stroke-width="1.1"/>
<rect x="221.8" y="1851.7" width="17.6" height="21.5" fill="#fff" stroke="#222" stroke-width="1.1"/>
<rect x="241.1" y="1798.9" width="17.6" height="74.3" fill="url(#gk0)"/>
<rect x="241.1" y="1798.9" width="17.6" height="74.3" fill="url(#fdg0)" stroke="#222" stroke-width="1.1"/>
<path d="M211.6 1703.2V1712.2M207.1 1703.2H216.1" fill="none" stroke="#1a1a1a" stroke-width="1.1"/>
<path d="M230.6 1849.2V1851.7M226.1 1849.2H235.1" fill="none" stroke="#1a1a1a" stroke-width="1.1"/>
<path d="M249.9 1791.6V1798.9M245.4 1791.6H254.4" fill="none" stroke="#1a1a1a" stroke-width="1.1"/>
<rect x="269.4" y="1710.1" width="17.6" height="163.1" fill="#a8a8a8" stroke="#222" stroke-width="1.1"/>
<rect x="288.4" y="1851.7" width="17.6" height="21.5" fill="#fff" stroke="#222" stroke-width="1.1"/>
<rect x="307.7" y="1802.8" width="17.6" height="70.4" fill="url(#gk1)"/>
<rect x="307.7" y="1802.8" width="17.6" height="70.4" fill="url(#fdg1)" stroke="#222" stroke-width="1.1"/>
<path d="M278.2 1704V1710.1M273.7 1704H282.7" fill="none" stroke="#1a1a1a" stroke-width="1.1"/>
<path d="M297.2 1849.2V1851.7M292.7 1849.2H301.7" fill="none" stroke="#1a1a1a" stroke-width="1.1"/>
<path d="M316.5 1797.2V1802.8M312 1797.2H321" fill="none" stroke="#1a1a1a" stroke-width="1.1"/>
<rect x="335.9" y="1700.6" width="17.6" height="172.6" fill="#a8a8a8" stroke="#222" stroke-width="1.1"/>
<rect x="354.9" y="1853.5" width="17.6" height="19.7" fill="#fff" stroke="#222" stroke-width="1.1"/>
<rect x="374.2" y="1808.8" width="17.6" height="64.4" fill="url(#gk1)"/>
<rect x="374.2" y="1808.8" width="17.6" height="64.4" fill="url(#fdg1)" stroke="#222" stroke-width="1.1"/>
<path d="M344.7 1693.3V1700.6M340.2 1693.3H349.2" fill="none" stroke="#1a1a1a" stroke-width="1.1"/>
<path d="M363.7 1850.9V1853.5M359.2 1850.9H368.2" fill="none" stroke="#1a1a1a" stroke-width="1.1"/>
<path d="M383 1804.5V1808.8M378.5 1804.5H387.5" fill="none" stroke="#1a1a1a" stroke-width="1.1"/>
<rect x="402.5" y="1765" width="17.6" height="108.2" fill="#fbd2c0" stroke="#222" stroke-width="1.1"/>
<rect x="421.5" y="1848.3" width="17.6" height="24.9" fill="#fff" stroke="#222" stroke-width="1.1"/>
<rect x="440.8" y="1750.4" width="17.6" height="122.8" fill="url(#gk2)" stroke="#222" stroke-width="1.1"/>
<path d="M411.3 1757.7V1765M406.8 1757.7H415.8" fill="none" stroke="#1a1a1a" stroke-width="1.1"/>
<path d="M430.3 1846.2V1848.3M425.8 1846.2H434.8" fill="none" stroke="#1a1a1a" stroke-width="1.1"/>
<path d="M449.6 1744.4V1750.4M445.1 1744.4H454.1" fill="none" stroke="#1a1a1a" stroke-width="1.1"/>
<rect x="469.1" y="1752.1" width="17.6" height="121.1" fill="#fbd2c0" stroke="#222" stroke-width="1.1"/>
<rect x="488.1" y="1850" width="17.6" height="23.2" fill="#fff" stroke="#222" stroke-width="1.1"/>
<rect x="507.4" y="1758.4" width="17.6" height="114.8" fill="url(#gk2)" stroke="#222" stroke-width="1.1"/>
<path d="M477.9 1743.5V1752.1M473.4 1743.5H482.4" fill="none" stroke="#1a1a1a" stroke-width="1.1"/>
<path d="M496.9 1847.9V1850M492.4 1847.9H501.4" fill="none" stroke="#1a1a1a" stroke-width="1.1"/>
<path d="M516.2 1751.5V1758.4M511.7 1751.5H520.7" fill="none" stroke="#1a1a1a" stroke-width="1.1"/>
<rect x="535.7" y="1757.3" width="17.6" height="115.9" fill="#fb2a0c" stroke="#222" stroke-width="1.1"/>
<rect x="554.7" y="1848.3" width="17.6" height="24.9" fill="#fff" stroke="#222" stroke-width="1.1"/>
<rect x="574" y="1758.1" width="17.6" height="115.1" fill="url(#gk3)" stroke="#222" stroke-width="1.1"/>
<path d="M544.5 1747V1757.3M540 1747H549" fill="none" stroke="#1a1a1a" stroke-width="1.1"/>
<path d="M563.5 1845.7V1848.3M559 1845.7H568" fill="none" stroke="#1a1a1a" stroke-width="1.1"/>
<path d="M582.8 1748.7V1758.1M578.3 1748.7H587.3" fill="none" stroke="#1a1a1a" stroke-width="1.1"/>
<rect x="602.3" y="1725.1" width="17.6" height="148.1" fill="#fb2a0c" stroke="#222" stroke-width="1.1"/>
<rect x="621.3" y="1849.2" width="17.6" height="24" fill="#fff" stroke="#222" stroke-width="1.1"/>
<rect x="640.6" y="1789.1" width="17.6" height="84.1" fill="url(#gk3)" stroke="#222" stroke-width="1.1"/>
<path d="M611.1 1715.6V1725.1M606.6 1715.6H615.6" fill="none" stroke="#1a1a1a" stroke-width="1.1"/>
<path d="M630.1 1846.2V1849.2M625.6 1846.2H634.6" fill="none" stroke="#1a1a1a" stroke-width="1.1"/>
<path d="M649.4 1780.9V1789.1M644.9 1780.9H653.9" fill="none" stroke="#1a1a1a" stroke-width="1.1"/>
<rect x="668.8" y="1727.4" width="17.6" height="145.8" fill="#f0d5e5" stroke="#222" stroke-width="1.1"/>
<rect x="687.8" y="1836.7" width="17.6" height="36.5" fill="#fff" stroke="#222" stroke-width="1.1"/>
<rect x="707.1" y="1799.4" width="17.6" height="73.8" fill="url(#gk4)"/>
<rect x="707.1" y="1799.4" width="17.6" height="73.8" fill="url(#fdg4)" stroke="#222" stroke-width="1.1"/>
<path d="M677.6 1721V1727.4M673.1 1721H682.1" fill="none" stroke="#1a1a1a" stroke-width="1.1"/>
<path d="M696.6 1833.3V1836.7M692.1 1833.3H701.1" fill="none" stroke="#1a1a1a" stroke-width="1.1"/>
<path d="M715.9 1795.5V1799.4M711.4 1795.5H720.4" fill="none" stroke="#1a1a1a" stroke-width="1.1"/>
<rect x="735.4" y="1725.9" width="17.6" height="147.3" fill="#f0d5e5" stroke="#222" stroke-width="1.1"/>
<rect x="754.4" y="1835.6" width="17.6" height="37.6" fill="#fff" stroke="#222" stroke-width="1.1"/>
<rect x="773.7" y="1804.7" width="17.6" height="68.5" fill="url(#gk4)"/>
<rect x="773.7" y="1804.7" width="17.6" height="68.5" fill="url(#fdg4)" stroke="#222" stroke-width="1.1"/>
<path d="M744.2 1717.8V1725.9M739.7 1717.8H748.7" fill="none" stroke="#1a1a1a" stroke-width="1.1"/>
<path d="M763.2 1831.3V1835.6M758.7 1831.3H767.7" fill="none" stroke="#1a1a1a" stroke-width="1.1"/>
<path d="M782.5 1799.1V1804.7M778 1799.1H787" fill="none" stroke="#1a1a1a" stroke-width="1.1"/>
<rect x="802" y="1720.4" width="17.6" height="152.8" fill="#a7278f" stroke="#222" stroke-width="1.1"/>
<rect x="821" y="1836.7" width="17.6" height="36.5" fill="#fff" stroke="#222" stroke-width="1.1"/>
<rect x="840.3" y="1807.5" width="17.6" height="65.7" fill="url(#gk5)" stroke="#222" stroke-width="1.1"/>
<path d="M810.8 1712.6V1720.4M806.3 1712.6H815.3" fill="none" stroke="#1a1a1a" stroke-width="1.1"/>
<path d="M829.8 1833.3V1836.7M825.3 1833.3H834.3" fill="none" stroke="#1a1a1a" stroke-width="1.1"/>
<path d="M849.1 1803.2V1807.5M844.6 1803.2H853.6" fill="none" stroke="#1a1a1a" stroke-width="1.1"/>
<rect x="868.6" y="1722.1" width="17.6" height="151.1" fill="#a7278f" stroke="#222" stroke-width="1.1"/>
<rect x="887.6" y="1835.6" width="17.6" height="37.6" fill="#fff" stroke="#222" stroke-width="1.1"/>
<rect x="906.9" y="1807.5" width="17.6" height="65.7" fill="url(#gk5)" stroke="#222" stroke-width="1.1"/>
<path d="M877.4 1711.3V1722.1M872.9 1711.3H881.9" fill="none" stroke="#1a1a1a" stroke-width="1.1"/>
<path d="M896.4 1831.8V1835.6M891.9 1831.8H900.9" fill="none" stroke="#1a1a1a" stroke-width="1.1"/>
<path d="M915.7 1800.6V1807.5M911.2 1800.6H920.2" fill="none" stroke="#1a1a1a" stroke-width="1.1"/>
<rect x="935.2" y="1773.2" width="17.6" height="100" fill="#e1c5e1" stroke="#222" stroke-width="1.1"/>
<rect x="954.2" y="1831.1" width="17.6" height="42.1" fill="#fff" stroke="#222" stroke-width="1.1"/>
<rect x="973.5" y="1759.9" width="17.6" height="113.3" fill="url(#gk6)" stroke="#222" stroke-width="1.1"/>
<path d="M944 1765V1773.2M939.5 1765H948.5" fill="none" stroke="#1a1a1a" stroke-width="1.1"/>
<path d="M963 1827.7V1831.1M958.5 1827.7H967.5" fill="none" stroke="#1a1a1a" stroke-width="1.1"/>
<path d="M982.3 1753.4V1759.9M977.8 1753.4H986.8" fill="none" stroke="#1a1a1a" stroke-width="1.1"/>
<rect x="1001.7" y="1758.6" width="17.6" height="114.6" fill="#e1c5e1" stroke="#222" stroke-width="1.1"/>
<rect x="1020.7" y="1832" width="17.6" height="41.2" fill="#fff" stroke="#222" stroke-width="1.1"/>
<rect x="1040" y="1776.6" width="17.6" height="96.6" fill="url(#gk6)" stroke="#222" stroke-width="1.1"/>
<path d="M1010.5 1752.1V1758.6M1006 1752.1H1015" fill="none" stroke="#1a1a1a" stroke-width="1.1"/>
<path d="M1029.5 1826.8V1832M1025 1826.8H1034" fill="none" stroke="#1a1a1a" stroke-width="1.1"/>
<path d="M1048.8 1771.4V1776.6M1044.3 1771.4H1053.3" fill="none" stroke="#1a1a1a" stroke-width="1.1"/>
<rect x="1068.3" y="1773.6" width="17.6" height="99.6" fill="#62297f" stroke="#222" stroke-width="1.1"/>
<rect x="1087.3" y="1836.7" width="17.6" height="36.5" fill="#fff" stroke="#222" stroke-width="1.1"/>
<rect x="1106.6" y="1754.7" width="17.6" height="118.5" fill="url(#gk7)" stroke="#222" stroke-width="1.1"/>
<path d="M1077.1 1770.2V1773.6M1072.6 1770.2H1081.6" fill="none" stroke="#1a1a1a" stroke-width="1.1"/>
<path d="M1096.1 1834.1V1836.7M1091.6 1834.1H1100.6" fill="none" stroke="#1a1a1a" stroke-width="1.1"/>
<path d="M1115.4 1748.3V1754.7M1110.9 1748.3H1119.9" fill="none" stroke="#1a1a1a" stroke-width="1.1"/>
<rect x="1134.9" y="1747" width="17.6" height="126.2" fill="#62297f" stroke="#222" stroke-width="1.1"/>
<rect x="1153.9" y="1841" width="17.6" height="32.2" fill="#fff" stroke="#222" stroke-width="1.1"/>
<rect x="1173.2" y="1776.6" width="17.6" height="96.6" fill="url(#gk7)" stroke="#222" stroke-width="1.1"/>
<path d="M1143.7 1740.1V1747M1139.2 1740.1H1148.2" fill="none" stroke="#1a1a1a" stroke-width="1.1"/>
<path d="M1162.7 1835V1841M1158.2 1835H1167.2" fill="none" stroke="#1a1a1a" stroke-width="1.1"/>
<path d="M1182 1771.4V1776.6M1177.5 1771.4H1186.5" fill="none" stroke="#1a1a1a" stroke-width="1.1"/>
<rect x="1201.5" y="1761.6" width="17.6" height="111.6" fill="#d6e7f3" stroke="#222" stroke-width="1.1"/>
<rect x="1220.5" y="1835.6" width="17.6" height="37.6" fill="#fff" stroke="#222" stroke-width="1.1"/>
<rect x="1239.8" y="1767.2" width="17.6" height="106" fill="url(#gk8)" stroke="#222" stroke-width="1.1"/>
<path d="M1210.3 1747.8V1761.6M1205.8 1747.8H1214.8" fill="none" stroke="#1a1a1a" stroke-width="1.1"/>
<path d="M1229.3 1833.5V1835.6M1224.8 1833.5H1233.8" fill="none" stroke="#1a1a1a" stroke-width="1.1"/>
<path d="M1248.6 1754.3V1767.2M1244.1 1754.3H1253.1" fill="none" stroke="#1a1a1a" stroke-width="1.1"/>
<rect x="1268.1" y="1758.6" width="17.6" height="114.6" fill="#d6e7f3" stroke="#222" stroke-width="1.1"/>
<rect x="1287.1" y="1830.3" width="17.6" height="42.9" fill="#fff" stroke="#222" stroke-width="1.1"/>
<rect x="1306.4" y="1773.2" width="17.6" height="100" fill="url(#gk8)" stroke="#222" stroke-width="1.1"/>
<path d="M1276.9 1750V1758.6M1272.4 1750H1281.4" fill="none" stroke="#1a1a1a" stroke-width="1.1"/>
<path d="M1295.9 1826.8V1830.3M1291.4 1826.8H1300.4" fill="none" stroke="#1a1a1a" stroke-width="1.1"/>
<path d="M1315.2 1765.9V1773.2M1310.7 1765.9H1319.7" fill="none" stroke="#1a1a1a" stroke-width="1.1"/>
<rect x="1334.6" y="1756.4" width="17.6" height="116.8" fill="#3a80b9" stroke="#222" stroke-width="1.1"/>
<rect x="1353.6" y="1826.8" width="17.6" height="46.4" fill="#fff" stroke="#222" stroke-width="1.1"/>
<rect x="1372.9" y="1778.7" width="17.6" height="94.5" fill="url(#gk9)" stroke="#222" stroke-width="1.1"/>
<path d="M1343.4 1748.7V1756.4M1338.9 1748.7H1347.9" fill="none" stroke="#1a1a1a" stroke-width="1.1"/>
<path d="M1362.4 1823.4V1826.8M1357.9 1823.4H1366.9" fill="none" stroke="#1a1a1a" stroke-width="1.1"/>
<path d="M1381.7 1772.7V1778.7M1377.2 1772.7H1386.2" fill="none" stroke="#1a1a1a" stroke-width="1.1"/>
<rect x="1401.2" y="1731.1" width="17.6" height="142.1" fill="#3a80b9" stroke="#222" stroke-width="1.1"/>
<rect x="1420.2" y="1839.3" width="17.6" height="33.9" fill="#fff" stroke="#222" stroke-width="1.1"/>
<rect x="1439.5" y="1794.6" width="17.6" height="78.6" fill="url(#gk9)" stroke="#222" stroke-width="1.1"/>
<path d="M1410 1719.9V1731.1M1405.5 1719.9H1414.5" fill="none" stroke="#1a1a1a" stroke-width="1.1"/>
<path d="M1429 1835.8V1839.3M1424.5 1835.8H1433.5" fill="none" stroke="#1a1a1a" stroke-width="1.1"/>
<path d="M1448.3 1786.9V1794.6M1443.8 1786.9H1452.8" fill="none" stroke="#1a1a1a" stroke-width="1.1"/>
<path d="M128.6 1615.1V1873.2M114.5 1873.2H128.6M114.5 1787.3H128.6M114.5 1701.5H128.6M114.5 1615.6H128.6" fill="none" stroke="#222" stroke-width="1.1"/>
<text font-size="24.6" text-anchor="end" x="107.6" y="1882">0</text>
<text font-size="24.6" text-anchor="end" x="107.6" y="1796.1">200</text>
<text font-size="24.6" text-anchor="end" x="107.6" y="1710.3">400</text>
<text font-size="24.6" text-anchor="end" x="107.6" y="1624.4">600</text>
<path d="M111.3 1873.2H1463.8" fill="none" stroke="#222" stroke-width="1.1"/>
<path d="M144.6 1873.2V1886.8M164.4 1873.2V1886.8M183.5 1873.2V1886.8M211.2 1873.2V1886.8M231 1873.2V1886.8M250.1 1873.2V1886.8M277.8 1873.2V1886.8M297.6 1873.2V1886.8M316.7 1873.2V1886.8M344.3 1873.2V1886.8M364.1 1873.2V1886.8M383.2 1873.2V1886.8M410.9 1873.2V1886.8M430.7 1873.2V1886.8M449.8 1873.2V1886.8M477.5 1873.2V1886.8M497.3 1873.2V1886.8M516.4 1873.2V1886.8M544.1 1873.2V1886.8M563.9 1873.2V1886.8M583 1873.2V1886.8M610.7 1873.2V1886.8M630.5 1873.2V1886.8M649.6 1873.2V1886.8M677.2 1873.2V1886.8M697 1873.2V1886.8M716.1 1873.2V1886.8M743.8 1873.2V1886.8M763.6 1873.2V1886.8M782.7 1873.2V1886.8M810.4 1873.2V1886.8M830.2 1873.2V1886.8M849.3 1873.2V1886.8M877 1873.2V1886.8M896.8 1873.2V1886.8M915.9 1873.2V1886.8M943.6 1873.2V1886.8M963.4 1873.2V1886.8M982.5 1873.2V1886.8M1010.1 1873.2V1886.8M1029.9 1873.2V1886.8M1049 1873.2V1886.8M1076.7 1873.2V1886.8M1096.5 1873.2V1886.8M1115.6 1873.2V1886.8M1143.3 1873.2V1886.8M1163.1 1873.2V1886.8M1182.2 1873.2V1886.8M1209.9 1873.2V1886.8M1229.7 1873.2V1886.8M1248.8 1873.2V1886.8M1276.5 1873.2V1886.8M1296.3 1873.2V1886.8M1315.4 1873.2V1886.8M1343 1873.2V1886.8M1362.8 1873.2V1886.8M1381.9 1873.2V1886.8M1409.6 1873.2V1886.8M1429.4 1873.2V1886.8M1448.5 1873.2V1886.8" fill="none" stroke="#222" stroke-width="1.1"/>
<path d="M132.2 1921.9H1463.8M132.2 1954.2H1463.8M132.2 1987H1463.8M132.2 2019.8H1463.8M132.2 1873.2V2019.8M198.8 1873.2V1954.2M265.4 1873.2V2019.8M331.9 1873.2V1954.2M398.5 1873.2V2019.8M465.1 1873.2V1954.2M531.7 1873.2V2019.8M598.3 1873.2V1954.2M664.8 1873.2V2019.8M731.4 1873.2V1954.2M798 1873.2V2019.8M864.6 1873.2V1954.2M931.2 1873.2V2019.8M997.7 1873.2V1954.2M1064.3 1873.2V2019.8M1130.9 1873.2V1954.2M1197.5 1873.2V2019.8M1264.1 1873.2V1954.2M1330.6 1873.2V2019.8M1397.2 1873.2V1954.2M1463.8 1873.2V2019.8" fill="none" stroke="#222" stroke-width="1.1"/>
<text font-size="25.5" text-anchor="middle" x="144.6" y="1913.2">S</text>
<text font-size="25.5" text-anchor="middle" x="164.8" y="1913.2">C</text>
<text font-size="25.5" text-anchor="middle" x="183.4" y="1913.2">I</text>
<text font-size="25.6" text-anchor="middle" x="164.5" y="1945.8">Pre</text>
<text font-size="25.5" text-anchor="middle" x="211.2" y="1913.2">S</text>
<text font-size="25.5" text-anchor="middle" x="231.4" y="1913.2">C</text>
<text font-size="25.5" text-anchor="middle" x="250" y="1913.2">I</text>
<text font-size="25.6" text-anchor="middle" x="231.5" y="1945.8">Test</text>
<text font-size="25.5" text-anchor="middle" x="277.8" y="1913.2">S</text>
<text font-size="25.5" text-anchor="middle" x="298" y="1913.2">C</text>
<text font-size="25.5" text-anchor="middle" x="316.6" y="1913.2">I</text>
<text font-size="25.6" text-anchor="middle" x="297.7" y="1945.8">Pre</text>
<text font-size="25.5" text-anchor="middle" x="344.3" y="1913.2">S</text>
<text font-size="25.5" text-anchor="middle" x="364.5" y="1913.2">C</text>
<text font-size="25.5" text-anchor="middle" x="383.1" y="1913.2">I</text>
<text font-size="25.6" text-anchor="middle" x="364.6" y="1945.8">Test</text>
<text font-size="25.5" text-anchor="middle" x="410.9" y="1913.2">S</text>
<text font-size="25.5" text-anchor="middle" x="431.1" y="1913.2">C</text>
<text font-size="25.5" text-anchor="middle" x="449.7" y="1913.2">I</text>
<text font-size="25.6" text-anchor="middle" x="430.8" y="1945.8">Pre</text>
<text font-size="25.5" text-anchor="middle" x="477.5" y="1913.2">S</text>
<text font-size="25.5" text-anchor="middle" x="497.7" y="1913.2">C</text>
<text font-size="25.5" text-anchor="middle" x="516.3" y="1913.2">I</text>
<text font-size="25.6" text-anchor="middle" x="497.8" y="1945.8">Test</text>
<text font-size="25.5" text-anchor="middle" x="544.1" y="1913.2">S</text>
<text font-size="25.5" text-anchor="middle" x="564.3" y="1913.2">C</text>
<text font-size="25.5" text-anchor="middle" x="582.9" y="1913.2">I</text>
<text font-size="25.6" text-anchor="middle" x="564" y="1945.8">Pre</text>
<text font-size="25.5" text-anchor="middle" x="610.7" y="1913.2">S</text>
<text font-size="25.5" text-anchor="middle" x="630.9" y="1913.2">C</text>
<text font-size="25.5" text-anchor="middle" x="649.5" y="1913.2">I</text>
<text font-size="25.6" text-anchor="middle" x="630.9" y="1945.8">Test</text>
<text font-size="25.5" text-anchor="middle" x="677.2" y="1913.2">S</text>
<text font-size="25.5" text-anchor="middle" x="697.4" y="1913.2">C</text>
<text font-size="25.5" text-anchor="middle" x="716" y="1913.2">I</text>
<text font-size="25.6" text-anchor="middle" x="697.1" y="1945.8">Pre</text>
<text font-size="25.5" text-anchor="middle" x="743.8" y="1913.2">S</text>
<text font-size="25.5" text-anchor="middle" x="764" y="1913.2">C</text>
<text font-size="25.5" text-anchor="middle" x="782.6" y="1913.2">I</text>
<text font-size="25.6" text-anchor="middle" x="764.1" y="1945.8">Test</text>
<text font-size="25.5" text-anchor="middle" x="810.4" y="1913.2">S</text>
<text font-size="25.5" text-anchor="middle" x="830.6" y="1913.2">C</text>
<text font-size="25.5" text-anchor="middle" x="849.2" y="1913.2">I</text>
<text font-size="25.6" text-anchor="middle" x="830.3" y="1945.8">Pre</text>
<text font-size="25.5" text-anchor="middle" x="877" y="1913.2">S</text>
<text font-size="25.5" text-anchor="middle" x="897.2" y="1913.2">C</text>
<text font-size="25.5" text-anchor="middle" x="915.8" y="1913.2">I</text>
<text font-size="25.6" text-anchor="middle" x="897.3" y="1945.8">Test</text>
<text font-size="25.5" text-anchor="middle" x="943.6" y="1913.2">S</text>
<text font-size="25.5" text-anchor="middle" x="963.8" y="1913.2">C</text>
<text font-size="25.5" text-anchor="middle" x="982.4" y="1913.2">I</text>
<text font-size="25.6" text-anchor="middle" x="963.5" y="1945.8">Pre</text>
<text font-size="25.5" text-anchor="middle" x="1010.1" y="1913.2">S</text>
<text font-size="25.5" text-anchor="middle" x="1030.3" y="1913.2">C</text>
<text font-size="25.5" text-anchor="middle" x="1048.9" y="1913.2">I</text>
<text font-size="25.6" text-anchor="middle" x="1030.4" y="1945.8">Test</text>
<text font-size="25.5" text-anchor="middle" x="1076.7" y="1913.2">S</text>
<text font-size="25.5" text-anchor="middle" x="1096.9" y="1913.2">C</text>
<text font-size="25.5" text-anchor="middle" x="1115.5" y="1913.2">I</text>
<text font-size="25.6" text-anchor="middle" x="1096.6" y="1945.8">Pre</text>
<text font-size="25.5" text-anchor="middle" x="1143.3" y="1913.2">S</text>
<text font-size="25.5" text-anchor="middle" x="1163.5" y="1913.2">C</text>
<text font-size="25.5" text-anchor="middle" x="1182.1" y="1913.2">I</text>
<text font-size="25.6" text-anchor="middle" x="1163.6" y="1945.8">Test</text>
<text font-size="25.5" text-anchor="middle" x="1209.9" y="1913.2">S</text>
<text font-size="25.5" text-anchor="middle" x="1230.1" y="1913.2">C</text>
<text font-size="25.5" text-anchor="middle" x="1248.7" y="1913.2">I</text>
<text font-size="25.6" text-anchor="middle" x="1229.8" y="1945.8">Pre</text>
<text font-size="25.5" text-anchor="middle" x="1276.5" y="1913.2">S</text>
<text font-size="25.5" text-anchor="middle" x="1296.7" y="1913.2">C</text>
<text font-size="25.5" text-anchor="middle" x="1315.3" y="1913.2">I</text>
<text font-size="25.6" text-anchor="middle" x="1296.8" y="1945.8">Test</text>
<text font-size="25.5" text-anchor="middle" x="1343" y="1913.2">S</text>
<text font-size="25.5" text-anchor="middle" x="1363.2" y="1913.2">C</text>
<text font-size="25.5" text-anchor="middle" x="1381.8" y="1913.2">I</text>
<text font-size="25.6" text-anchor="middle" x="1362.9" y="1945.8">Pre</text>
<text font-size="25.5" text-anchor="middle" x="1409.6" y="1913.2">S</text>
<text font-size="25.5" text-anchor="middle" x="1429.8" y="1913.2">C</text>
<text font-size="25.5" text-anchor="middle" x="1448.4" y="1913.2">I</text>
<text font-size="25.6" text-anchor="middle" x="1429.9" y="1945.8">Test</text>
<text font-size="39.5" text-anchor="middle" x="197.6" y="1984.9">+</text>
<text font-size="39.5" text-anchor="middle" x="197.6" y="2015.3">-</text>
<text font-size="39.5" text-anchor="middle" x="330.7" y="1982.2">-</text>
<text font-size="39.5" text-anchor="middle" x="330.7" y="2018">+</text>
<text font-size="39.5" text-anchor="middle" x="463.9" y="1984.9">+</text>
<text font-size="39.5" text-anchor="middle" x="463.9" y="2015.3">-</text>
<text font-size="39.5" text-anchor="middle" x="597.1" y="1982.2">-</text>
<text font-size="39.5" text-anchor="middle" x="597.1" y="2018">+</text>
<text font-size="39.5" text-anchor="middle" x="730.2" y="1984.9">+</text>
<text font-size="39.5" text-anchor="middle" x="730.2" y="2015.3">-</text>
<text font-size="39.5" text-anchor="middle" x="863.4" y="1982.2">-</text>
<text font-size="39.5" text-anchor="middle" x="863.4" y="2018">+</text>
<text font-size="39.5" text-anchor="middle" x="996.5" y="1984.9">+</text>
<text font-size="39.5" text-anchor="middle" x="996.5" y="2015.3">-</text>
<text font-size="39.5" text-anchor="middle" x="1129.7" y="1982.2">-</text>
<text font-size="39.5" text-anchor="middle" x="1129.7" y="2018">+</text>
<text font-size="39.5" text-anchor="middle" x="1262.9" y="1984.9">+</text>
<text font-size="39.5" text-anchor="middle" x="1262.9" y="2015.3">-</text>
<text font-size="39.5" text-anchor="middle" x="1396" y="1982.2">-</text>
<text font-size="39.5" text-anchor="middle" x="1396" y="2018">+</text>
<text font-size="25.8" text-anchor="end" x="122.3" y="1978.1">Veh</text>
<text font-size="25.8" text-anchor="end" letter-spacing="0.6" x="122.6" y="2014.8">IL-17a</text>
<text font-size="26.1" text-anchor="middle" transform="translate(44.5 1752.5) rotate(-90)">Chamber Time (s)</text>
<path d="M147.2 1639.2V1623.2H162.8V1745.9" fill="none" stroke="#222" stroke-width="1.1"/>
<text font-size="14.1" transform="translate(142.9 1621.8) rotate(-30)">&lt;.0001</text>
<path d="M138.5 1639.2V1584.2H182.3V1722.4" fill="none" stroke="#222" stroke-width="1.1"/>
<text font-size="14.1" transform="translate(141.5 1582.9) rotate(-30)">&lt;.0001</text>
<path d="M215.6 1639.2V1623.2H231.2V1745.9" fill="none" stroke="#222" stroke-width="1.1"/>
<text font-size="14.1" transform="translate(211.3 1621.8) rotate(-30)">&lt;.0001</text>
<path d="M206.9 1639.2V1584.2H250.7V1722.4" fill="none" stroke="#222" stroke-width="1.1"/>
<text font-size="14.1" transform="translate(209.9 1582.9) rotate(-30)">&lt;.0001</text>
<path d="M279.4 1639.2V1623.2H295V1745.9" fill="none" stroke="#222" stroke-width="1.1"/>
<text font-size="14.1" transform="translate(275.1 1621.8) rotate(-30)">&lt;.0001</text>
<path d="M270.7 1639.2V1584.2H314.5V1722.4" fill="none" stroke="#222" stroke-width="1.1"/>
<text font-size="14.1" transform="translate(273.7 1582.9) rotate(-30)">&lt;.0001</text>
<path d="M347.7 1639.2V1623.2H363.3V1745.9" fill="none" stroke="#222" stroke-width="1.1"/>
<text font-size="14.1" transform="translate(343.4 1621.8) rotate(-30)">&lt;.0001</text>
<path d="M339 1639.2V1584.2H382.8V1722.4" fill="none" stroke="#222" stroke-width="1.1"/>
<text font-size="14.1" transform="translate(342 1582.9) rotate(-30)">&lt;.0001</text>
<path d="M416 1639.2V1623.2H431.6V1745.9" fill="none" stroke="#222" stroke-width="1.1"/>
<text font-size="14.1" transform="translate(409.7 1621.8) rotate(-30)">&lt;.0001</text>
<path d="M484.4 1639.2V1623.2H500V1745.9" fill="none" stroke="#222" stroke-width="1.1"/>
<text font-size="14.1" transform="translate(478.1 1621.8) rotate(-30)">&lt;.0001</text>
<path d="M548 1639.2V1623.2H563.6V1745.9" fill="none" stroke="#222" stroke-width="1.1"/>
<text font-size="14.1" transform="translate(541.7 1621.8) rotate(-30)">&lt;.0001</text>
<path d="M615.7 1639.2V1623.2H631.3V1745.9" fill="none" stroke="#222" stroke-width="1.1"/>
<text font-size="14.1" transform="translate(611.4 1621.8) rotate(-30)">&lt;.0001</text>
<path d="M607 1639.2V1584.2H650.8V1722.4" fill="none" stroke="#222" stroke-width="1.1"/>
<text font-size="14.1" transform="translate(610 1582.9) rotate(-30)">&lt;.0001</text>
<path d="M679.8 1639.2V1623.2H695.4V1745.9" fill="none" stroke="#222" stroke-width="1.1"/>
<text font-size="14.1" transform="translate(675.5 1621.8) rotate(-30)">&lt;.0001</text>
<path d="M671.1 1639.2V1584.2H714.9V1722.4" fill="none" stroke="#222" stroke-width="1.1"/>
<text font-size="14.1" transform="translate(674.1 1582.9) rotate(-30)">&lt;.0001</text>
<path d="M747.1 1639.2V1623.2H762.7V1745.9" fill="none" stroke="#222" stroke-width="1.1"/>
<text font-size="14.1" transform="translate(742.8 1621.8) rotate(-30)">&lt;.0001</text>
<path d="M738.4 1639.2V1584.2H782.2V1722.4" fill="none" stroke="#222" stroke-width="1.1"/>
<text font-size="14.1" transform="translate(741.4 1582.9) rotate(-30)">&lt;.0001</text>
<path d="M811.2 1639.2V1623.2H826.8V1745.9" fill="none" stroke="#222" stroke-width="1.1"/>
<text font-size="14.1" transform="translate(806.9 1621.8) rotate(-30)">&lt;.0001</text>
<path d="M802.5 1639.2V1584.2H846.3V1722.4" fill="none" stroke="#222" stroke-width="1.1"/>
<text font-size="14.1" transform="translate(805.5 1582.9) rotate(-30)">&lt;.0001</text>
<path d="M879.2 1639.2V1623.2H894.8V1745.9" fill="none" stroke="#222" stroke-width="1.1"/>
<text font-size="14.1" transform="translate(874.9 1621.8) rotate(-30)">&lt;.0001</text>
<path d="M870.5 1639.2V1584.2H914.3V1722.4" fill="none" stroke="#222" stroke-width="1.1"/>
<text font-size="14.1" transform="translate(873.5 1582.9) rotate(-30)">&lt;.0001</text>
<path d="M947.9 1639.2V1623.2H963.5V1745.9" fill="none" stroke="#222" stroke-width="1.1"/>
<text font-size="14.1" transform="translate(941.6 1621.8) rotate(-30)">&lt;.0001</text>
<path d="M1015.2 1639.2V1623.2H1030.8V1745.9" fill="none" stroke="#222" stroke-width="1.1"/>
<text font-size="14.1" transform="translate(1008.9 1621.8) rotate(-30)">&lt;.0001</text>
<path d="M1078.9 1639.2V1623.2H1094.5V1745.9" fill="none" stroke="#222" stroke-width="1.1"/>
<text font-size="14.1" transform="translate(1072.6 1621.8) rotate(-30)">&lt;.0001</text>
<path d="M1146.5 1639.2V1623.2H1162.1V1745.9" fill="none" stroke="#222" stroke-width="1.1"/>
<text font-size="14.1" transform="translate(1142.2 1621.8) rotate(-30)">&lt;.0001</text>
<path d="M1137.8 1639.2V1584.2H1181.6V1722.4" fill="none" stroke="#222" stroke-width="1.1"/>
<text font-size="14.1" transform="translate(1140.4 1580.4) rotate(-30)">.0034</text>
<path d="M1211 1639.2V1623.2H1226.6V1745.9" fill="none" stroke="#222" stroke-width="1.1"/>
<text font-size="14.1" transform="translate(1204.7 1621.8) rotate(-30)">&lt;.0001</text>
<path d="M1279.7 1639.2V1623.2H1295.3V1745.9" fill="none" stroke="#222" stroke-width="1.1"/>
<text font-size="14.1" transform="translate(1273.4 1621.8) rotate(-30)">&lt;.0001</text>
<path d="M1347 1639.2V1623.2H1362.6V1745.9" fill="none" stroke="#222" stroke-width="1.1"/>
<text font-size="14.1" transform="translate(1342.7 1621.8) rotate(-30)">&lt;.0001</text>
<path d="M1338.3 1639.2V1584.2H1382.1V1693" fill="none" stroke="#222" stroke-width="1.1"/>
<text font-size="14.1" transform="translate(1340.9 1580.4) rotate(-30)">.0098</text>
<path d="M1414.6 1639.2V1623.2H1430.2V1745.9" fill="none" stroke="#222" stroke-width="1.1"/>
<text font-size="14.1" transform="translate(1410.3 1621.8) rotate(-30)">&lt;.0001</text>
<path d="M1405.9 1639.2V1584.2H1449.7V1693" fill="none" stroke="#222" stroke-width="1.1"/>
<text font-size="14.1" transform="translate(1408.9 1582.9) rotate(-30)">&lt;.0001</text>
<g fill="none" stroke="#111" stroke-width="1.2"><circle cx="137.5" cy="1665.4" r="5.2"/><circle cx="149.1" cy="1676.2" r="5.2"/><circle cx="137.1" cy="1701.2" r="5.2"/><circle cx="152.7" cy="1699.8" r="5.2"/><circle cx="142.9" cy="1708.8" r="5.2"/><circle cx="147.3" cy="1708.8" r="5.2"/><circle cx="141.1" cy="1711.4" r="5.2"/><circle cx="145" cy="1713.2" r="5.2"/><circle cx="144.6" cy="1727.5" r="5.2"/><circle cx="152.7" cy="1731.1" r="5.2"/><circle cx="140.7" cy="1743.6" r="5.2"/><circle cx="156.2" cy="1837.9" r="5.2"/><circle cx="168.4" cy="1840.9" r="5.2"/><circle cx="160.7" cy="1846.2" r="5.2"/><circle cx="163.4" cy="1851.6" r="5.2"/><circle cx="166.1" cy="1852.5" r="5.2"/><circle cx="161.6" cy="1855.2" r="5.2"/><circle cx="164.3" cy="1857" r="5.2"/><circle cx="163.4" cy="1858.8" r="5.2"/><circle cx="165.2" cy="1860.5" r="5.2"/><circle cx="175.5" cy="1779.6" r="5.2"/><circle cx="187.5" cy="1782" r="5.2"/><circle cx="182.1" cy="1790" r="5.2"/><circle cx="184.8" cy="1795.4" r="5.2"/><circle cx="183" cy="1797.1" r="5.2"/><circle cx="183.9" cy="1798.9" r="5.2"/><circle cx="175" cy="1814.1" r="5.2"/><circle cx="187.5" cy="1822.5" r="5.2"/><circle cx="191.1" cy="1829.3" r="5.2"/><circle cx="178.6" cy="1842.3" r="5.2"/><circle cx="211.6" cy="1647.7" r="5.2"/><circle cx="211.6" cy="1673.9" r="5.2"/><circle cx="206.8" cy="1708.8" r="5.2"/><circle cx="219.3" cy="1708.2" r="5.2"/><circle cx="210.7" cy="1717.7" r="5.2"/><circle cx="209.8" cy="1727.5" r="5.2"/><circle cx="212.5" cy="1728.4" r="5.2"/><circle cx="219.1" cy="1732" r="5.2"/><circle cx="207.1" cy="1746.8" r="5.2"/><circle cx="230.4" cy="1827.5" r="5.2"/><circle cx="222.9" cy="1846.2" r="5.2"/><circle cx="232.1" cy="1847.1" r="5.2"/><circle cx="238.4" cy="1847.1" r="5.2"/><circle cx="227.7" cy="1848.9" r="5.2"/><circle cx="233.9" cy="1852.5" r="5.2"/><circle cx="222.9" cy="1860.5" r="5.2"/><circle cx="229.5" cy="1861.4" r="5.2"/><circle cx="236.6" cy="1860.5" r="5.2"/><circle cx="239.3" cy="1858.8" r="5.2"/><circle cx="230.4" cy="1864.1" r="5.2"/><circle cx="245.5" cy="1770.4" r="5.2"/><circle cx="257.5" cy="1768.6" r="5.2"/><circle cx="242" cy="1782.3" r="5.2"/><circle cx="257.5" cy="1786.4" r="5.2"/><circle cx="247.3" cy="1787.3" r="5.2"/><circle cx="251.8" cy="1791.8" r="5.2"/><circle cx="258" cy="1794.5" r="5.2"/><circle cx="245.5" cy="1808.2" r="5.2"/><circle cx="242" cy="1820" r="5.2"/><circle cx="253.9" cy="1828" r="5.2"/><circle cx="249.5" cy="1852.1" r="5.2"/><circle cx="278.2" cy="1677.5" r="5.2"/><circle cx="286.6" cy="1686.8" r="5.2"/><circle cx="270.5" cy="1690.4" r="5.2"/><circle cx="275.9" cy="1693.6" r="5.2"/><circle cx="280.4" cy="1694.5" r="5.2"/><circle cx="278.2" cy="1713.2" r="5.2"/><circle cx="277.7" cy="1723" r="5.2"/><circle cx="278.2" cy="1724.3" r="5.2"/><circle cx="285.7" cy="1737.3" r="5.2"/><circle cx="274.1" cy="1742.7" r="5.2"/><circle cx="289.3" cy="1834.6" r="5.2"/><circle cx="293.8" cy="1843.6" r="5.2"/><circle cx="300.9" cy="1842.7" r="5.2"/><circle cx="305.4" cy="1845.4" r="5.2"/><circle cx="297.3" cy="1851.6" r="5.2"/><circle cx="292.9" cy="1854.3" r="5.2"/><circle cx="300" cy="1854.3" r="5.2"/><circle cx="288.4" cy="1858.8" r="5.2"/><circle cx="295.5" cy="1860.5" r="5.2"/><circle cx="301.8" cy="1860.5" r="5.2"/><circle cx="307.1" cy="1858.8" r="5.2"/><circle cx="296.4" cy="1862.3" r="5.2"/><circle cx="308.6" cy="1773.6" r="5.2"/><circle cx="320.9" cy="1780.5" r="5.2"/><circle cx="324.5" cy="1788.2" r="5.2"/><circle cx="308.6" cy="1791.8" r="5.2"/><circle cx="318.8" cy="1795.4" r="5.2"/><circle cx="314.3" cy="1799.8" r="5.2"/><circle cx="308.6" cy="1807.9" r="5.2"/><circle cx="323.8" cy="1811.4" r="5.2"/><circle cx="314.3" cy="1815.9" r="5.2"/><circle cx="318.8" cy="1815.9" r="5.2"/><circle cx="323.8" cy="1824.3" r="5.2"/><circle cx="312" cy="1831.1" r="5.2"/><circle cx="352.7" cy="1663.8" r="5.2"/><circle cx="340.7" cy="1666.4" r="5.2"/><circle cx="337.5" cy="1679.3" r="5.2"/><circle cx="349.1" cy="1685.5" r="5.2"/><circle cx="337.5" cy="1698.9" r="5.2"/><circle cx="352.7" cy="1698.6" r="5.2"/><circle cx="342.9" cy="1703.4" r="5.2"/><circle cx="347.3" cy="1703.4" r="5.2"/><circle cx="337.1" cy="1716.8" r="5.2"/><circle cx="349.1" cy="1726.6" r="5.2"/><circle cx="353.2" cy="1727.5" r="5.2"/><circle cx="341.1" cy="1742.7" r="5.2"/><circle cx="356.6" cy="1835.5" r="5.2"/><circle cx="362.5" cy="1846.2" r="5.2"/><circle cx="372.3" cy="1844.5" r="5.2"/><circle cx="367" cy="1848" r="5.2"/><circle cx="358.9" cy="1854.3" r="5.2"/><circle cx="365.2" cy="1855.2" r="5.2"/><circle cx="371.4" cy="1857" r="5.2"/><circle cx="356.2" cy="1863.2" r="5.2"/><circle cx="362.5" cy="1861.4" r="5.2"/><circle cx="367.9" cy="1860.5" r="5.2"/><circle cx="364.3" cy="1867.7" r="5.2"/><circle cx="381.8" cy="1778.4" r="5.2"/><circle cx="383.4" cy="1780.2" r="5.2"/><circle cx="382.7" cy="1791.8" r="5.2"/><circle cx="383.9" cy="1800.7" r="5.2"/><circle cx="382.1" cy="1807" r="5.2"/><circle cx="382.7" cy="1811.4" r="5.2"/><circle cx="382.7" cy="1813.2" r="5.2"/><circle cx="375.9" cy="1826.6" r="5.2"/><circle cx="390.2" cy="1825.7" r="5.2"/><circle cx="385.7" cy="1829.3" r="5.2"/><circle cx="380.4" cy="1833.8" r="5.2"/><circle cx="403.9" cy="1732.5" r="5.2"/><circle cx="416.8" cy="1740.9" r="5.2"/><circle cx="419.5" cy="1743.6" r="5.2"/><circle cx="403.4" cy="1748" r="5.2"/><circle cx="413.2" cy="1752.5" r="5.2"/><circle cx="408.8" cy="1757.9" r="5.2"/><circle cx="412.3" cy="1762.3" r="5.2"/><circle cx="410.5" cy="1773" r="5.2"/><circle cx="412.3" cy="1777.5" r="5.2"/><circle cx="409.6" cy="1781.1" r="5.2"/><circle cx="413.2" cy="1782.9" r="5.2"/><circle cx="410.5" cy="1787.3" r="5.2"/><circle cx="412.3" cy="1790" r="5.2"/><circle cx="411.4" cy="1793.6" r="5.2"/><circle cx="432.9" cy="1831.4" r="5.2"/><circle cx="427.5" cy="1837.3" r="5.2"/><circle cx="432" cy="1840.9" r="5.2"/><circle cx="429.3" cy="1843.6" r="5.2"/><circle cx="426.6" cy="1848" r="5.2"/><circle cx="432.9" cy="1848" r="5.2"/><circle cx="430.2" cy="1851.6" r="5.2"/><circle cx="427.5" cy="1853.4" r="5.2"/><circle cx="432" cy="1854.3" r="5.2"/><circle cx="430.2" cy="1857" r="5.2"/><circle cx="430.7" cy="1867.7" r="5.2"/><circle cx="442.3" cy="1720.7" r="5.2"/><circle cx="453.9" cy="1722.5" r="5.2"/><circle cx="449.8" cy="1729.3" r="5.2"/><circle cx="451.6" cy="1732" r="5.2"/><circle cx="448.9" cy="1737.3" r="5.2"/><circle cx="450.7" cy="1739.1" r="5.2"/><circle cx="448" cy="1765.9" r="5.2"/><circle cx="451.6" cy="1765" r="5.2"/><circle cx="449.8" cy="1768.6" r="5.2"/><circle cx="457.5" cy="1771.2" r="5.2"/><circle cx="445.4" cy="1785.5" r="5.2"/><circle cx="477.9" cy="1699.5" r="5.2"/><circle cx="485.5" cy="1716.8" r="5.2"/><circle cx="473" cy="1723" r="5.2"/><circle cx="478.4" cy="1724.8" r="5.2"/><circle cx="477.5" cy="1737.3" r="5.2"/><circle cx="477.1" cy="1739.1" r="5.2"/><circle cx="485.5" cy="1754.3" r="5.2"/><circle cx="470" cy="1758.2" r="5.2"/><circle cx="478.4" cy="1765.9" r="5.2"/><circle cx="478.4" cy="1773.9" r="5.2"/><circle cx="476.6" cy="1778.4" r="5.2"/><circle cx="478.4" cy="1783.8" r="5.2"/><circle cx="477.5" cy="1813.2" r="5.2"/><circle cx="497.1" cy="1838.2" r="5.2"/><circle cx="495.4" cy="1841.8" r="5.2"/><circle cx="498.9" cy="1843.6" r="5.2"/><circle cx="493.6" cy="1851.6" r="5.2"/><circle cx="500.7" cy="1851.6" r="5.2"/><circle cx="497.1" cy="1854.3" r="5.2"/><circle cx="495.4" cy="1857" r="5.2"/><circle cx="498.9" cy="1858.8" r="5.2"/><circle cx="497.1" cy="1862.3" r="5.2"/><circle cx="496.2" cy="1865" r="5.2"/><circle cx="516.4" cy="1687.3" r="5.2"/><circle cx="516.4" cy="1721.2" r="5.2"/><circle cx="508.2" cy="1735" r="5.2"/><circle cx="523.6" cy="1739.5" r="5.2"/><circle cx="514.1" cy="1745.4" r="5.2"/><circle cx="518.6" cy="1749.8" r="5.2"/><circle cx="515.9" cy="1756.1" r="5.2"/><circle cx="516.8" cy="1763.2" r="5.2"/><circle cx="508.2" cy="1782.9" r="5.2"/><circle cx="520.4" cy="1782.9" r="5.2"/><circle cx="516.4" cy="1792.7" r="5.2"/><circle cx="517.7" cy="1798.9" r="5.2"/><circle cx="515.9" cy="1807" r="5.2"/><circle cx="544.5" cy="1698.9" r="5.2"/><circle cx="552" cy="1728.4" r="5.2"/><circle cx="540" cy="1733.8" r="5.2"/><circle cx="536.4" cy="1746.6" r="5.2"/><circle cx="547.1" cy="1751.6" r="5.2"/><circle cx="551.6" cy="1763.8" r="5.2"/><circle cx="540" cy="1767.7" r="5.2"/><circle cx="544.5" cy="1785.5" r="5.2"/><circle cx="552" cy="1797.7" r="5.2"/><circle cx="540" cy="1803" r="5.2"/><circle cx="556.1" cy="1840.9" r="5.2"/><circle cx="562.3" cy="1842.7" r="5.2"/><circle cx="568.6" cy="1843.6" r="5.2"/><circle cx="572.1" cy="1841.8" r="5.2"/><circle cx="565.9" cy="1845.4" r="5.2"/><circle cx="557" cy="1854.3" r="5.2"/><circle cx="570.4" cy="1852.5" r="5.2"/><circle cx="562.3" cy="1859.6" r="5.2"/><circle cx="565.9" cy="1861.4" r="5.2"/><circle cx="590.4" cy="1715" r="5.2"/><circle cx="578.4" cy="1723.9" r="5.2"/><circle cx="574.8" cy="1733.8" r="5.2"/><circle cx="587.3" cy="1740.9" r="5.2"/><circle cx="582.9" cy="1756.1" r="5.2"/><circle cx="582" cy="1767.7" r="5.2"/><circle cx="582.9" cy="1770.4" r="5.2"/><circle cx="582" cy="1776.6" r="5.2"/><circle cx="590.4" cy="1792.7" r="5.2"/><circle cx="578.4" cy="1803" r="5.2"/><circle cx="618.6" cy="1687.7" r="5.2"/><circle cx="607" cy="1690.9" r="5.2"/><circle cx="603.4" cy="1695" r="5.2"/><circle cx="615" cy="1709.3" r="5.2"/><circle cx="618.2" cy="1724.3" r="5.2"/><circle cx="607" cy="1732.3" r="5.2"/><circle cx="611.4" cy="1738.2" r="5.2"/><circle cx="610.5" cy="1743.6" r="5.2"/><circle cx="610.5" cy="1752.5" r="5.2"/><circle cx="610.9" cy="1777.5" r="5.2"/><circle cx="623.9" cy="1840" r="5.2"/><circle cx="634.6" cy="1840" r="5.2"/><circle cx="630.2" cy="1846.2" r="5.2"/><circle cx="637.3" cy="1848" r="5.2"/><circle cx="623.9" cy="1855.2" r="5.2"/><circle cx="631.1" cy="1853.4" r="5.2"/><circle cx="637.3" cy="1854.3" r="5.2"/><circle cx="628.4" cy="1867.7" r="5.2"/><circle cx="649.5" cy="1737.7" r="5.2"/><circle cx="641.8" cy="1762.3" r="5.2"/><circle cx="653.4" cy="1763.2" r="5.2"/><circle cx="649.5" cy="1779.8" r="5.2"/><circle cx="649.8" cy="1795.4" r="5.2"/><circle cx="648.9" cy="1803.4" r="5.2"/><circle cx="649.5" cy="1817.7" r="5.2"/><circle cx="649.8" cy="1818.6" r="5.2"/><circle cx="677.7" cy="1683.8" r="5.2"/><circle cx="677.7" cy="1704.3" r="5.2"/><circle cx="676.4" cy="1715.9" r="5.2"/><circle cx="678.6" cy="1717.7" r="5.2"/><circle cx="668.9" cy="1728.8" r="5.2"/><circle cx="685.4" cy="1737.9" r="5.2"/><circle cx="674.6" cy="1739.1" r="5.2"/><circle cx="680" cy="1740.9" r="5.2"/><circle cx="685.4" cy="1754.3" r="5.2"/><circle cx="672.9" cy="1761.4" r="5.2"/><circle cx="696.1" cy="1816.8" r="5.2"/><circle cx="697.9" cy="1823" r="5.2"/><circle cx="694.3" cy="1827.5" r="5.2"/><circle cx="688.9" cy="1837.3" r="5.2"/><circle cx="704.1" cy="1838.2" r="5.2"/><circle cx="697" cy="1839.1" r="5.2"/><circle cx="694.3" cy="1842.7" r="5.2"/><circle cx="699.6" cy="1841.8" r="5.2"/><circle cx="704.1" cy="1852.1" r="5.2"/><circle cx="692.5" cy="1860" r="5.2"/><circle cx="714.8" cy="1772.1" r="5.2"/><circle cx="716.6" cy="1777.5" r="5.2"/><circle cx="715.7" cy="1784.6" r="5.2"/><circle cx="716.6" cy="1791.8" r="5.2"/><circle cx="714.8" cy="1797.1" r="5.2"/><circle cx="715.7" cy="1800.7" r="5.2"/><circle cx="715.4" cy="1805.2" r="5.2"/><circle cx="716.6" cy="1807.9" r="5.2"/><circle cx="714.8" cy="1815.9" r="5.2"/><circle cx="716.6" cy="1819.5" r="5.2"/><circle cx="715.7" cy="1824.8" r="5.2"/><circle cx="745.2" cy="1680.2" r="5.2"/><circle cx="743.4" cy="1691.8" r="5.2"/><circle cx="744.3" cy="1693.6" r="5.2"/><circle cx="751.4" cy="1710.9" r="5.2"/><circle cx="739.8" cy="1723.4" r="5.2"/><circle cx="736.2" cy="1725.7" r="5.2"/><circle cx="747.9" cy="1740" r="5.2"/><circle cx="752.3" cy="1748" r="5.2"/><circle cx="736.2" cy="1751.6" r="5.2"/><circle cx="746.1" cy="1756.1" r="5.2"/><circle cx="741.6" cy="1763.2" r="5.2"/><circle cx="763" cy="1808.8" r="5.2"/><circle cx="763.9" cy="1811.4" r="5.2"/><circle cx="763" cy="1819.5" r="5.2"/><circle cx="755.9" cy="1832" r="5.2"/><circle cx="771.1" cy="1832.9" r="5.2"/><circle cx="762.1" cy="1840" r="5.2"/><circle cx="765.7" cy="1840.9" r="5.2"/><circle cx="755.9" cy="1847.1" r="5.2"/><circle cx="768.4" cy="1847.1" r="5.2"/><circle cx="763.9" cy="1852.5" r="5.2"/><circle cx="760.4" cy="1858.8" r="5.2"/><circle cx="780" cy="1781.1" r="5.2"/><circle cx="784.5" cy="1781.1" r="5.2"/><circle cx="780.9" cy="1789.1" r="5.2"/><circle cx="782.7" cy="1791.8" r="5.2"/><circle cx="782.1" cy="1794.5" r="5.2"/><circle cx="782.7" cy="1818.6" r="5.2"/><circle cx="781.4" cy="1824.8" r="5.2"/><circle cx="782.7" cy="1830.2" r="5.2"/><circle cx="781.8" cy="1835.5" r="5.2"/><circle cx="783.2" cy="1836.4" r="5.2"/><circle cx="802.9" cy="1677.1" r="5.2"/><circle cx="814.8" cy="1687.3" r="5.2"/><circle cx="806.4" cy="1703.4" r="5.2"/><circle cx="817.9" cy="1702.1" r="5.2"/><circle cx="802.9" cy="1722.1" r="5.2"/><circle cx="818.4" cy="1725.7" r="5.2"/><circle cx="812.1" cy="1727.5" r="5.2"/><circle cx="810.4" cy="1732" r="5.2"/><circle cx="809.5" cy="1740" r="5.2"/><circle cx="810.4" cy="1748" r="5.2"/><circle cx="811.2" cy="1751.6" r="5.2"/><circle cx="829.1" cy="1816.8" r="5.2"/><circle cx="830" cy="1823" r="5.2"/><circle cx="829.1" cy="1827.5" r="5.2"/><circle cx="830.9" cy="1829.3" r="5.2"/><circle cx="829.1" cy="1834.6" r="5.2"/><circle cx="830" cy="1839.1" r="5.2"/><circle cx="829.1" cy="1843.6" r="5.2"/><circle cx="830" cy="1847.1" r="5.2"/><circle cx="829.1" cy="1850.7" r="5.2"/><circle cx="829.6" cy="1859.6" r="5.2"/><circle cx="848.2" cy="1782.9" r="5.2"/><circle cx="847.5" cy="1789.1" r="5.2"/><circle cx="849.3" cy="1797.1" r="5.2"/><circle cx="848.8" cy="1800.7" r="5.2"/><circle cx="850" cy="1803.4" r="5.2"/><circle cx="841.1" cy="1809.6" r="5.2"/><circle cx="856.8" cy="1815.9" r="5.2"/><circle cx="847.9" cy="1818.6" r="5.2"/><circle cx="851.4" cy="1819.5" r="5.2"/><circle cx="848.8" cy="1835.5" r="5.2"/><circle cx="885" cy="1667.7" r="5.2"/><circle cx="872.9" cy="1681.4" r="5.2"/><circle cx="869.3" cy="1686.4" r="5.2"/><circle cx="881.4" cy="1697.5" r="5.2"/><circle cx="884.8" cy="1715.9" r="5.2"/><circle cx="872.9" cy="1726.6" r="5.2"/><circle cx="878.2" cy="1734.6" r="5.2"/><circle cx="876.4" cy="1743.6" r="5.2"/><circle cx="877.3" cy="1745.4" r="5.2"/><circle cx="884.5" cy="1766.8" r="5.2"/><circle cx="872.5" cy="1776.2" r="5.2"/><circle cx="896.1" cy="1812.3" r="5.2"/><circle cx="892.5" cy="1828.4" r="5.2"/><circle cx="899.6" cy="1830.2" r="5.2"/><circle cx="896.1" cy="1832.9" r="5.2"/><circle cx="894.3" cy="1836.4" r="5.2"/><circle cx="897.9" cy="1837.3" r="5.2"/><circle cx="895.2" cy="1840.9" r="5.2"/><circle cx="896.1" cy="1845.4" r="5.2"/><circle cx="896.1" cy="1864.1" r="5.2"/><circle cx="915.4" cy="1757" r="5.2"/><circle cx="914.8" cy="1790.9" r="5.2"/><circle cx="916.6" cy="1791.8" r="5.2"/><circle cx="915.4" cy="1795.4" r="5.2"/><circle cx="908.6" cy="1822.1" r="5.2"/><circle cx="922.9" cy="1820.4" r="5.2"/><circle cx="919.3" cy="1832.9" r="5.2"/><circle cx="910.4" cy="1848" r="5.2"/><circle cx="944.1" cy="1732.5" r="5.2"/><circle cx="951.2" cy="1758.8" r="5.2"/><circle cx="939.6" cy="1762.3" r="5.2"/><circle cx="945" cy="1770" r="5.2"/><circle cx="943.2" cy="1782" r="5.2"/><circle cx="943.2" cy="1782.9" r="5.2"/><circle cx="951.8" cy="1796.8" r="5.2"/><circle cx="939.6" cy="1798.9" r="5.2"/><circle cx="962.9" cy="1816.8" r="5.2"/><circle cx="960.2" cy="1824.8" r="5.2"/><circle cx="965.5" cy="1826.6" r="5.2"/><circle cx="962" cy="1829.3" r="5.2"/><circle cx="963.8" cy="1832.9" r="5.2"/><circle cx="962" cy="1835.5" r="5.2"/><circle cx="963.8" cy="1837.3" r="5.2"/><circle cx="962.9" cy="1840" r="5.2"/><circle cx="982" cy="1728.4" r="5.2"/><circle cx="977.5" cy="1747.7" r="5.2"/><circle cx="989.6" cy="1747.7" r="5.2"/><circle cx="980.7" cy="1756.1" r="5.2"/><circle cx="982.5" cy="1757" r="5.2"/><circle cx="981.6" cy="1771.2" r="5.2"/><circle cx="989.6" cy="1777.9" r="5.2"/><circle cx="977.5" cy="1790.5" r="5.2"/><circle cx="1003" cy="1742.7" r="5.2"/><circle cx="1018.2" cy="1740" r="5.2"/><circle cx="1012.9" cy="1742.7" r="5.2"/><circle cx="1008.4" cy="1746.2" r="5.2"/><circle cx="1002.7" cy="1764.1" r="5.2"/><circle cx="1013.8" cy="1768.2" r="5.2"/><circle cx="1017.9" cy="1772.7" r="5.2"/><circle cx="1006.2" cy="1786.8" r="5.2"/><circle cx="1025.7" cy="1820.4" r="5.2"/><circle cx="1033.4" cy="1822.1" r="5.2"/><circle cx="1021.8" cy="1827.5" r="5.2"/><circle cx="1028" cy="1829.3" r="5.2"/><circle cx="1030.7" cy="1832" r="5.2"/><circle cx="1037" cy="1830.2" r="5.2"/><circle cx="1027.1" cy="1832.9" r="5.2"/><circle cx="1037.5" cy="1849.5" r="5.2"/><circle cx="1025.4" cy="1858.2" r="5.2"/><circle cx="1048.2" cy="1746.6" r="5.2"/><circle cx="1040.9" cy="1764.6" r="5.2"/><circle cx="1056.6" cy="1770" r="5.2"/><circle cx="1047.1" cy="1771.8" r="5.2"/><circle cx="1051.2" cy="1772.1" r="5.2"/><circle cx="1047.7" cy="1790" r="5.2"/><circle cx="1048.9" cy="1796.2" r="5.2"/><circle cx="1047.7" cy="1799.8" r="5.2"/><circle cx="1069.6" cy="1758.2" r="5.2"/><circle cx="1084.3" cy="1758.2" r="5.2"/><circle cx="1077.1" cy="1765" r="5.2"/><circle cx="1075.4" cy="1768.6" r="5.2"/><circle cx="1079.8" cy="1771.2" r="5.2"/><circle cx="1073.6" cy="1781.1" r="5.2"/><circle cx="1084.3" cy="1782.9" r="5.2"/><circle cx="1069.1" cy="1785.5" r="5.2"/><circle cx="1078.9" cy="1784.3" r="5.2"/><circle cx="1076.2" cy="1786.4" r="5.2"/><circle cx="1095.9" cy="1818.6" r="5.2"/><circle cx="1094.1" cy="1832" r="5.2"/><circle cx="1096.8" cy="1832.9" r="5.2"/><circle cx="1093.2" cy="1833.8" r="5.2"/><circle cx="1097.7" cy="1834.6" r="5.2"/><circle cx="1095.9" cy="1835.5" r="5.2"/><circle cx="1098.6" cy="1832" r="5.2"/><circle cx="1103" cy="1843.6" r="5.2"/><circle cx="1091.8" cy="1857" r="5.2"/><circle cx="1111.1" cy="1734.6" r="5.2"/><circle cx="1122.7" cy="1734.6" r="5.2"/><circle cx="1115.2" cy="1743.6" r="5.2"/><circle cx="1114.6" cy="1751.6" r="5.2"/><circle cx="1115.5" cy="1756.1" r="5.2"/><circle cx="1115" cy="1763.2" r="5.2"/><circle cx="1115.2" cy="1768.6" r="5.2"/><circle cx="1114.6" cy="1770" r="5.2"/><circle cx="1136.1" cy="1710" r="5.2"/><circle cx="1148" cy="1723.4" r="5.2"/><circle cx="1151.2" cy="1737.3" r="5.2"/><circle cx="1139.6" cy="1742.7" r="5.2"/><circle cx="1135.2" cy="1744.5" r="5.2"/><circle cx="1151.2" cy="1753.4" r="5.2"/><circle cx="1140.5" cy="1758.8" r="5.2"/><circle cx="1145" cy="1759.6" r="5.2"/><circle cx="1151.2" cy="1764.1" r="5.2"/><circle cx="1138.8" cy="1777.1" r="5.2"/><circle cx="1162.5" cy="1824.8" r="5.2"/><circle cx="1158.4" cy="1829.3" r="5.2"/><circle cx="1166.4" cy="1828.4" r="5.2"/><circle cx="1155.7" cy="1834.6" r="5.2"/><circle cx="1170" cy="1836.4" r="5.2"/><circle cx="1162" cy="1837.3" r="5.2"/><circle cx="1161.1" cy="1840.9" r="5.2"/><circle cx="1163.8" cy="1843.6" r="5.2"/><circle cx="1162.9" cy="1855.2" r="5.2"/><circle cx="1162.5" cy="1857.9" r="5.2"/><circle cx="1182.1" cy="1748.9" r="5.2"/><circle cx="1178" cy="1765.9" r="5.2"/><circle cx="1184.3" cy="1768.6" r="5.2"/><circle cx="1180.7" cy="1772.1" r="5.2"/><circle cx="1187.9" cy="1775.7" r="5.2"/><circle cx="1178.9" cy="1779.3" r="5.2"/><circle cx="1178" cy="1810.5" r="5.2"/><circle cx="1187.9" cy="1797.1" r="5.2"/><circle cx="1210" cy="1699.5" r="5.2"/><circle cx="1210" cy="1734.1" r="5.2"/><circle cx="1210" cy="1756.1" r="5.2"/><circle cx="1202.3" cy="1771.8" r="5.2"/><circle cx="1214.5" cy="1779.3" r="5.2"/><circle cx="1217.7" cy="1790.9" r="5.2"/><circle cx="1206.1" cy="1795.4" r="5.2"/><circle cx="1226.4" cy="1827.5" r="5.2"/><circle cx="1231.8" cy="1832" r="5.2"/><circle cx="1227.9" cy="1834.6" r="5.2"/><circle cx="1229.6" cy="1836.4" r="5.2"/><circle cx="1228.8" cy="1837.3" r="5.2"/><circle cx="1227.9" cy="1839.1" r="5.2"/><circle cx="1229.6" cy="1840" r="5.2"/><circle cx="1228.8" cy="1841.8" r="5.2"/><circle cx="1240.9" cy="1734.6" r="5.2"/><circle cx="1252.5" cy="1736.4" r="5.2"/><circle cx="1247.5" cy="1753.4" r="5.2"/><circle cx="1248.4" cy="1757" r="5.2"/><circle cx="1247.5" cy="1765" r="5.2"/><circle cx="1248.4" cy="1797.7" r="5.2"/><circle cx="1248" cy="1825.7" r="5.2"/><circle cx="1276.4" cy="1714.1" r="5.2"/><circle cx="1276.4" cy="1731.4" r="5.2"/><circle cx="1284.1" cy="1746.8" r="5.2"/><circle cx="1268.6" cy="1750.7" r="5.2"/><circle cx="1274.3" cy="1755.2" r="5.2"/><circle cx="1278.8" cy="1755.2" r="5.2"/><circle cx="1268.6" cy="1778.9" r="5.2"/><circle cx="1280.9" cy="1778.9" r="5.2"/><circle cx="1276.4" cy="1812.3" r="5.2"/><circle cx="1295.7" cy="1811.1" r="5.2"/><circle cx="1288.2" cy="1823" r="5.2"/><circle cx="1299.3" cy="1826.6" r="5.2"/><circle cx="1288.6" cy="1835.5" r="5.2"/><circle cx="1293.9" cy="1833.8" r="5.2"/><circle cx="1301.1" cy="1832" r="5.2"/><circle cx="1303.8" cy="1836.4" r="5.2"/><circle cx="1296.6" cy="1840.9" r="5.2"/><circle cx="1293.9" cy="1845.4" r="5.2"/><circle cx="1315.7" cy="1739.5" r="5.2"/><circle cx="1313.9" cy="1748.6" r="5.2"/><circle cx="1314.8" cy="1752.5" r="5.2"/><circle cx="1322.5" cy="1770.9" r="5.2"/><circle cx="1310.9" cy="1774.8" r="5.2"/><circle cx="1314.8" cy="1782" r="5.2"/><circle cx="1314.5" cy="1782.9" r="5.2"/><circle cx="1314.8" cy="1796.2" r="5.2"/><circle cx="1314.8" cy="1812.3" r="5.2"/><circle cx="1343" cy="1717.1" r="5.2"/><circle cx="1343.9" cy="1737.9" r="5.2"/><circle cx="1342.1" cy="1743.6" r="5.2"/><circle cx="1343" cy="1747.1" r="5.2"/><circle cx="1350.7" cy="1773" r="5.2"/><circle cx="1335.5" cy="1780.2" r="5.2"/><circle cx="1344.8" cy="1785.5" r="5.2"/><circle cx="1340.4" cy="1788.2" r="5.2"/><circle cx="1357.9" cy="1797.7" r="5.2"/><circle cx="1369.8" cy="1795.9" r="5.2"/><circle cx="1354.6" cy="1823" r="5.2"/><circle cx="1369.8" cy="1824.8" r="5.2"/><circle cx="1359.1" cy="1831.1" r="5.2"/><circle cx="1363.6" cy="1832" r="5.2"/><circle cx="1369.8" cy="1842.7" r="5.2"/><circle cx="1354.6" cy="1846.2" r="5.2"/><circle cx="1359.1" cy="1849.8" r="5.2"/><circle cx="1363.6" cy="1850.7" r="5.2"/><circle cx="1389.1" cy="1747.7" r="5.2"/><circle cx="1377" cy="1757" r="5.2"/><circle cx="1382.3" cy="1767.7" r="5.2"/><circle cx="1380.5" cy="1772.1" r="5.2"/><circle cx="1381.4" cy="1786.4" r="5.2"/><circle cx="1381.4" cy="1795.4" r="5.2"/><circle cx="1381.1" cy="1796.2" r="5.2"/><circle cx="1402" cy="1685.2" r="5.2"/><circle cx="1413.6" cy="1685.2" r="5.2"/><circle cx="1405" cy="1702" r="5.2"/><circle cx="1417.1" cy="1701.6" r="5.2"/><circle cx="1401.4" cy="1729.8" r="5.2"/><circle cx="1417.1" cy="1730.2" r="5.2"/><circle cx="1406.4" cy="1732.9" r="5.2"/><circle cx="1411.8" cy="1741.8" r="5.2"/><circle cx="1408.2" cy="1766.8" r="5.2"/><circle cx="1409.6" cy="1779.3" r="5.2"/><circle cx="1410" cy="1780.2" r="5.2"/><circle cx="1428.8" cy="1815.9" r="5.2"/><circle cx="1429.6" cy="1826.6" r="5.2"/><circle cx="1427" cy="1832" r="5.2"/><circle cx="1429.6" cy="1835.5" r="5.2"/><circle cx="1427.9" cy="1837.3" r="5.2"/><circle cx="1428.8" cy="1840" r="5.2"/><circle cx="1427.9" cy="1845.4" r="5.2"/><circle cx="1429.6" cy="1848" r="5.2"/><circle cx="1428.8" cy="1852.5" r="5.2"/><circle cx="1428.8" cy="1857" r="5.2"/><circle cx="1443.6" cy="1759.6" r="5.2"/><circle cx="1455" cy="1756.1" r="5.2"/><circle cx="1440" cy="1769.5" r="5.2"/><circle cx="1452.9" cy="1777.5" r="5.2"/><circle cx="1443.9" cy="1793.6" r="5.2"/><circle cx="1440.4" cy="1799.5" r="5.2"/><circle cx="1453.8" cy="1811.4" r="5.2"/><circle cx="1446.6" cy="1822.1" r="5.2"/><circle cx="1448.4" cy="1823.9" r="5.2"/></g>
</g>
<g id="panel-h">
<text font-size="28.5" font-weight="bold" x="12.5" y="2087.6">h</text>
<text font-size="25.6" text-anchor="middle" x="203.3" y="2090">PBS</text>
<text font-size="25.6" text-anchor="middle" x="311" y="2090">MIA</text>
<text font-size="25.6" text-anchor="middle" x="418" y="2090">WT</text>
<text font-size="25.6" text-anchor="middle" font-style="italic" x="536.7" y="2090">Cntnap2</text>
<text font-size="25.6" text-anchor="middle" font-style="italic" x="644.3" y="2090">Fmr1</text>
<path d="M165.7 2102.9H238M275.2 2102.9H348.6M383.3 2102.9H456.2M492.9 2102.9H566.7M605.7 2102.9H678.6" fill="none" stroke="#3a3a3a" stroke-width="1.5"/>
<rect x="154.8" y="2310.9" width="19.8" height="63.8" fill="#ffffff" stroke="#222" stroke-width="1.1"/>
<rect x="177.6" y="2311.5" width="19.8" height="63.2" fill="#ffffff" stroke="#222" stroke-width="1.1"/>
<path d="M164.7 2305.5V2310.9M159.7 2305.5H169.7" fill="none" stroke="#1a1a1a" stroke-width="1.1"/>
<path d="M187.5 2307.6V2311.5M182.5 2307.6H192.5" fill="none" stroke="#1a1a1a" stroke-width="1.1"/>
<rect x="210.2" y="2307.2" width="19.8" height="67.5" fill="#bdbdbd" stroke="#222" stroke-width="1.1"/>
<rect x="233" y="2312.1" width="19.8" height="62.6" fill="#bdbdbd" stroke="#222" stroke-width="1.1"/>
<path d="M220.1 2302.7V2307.2M215.1 2302.7H225.1" fill="none" stroke="#1a1a1a" stroke-width="1.1"/>
<path d="M242.9 2308.5V2312.1M237.9 2308.5H247.9" fill="none" stroke="#1a1a1a" stroke-width="1.1"/>
<rect x="265.5" y="2306.6" width="19.8" height="68.1" fill="#fbd2c0" stroke="#222" stroke-width="1.1"/>
<rect x="288.3" y="2309.6" width="19.8" height="65.1" fill="#fbd2c0" stroke="#222" stroke-width="1.1"/>
<path d="M275.4 2301.6V2306.6M270.4 2301.6H280.4" fill="none" stroke="#1a1a1a" stroke-width="1.1"/>
<path d="M298.2 2305.7V2309.6M293.2 2305.7H303.2" fill="none" stroke="#1a1a1a" stroke-width="1.1"/>
<rect x="320.9" y="2301.6" width="19.8" height="73.1" fill="#fb2a0c" stroke="#222" stroke-width="1.1"/>
<rect x="343.7" y="2308.6" width="19.8" height="66.1" fill="#fb2a0c" stroke="#222" stroke-width="1.1"/>
<path d="M330.8 2295.6V2301.6M325.8 2295.6H335.8" fill="none" stroke="#1a1a1a" stroke-width="1.1"/>
<path d="M353.6 2304.7V2308.6M348.6 2304.7H358.6" fill="none" stroke="#1a1a1a" stroke-width="1.1"/>
<rect x="376.2" y="2292.7" width="19.8" height="82" fill="#f0d5e5" stroke="#222" stroke-width="1.1"/>
<rect x="399" y="2308.2" width="19.8" height="66.5" fill="#f0d5e5" stroke="#222" stroke-width="1.1"/>
<path d="M386.1 2287.7V2292.7M381.1 2287.7H391.1" fill="none" stroke="#1a1a1a" stroke-width="1.1"/>
<path d="M408.9 2302.6V2308.2M403.9 2302.6H413.9" fill="none" stroke="#1a1a1a" stroke-width="1.1"/>
<rect x="431.6" y="2299.6" width="19.8" height="75.1" fill="#a7278f" stroke="#222" stroke-width="1.1"/>
<rect x="454.4" y="2308.6" width="19.8" height="66.1" fill="#a7278f" stroke="#222" stroke-width="1.1"/>
<path d="M441.4 2294.7V2299.6M436.4 2294.7H446.4" fill="none" stroke="#1a1a1a" stroke-width="1.1"/>
<path d="M464.2 2302.3V2308.6M459.2 2302.3H469.2" fill="none" stroke="#1a1a1a" stroke-width="1.1"/>
<rect x="486.9" y="2277.4" width="19.8" height="97.3" fill="#e1c5e1" stroke="#222" stroke-width="1.1"/>
<rect x="509.7" y="2295.3" width="19.8" height="79.4" fill="#e1c5e1" stroke="#222" stroke-width="1.1"/>
<path d="M496.8 2269V2277.4M491.8 2269H501.8" fill="none" stroke="#1a1a1a" stroke-width="1.1"/>
<path d="M519.6 2288.7V2295.3M514.6 2288.7H524.6" fill="none" stroke="#1a1a1a" stroke-width="1.1"/>
<rect x="542.2" y="2284.7" width="19.8" height="90" fill="#62297f" stroke="#222" stroke-width="1.1"/>
<rect x="565" y="2306.6" width="19.8" height="68.1" fill="#62297f" stroke="#222" stroke-width="1.1"/>
<path d="M552.1 2277.8V2284.7M547.1 2277.8H557.1" fill="none" stroke="#1a1a1a" stroke-width="1.1"/>
<path d="M574.9 2303.6V2306.6M569.9 2303.6H579.9" fill="none" stroke="#1a1a1a" stroke-width="1.1"/>
<rect x="597.6" y="2279.4" width="19.8" height="95.3" fill="#d6e7f3" stroke="#222" stroke-width="1.1"/>
<rect x="620.4" y="2279.8" width="19.8" height="94.9" fill="#d6e7f3" stroke="#222" stroke-width="1.1"/>
<path d="M607.5 2262.9V2279.4M602.5 2262.9H612.5" fill="none" stroke="#1a1a1a" stroke-width="1.1"/>
<path d="M630.3 2261.8V2279.8M625.3 2261.8H635.3" fill="none" stroke="#1a1a1a" stroke-width="1.1"/>
<rect x="653" y="2291.1" width="19.8" height="83.6" fill="#3a80b9" stroke="#222" stroke-width="1.1"/>
<rect x="675.8" y="2298.7" width="19.8" height="76" fill="#3a80b9" stroke="#222" stroke-width="1.1"/>
<path d="M662.9 2287.8V2291.1M657.9 2287.8H667.9" fill="none" stroke="#1a1a1a" stroke-width="1.1"/>
<path d="M685.6 2293.7V2298.7M680.6 2293.7H690.6" fill="none" stroke="#1a1a1a" stroke-width="1.1"/>
<path d="M145.5 2134.3V2374.7M131.5 2374.7H145.5M131.5 2314.7H145.5M131.5 2254.8H145.5M131.5 2194.8H145.5M131.5 2134.8H145.5" fill="none" stroke="#222" stroke-width="1.1"/>
<text font-size="24.6" text-anchor="end" x="124.8" y="2383.5">0</text>
<text font-size="24.6" text-anchor="end" x="124.8" y="2323.5">2000</text>
<text font-size="24.6" text-anchor="end" x="124.8" y="2263.6">4000</text>
<text font-size="24.6" text-anchor="end" x="124.8" y="2203.6">6000</text>
<text font-size="24.6" text-anchor="end" x="124.8" y="2143.6">8000</text>
<path d="M131.3 2374.7H710" fill="none" stroke="#222" stroke-width="1.1"/>
<path d="M164.8 2374.7V2387.8M187.7 2374.7V2387.8M220.2 2374.7V2387.8M243.1 2374.7V2387.8M275.5 2374.7V2387.8M298.4 2374.7V2387.8M330.9 2374.7V2387.8M353.8 2374.7V2387.8M386.2 2374.7V2387.8M409.1 2374.7V2387.8M441.6 2374.7V2387.8M464.4 2374.7V2387.8M496.9 2374.7V2387.8M519.8 2374.7V2387.8M552.2 2374.7V2387.8M575.1 2374.7V2387.8M607.6 2374.7V2387.8M630.5 2374.7V2387.8M663 2374.7V2387.8M685.9 2374.7V2387.8" fill="none" stroke="#222" stroke-width="1.1"/>
<path d="M149.8 2453.7H701.3M149.8 2485.6H701.3M149.8 2517.3H701.3M149.8 2374.7V2517.3M205 2374.7V2517.3M260.1 2374.7V2517.3M315.2 2374.7V2517.3M370.4 2374.7V2517.3M425.6 2374.7V2517.3M480.7 2374.7V2517.3M535.9 2374.7V2517.3M591 2374.7V2517.3M646.1 2374.7V2517.3M701.3 2374.7V2517.3" fill="none" stroke="#222" stroke-width="1.1"/>
<text font-size="26" text-anchor="end" transform="translate(172.8 2399.3) rotate(-90)">Pre</text>
<text font-size="26" text-anchor="end" transform="translate(198.6 2398.8) rotate(-90)">Test</text>
<text font-size="26" text-anchor="end" transform="translate(228.2 2399.3) rotate(-90)">Pre</text>
<text font-size="26" text-anchor="end" transform="translate(254 2398.8) rotate(-90)">Test</text>
<text font-size="26" text-anchor="end" transform="translate(283.5 2399.3) rotate(-90)">Pre</text>
<text font-size="26" text-anchor="end" transform="translate(309.3 2398.8) rotate(-90)">Test</text>
<text font-size="26" text-anchor="end" transform="translate(338.9 2399.3) rotate(-90)">Pre</text>
<text font-size="26" text-anchor="end" transform="translate(364.6 2398.8) rotate(-90)">Test</text>
<text font-size="26" text-anchor="end" transform="translate(394.2 2399.3) rotate(-90)">Pre</text>
<text font-size="26" text-anchor="end" transform="translate(420 2398.8) rotate(-90)">Test</text>
<text font-size="26" text-anchor="end" transform="translate(449.6 2399.3) rotate(-90)">Pre</text>
<text font-size="26" text-anchor="end" transform="translate(475.3 2398.8) rotate(-90)">Test</text>
<text font-size="26" text-anchor="end" transform="translate(504.9 2399.3) rotate(-90)">Pre</text>
<text font-size="26" text-anchor="end" transform="translate(530.7 2398.8) rotate(-90)">Test</text>
<text font-size="26" text-anchor="end" transform="translate(560.2 2399.3) rotate(-90)">Pre</text>
<text font-size="26" text-anchor="end" transform="translate(586 2398.8) rotate(-90)">Test</text>
<text font-size="26" text-anchor="end" transform="translate(615.6 2399.3) rotate(-90)">Pre</text>
<text font-size="26" text-anchor="end" transform="translate(641.4 2398.8) rotate(-90)">Test</text>
<text font-size="26" text-anchor="end" transform="translate(671 2399.3) rotate(-90)">Pre</text>
<text font-size="26" text-anchor="end" transform="translate(696.8 2398.8) rotate(-90)">Test</text>
<text font-size="39.5" text-anchor="middle" x="178.6" y="2483.4">+</text>
<text font-size="39.5" text-anchor="middle" x="178.6" y="2512.1">-</text>
<text font-size="39.5" text-anchor="middle" x="233.7" y="2480.7">-</text>
<text font-size="39.5" text-anchor="middle" x="233.7" y="2514.8">+</text>
<text font-size="39.5" text-anchor="middle" x="288.9" y="2483.4">+</text>
<text font-size="39.5" text-anchor="middle" x="288.9" y="2512.1">-</text>
<text font-size="39.5" text-anchor="middle" x="344" y="2480.7">-</text>
<text font-size="39.5" text-anchor="middle" x="344" y="2514.8">+</text>
<text font-size="39.5" text-anchor="middle" x="399.2" y="2483.4">+</text>
<text font-size="39.5" text-anchor="middle" x="399.2" y="2512.1">-</text>
<text font-size="39.5" text-anchor="middle" x="454.3" y="2480.7">-</text>
<text font-size="39.5" text-anchor="middle" x="454.3" y="2514.8">+</text>
<text font-size="39.5" text-anchor="middle" x="509.5" y="2483.4">+</text>
<text font-size="39.5" text-anchor="middle" x="509.5" y="2512.1">-</text>
<text font-size="39.5" text-anchor="middle" x="564.6" y="2480.7">-</text>
<text font-size="39.5" text-anchor="middle" x="564.6" y="2514.8">+</text>
<text font-size="39.5" text-anchor="middle" x="619.8" y="2483.4">+</text>
<text font-size="39.5" text-anchor="middle" x="619.8" y="2512.1">-</text>
<text font-size="39.5" text-anchor="middle" x="674.9" y="2480.7">-</text>
<text font-size="39.5" text-anchor="middle" x="674.9" y="2514.8">+</text>
<text font-size="25.8" text-anchor="end" x="141.2" y="2479.6">Veh</text>
<text font-size="25.8" text-anchor="end" letter-spacing="0.6" x="142.2" y="2511.8">IL-17a</text>
<text font-size="26" text-anchor="middle" transform="translate(50 2253) rotate(-90)">Total Distance Traveled (cm)</text>
<path d="M390.5 2218.1V2151.7H409.4V2237.5" fill="none" stroke="#222" stroke-width="1.1"/>
<text font-size="14.4" transform="translate(385.1 2148.4) rotate(-30)">.0166</text>
<path d="M499.3 2218.5V2151.7H518.1V2238" fill="none" stroke="#222" stroke-width="1.1"/>
<text font-size="14.4" transform="translate(493.9 2148.4) rotate(-30)">.0207</text>
<path d="M552.5 2218.5V2151.7H571.1V2238" fill="none" stroke="#222" stroke-width="1.1"/>
<text font-size="14.4" transform="translate(547.1 2148.4) rotate(-30)">.0003</text>
<g fill="none" stroke="#111" stroke-width="1.2"><circle cx="164.7" cy="2275.7" r="5.2"/><circle cx="156.8" cy="2292.9" r="5.2"/><circle cx="169.7" cy="2297.5" r="5.2"/><circle cx="155.8" cy="2318.3" r="5.2"/><circle cx="159.8" cy="2317.3" r="5.2"/><circle cx="163.7" cy="2314.4" r="5.2"/><circle cx="167.7" cy="2316.3" r="5.2"/><circle cx="171.7" cy="2315.4" r="5.2"/><circle cx="162.7" cy="2321.3" r="5.2"/><circle cx="166.7" cy="2323.3" r="5.2"/><circle cx="161.7" cy="2325.3" r="5.2"/><circle cx="163.7" cy="2326.3" r="5.2"/><circle cx="187.5" cy="2276.3" r="5.2"/><circle cx="190.5" cy="2302.5" r="5.2"/><circle cx="184.6" cy="2305.4" r="5.2"/><circle cx="188.5" cy="2307.4" r="5.2"/><circle cx="191.5" cy="2306.4" r="5.2"/><circle cx="186.5" cy="2311.4" r="5.2"/><circle cx="189.5" cy="2313.4" r="5.2"/><circle cx="185.6" cy="2316.3" r="5.2"/><circle cx="188.5" cy="2317.3" r="5.2"/><circle cx="187.5" cy="2347.7" r="5.2"/><circle cx="220.7" cy="2287.2" r="5.2"/><circle cx="213.3" cy="2294.5" r="5.2"/><circle cx="228.2" cy="2296.1" r="5.2"/><circle cx="217.3" cy="2298.5" r="5.2"/><circle cx="222.3" cy="2305.4" r="5.2"/><circle cx="219.3" cy="2310.4" r="5.2"/><circle cx="222.3" cy="2312.4" r="5.2"/><circle cx="220.3" cy="2314.4" r="5.2"/><circle cx="219.3" cy="2316.3" r="5.2"/><circle cx="221.3" cy="2317.3" r="5.2"/><circle cx="220.3" cy="2325.3" r="5.2"/><circle cx="243.1" cy="2290.6" r="5.2"/><circle cx="235.2" cy="2296.1" r="5.2"/><circle cx="251" cy="2302.9" r="5.2"/><circle cx="240.1" cy="2304.4" r="5.2"/><circle cx="246.1" cy="2308.4" r="5.2"/><circle cx="243.1" cy="2312.4" r="5.2"/><circle cx="241.1" cy="2316.3" r="5.2"/><circle cx="245.1" cy="2317.3" r="5.2"/><circle cx="242.1" cy="2319.3" r="5.2"/><circle cx="244.1" cy="2321.3" r="5.2"/><circle cx="243.1" cy="2325.3" r="5.2"/><circle cx="243.1" cy="2330.2" r="5.2"/><circle cx="276.2" cy="2272.3" r="5.2"/><circle cx="284.2" cy="2282.6" r="5.2"/><circle cx="268.3" cy="2286.6" r="5.2"/><circle cx="279.8" cy="2286.6" r="5.2"/><circle cx="272.9" cy="2296.9" r="5.2"/><circle cx="271.9" cy="2303.5" r="5.2"/><circle cx="280.8" cy="2305.4" r="5.2"/><circle cx="268.3" cy="2307.4" r="5.2"/><circle cx="283.8" cy="2315.4" r="5.2"/><circle cx="276.2" cy="2318.3" r="5.2"/><circle cx="273.8" cy="2320.3" r="5.2"/><circle cx="278.8" cy="2321.3" r="5.2"/><circle cx="276.2" cy="2328.3" r="5.2"/><circle cx="276.2" cy="2339.2" r="5.2"/><circle cx="298.7" cy="2266.2" r="5.2"/><circle cx="296.7" cy="2280.2" r="5.2"/><circle cx="299.6" cy="2285.6" r="5.2"/><circle cx="298.7" cy="2293.5" r="5.2"/><circle cx="299.6" cy="2305.4" r="5.2"/><circle cx="297.7" cy="2308.4" r="5.2"/><circle cx="295.7" cy="2316.3" r="5.2"/><circle cx="301.6" cy="2318.3" r="5.2"/><circle cx="298.7" cy="2322.3" r="5.2"/><circle cx="297.7" cy="2326.3" r="5.2"/><circle cx="299.6" cy="2328.3" r="5.2"/><circle cx="298.7" cy="2331.2" r="5.2"/><circle cx="331.4" cy="2265.2" r="5.2"/><circle cx="326.8" cy="2290.6" r="5.2"/><circle cx="335.4" cy="2292.1" r="5.2"/><circle cx="322.5" cy="2294.1" r="5.2"/><circle cx="339.3" cy="2296.5" r="5.2"/><circle cx="330.4" cy="2303.5" r="5.2"/><circle cx="332.4" cy="2304.4" r="5.2"/><circle cx="328.4" cy="2317.3" r="5.2"/><circle cx="333.4" cy="2321.3" r="5.2"/><circle cx="331" cy="2328.3" r="5.2"/><circle cx="351.8" cy="2292.5" r="5.2"/><circle cx="356.2" cy="2293.5" r="5.2"/><circle cx="354.2" cy="2300.5" r="5.2"/><circle cx="348.3" cy="2305.4" r="5.2"/><circle cx="361.2" cy="2307.4" r="5.2"/><circle cx="353.2" cy="2305.4" r="5.2"/><circle cx="352.2" cy="2310.4" r="5.2"/><circle cx="356.2" cy="2322.7" r="5.2"/><circle cx="354.2" cy="2339.2" r="5.2"/><circle cx="386.9" cy="2276.7" r="5.2"/><circle cx="386" cy="2278.7" r="5.2"/><circle cx="386.9" cy="2285.6" r="5.2"/><circle cx="386" cy="2287.6" r="5.2"/><circle cx="379" cy="2304.4" r="5.2"/><circle cx="384" cy="2305.4" r="5.2"/><circle cx="386.9" cy="2305.4" r="5.2"/><circle cx="390.9" cy="2305.4" r="5.2"/><circle cx="395.9" cy="2305.4" r="5.2"/><circle cx="411.7" cy="2287.2" r="5.2"/><circle cx="415.7" cy="2289.6" r="5.2"/><circle cx="404.8" cy="2290.6" r="5.2"/><circle cx="401.8" cy="2297.5" r="5.2"/><circle cx="408.8" cy="2300.5" r="5.2"/><circle cx="400.8" cy="2306.4" r="5.2"/><circle cx="413.7" cy="2321.3" r="5.2"/><circle cx="407.8" cy="2325.3" r="5.2"/><circle cx="409.8" cy="2331.2" r="5.2"/><circle cx="408.8" cy="2341.2" r="5.2"/><circle cx="449.7" cy="2276.7" r="5.2"/><circle cx="433.8" cy="2282.6" r="5.2"/><circle cx="439.8" cy="2284.2" r="5.2"/><circle cx="444.7" cy="2282.6" r="5.2"/><circle cx="442.7" cy="2288.6" r="5.2"/><circle cx="439.8" cy="2305.4" r="5.2"/><circle cx="441.7" cy="2303.5" r="5.2"/><circle cx="433.8" cy="2313.4" r="5.2"/><circle cx="447.7" cy="2312.8" r="5.2"/><circle cx="444.7" cy="2318.3" r="5.2"/><circle cx="438.8" cy="2325.3" r="5.2"/><circle cx="472.5" cy="2279.6" r="5.2"/><circle cx="456.6" cy="2283.2" r="5.2"/><circle cx="467.5" cy="2284.2" r="5.2"/><circle cx="462" cy="2295.5" r="5.2"/><circle cx="456.6" cy="2310.4" r="5.2"/><circle cx="462.6" cy="2311.4" r="5.2"/><circle cx="467.5" cy="2311.4" r="5.2"/><circle cx="473.1" cy="2311.4" r="5.2"/><circle cx="462.6" cy="2329.2" r="5.2"/><circle cx="466.5" cy="2329.2" r="5.2"/><circle cx="464.6" cy="2341.2" r="5.2"/><circle cx="495.7" cy="2257.8" r="5.2"/><circle cx="498.7" cy="2261.8" r="5.2"/><circle cx="497.3" cy="2266.7" r="5.2"/><circle cx="498.3" cy="2271.7" r="5.2"/><circle cx="495.3" cy="2275.7" r="5.2"/><circle cx="497.3" cy="2284.6" r="5.2"/><circle cx="505.2" cy="2295.1" r="5.2"/><circle cx="492.3" cy="2306.8" r="5.2"/><circle cx="519.5" cy="2250.5" r="5.2"/><circle cx="518.1" cy="2286.6" r="5.2"/><circle cx="520.1" cy="2289.6" r="5.2"/><circle cx="521.1" cy="2295.5" r="5.2"/><circle cx="518.1" cy="2305.4" r="5.2"/><circle cx="520.1" cy="2309.4" r="5.2"/><circle cx="519.5" cy="2330.6" r="5.2"/><circle cx="544.5" cy="2240.4" r="5.2"/><circle cx="557.2" cy="2255.8" r="5.2"/><circle cx="560.2" cy="2273.7" r="5.2"/><circle cx="547.5" cy="2279.6" r="5.2"/><circle cx="555.8" cy="2284.6" r="5.2"/><circle cx="551.9" cy="2296.5" r="5.2"/><circle cx="552.9" cy="2297.5" r="5.2"/><circle cx="552.5" cy="2326.3" r="5.2"/><circle cx="576.7" cy="2295.5" r="5.2"/><circle cx="573.7" cy="2297.5" r="5.2"/><circle cx="575.7" cy="2302.5" r="5.2"/><circle cx="573.7" cy="2305.4" r="5.2"/><circle cx="576.7" cy="2306.4" r="5.2"/><circle cx="574.7" cy="2308.4" r="5.2"/><circle cx="575.7" cy="2314.4" r="5.2"/><circle cx="574.7" cy="2320.3" r="5.2"/><circle cx="607.8" cy="2152.7" r="5.2"/><circle cx="607.4" cy="2273.7" r="5.2"/><circle cx="608.4" cy="2283.6" r="5.2"/><circle cx="609.4" cy="2294.5" r="5.2"/><circle cx="606.4" cy="2298.5" r="5.2"/><circle cx="607.4" cy="2300.5" r="5.2"/><circle cx="616.3" cy="2311.4" r="5.2"/><circle cx="602.9" cy="2319.3" r="5.2"/><circle cx="630.8" cy="2141.2" r="5.2"/><circle cx="630.8" cy="2277.7" r="5.2"/><circle cx="622.3" cy="2298.1" r="5.2"/><circle cx="639.2" cy="2304.4" r="5.2"/><circle cx="629.2" cy="2307.4" r="5.2"/><circle cx="634.2" cy="2306.4" r="5.2"/><circle cx="630.8" cy="2328.3" r="5.2"/><circle cx="665" cy="2279.6" r="5.2"/><circle cx="662" cy="2282.6" r="5.2"/><circle cx="664" cy="2285.6" r="5.2"/><circle cx="656" cy="2296.9" r="5.2"/><circle cx="661" cy="2297.5" r="5.2"/><circle cx="666" cy="2296.5" r="5.2"/><circle cx="669.9" cy="2295.5" r="5.2"/><circle cx="661.6" cy="2307.4" r="5.2"/><circle cx="694.1" cy="2272.7" r="5.2"/><circle cx="681.2" cy="2282.6" r="5.2"/><circle cx="686.8" cy="2287.6" r="5.2"/><circle cx="684.8" cy="2290.6" r="5.2"/><circle cx="686.8" cy="2293.5" r="5.2"/><circle cx="684.8" cy="2298.5" r="5.2"/><circle cx="694.1" cy="2309.4" r="5.2"/><circle cx="677.9" cy="2318.3" r="5.2"/><circle cx="688.8" cy="2318.3" r="5.2"/><circle cx="683.8" cy="2322.3" r="5.2"/></g>
</g>
</svg>
</body></html>
